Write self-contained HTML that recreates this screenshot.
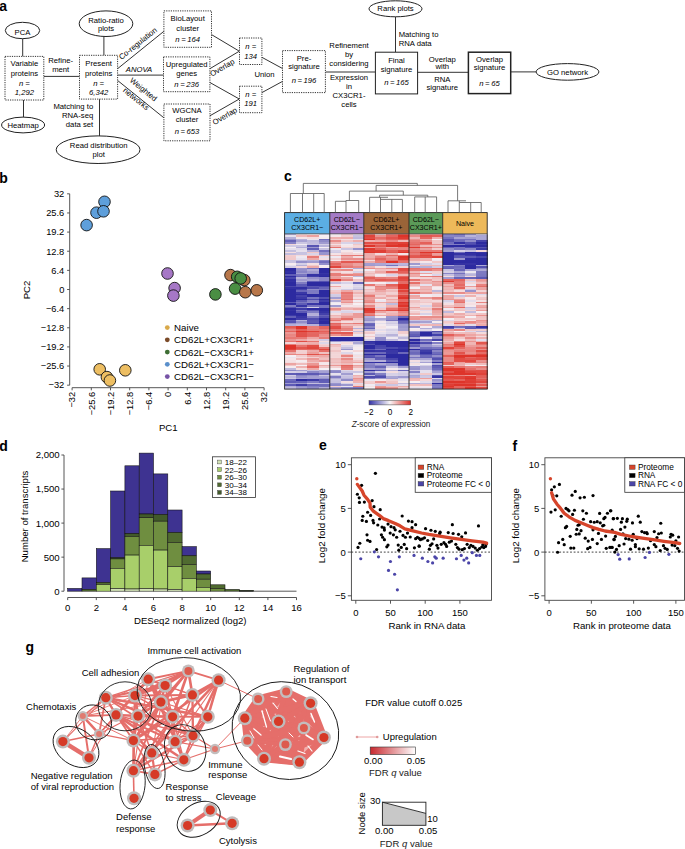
<!DOCTYPE html>
<html><head><meta charset="utf-8"><style>
html,body{margin:0;padding:0;background:#fff;width:685px;height:849px;overflow:hidden}
svg{display:block;font-family:"Liberation Sans",sans-serif}
</style></head><body>
<svg width="685" height="849" viewBox="0 0 685 849">
<rect width="685" height="849" fill="#fff"/>
<text x="-0.80" y="10.80" font-size="14" font-weight="bold" fill="#000" >a</text>
<line x1="22.70" y1="38.70" x2="22.70" y2="56.40" stroke="#333" stroke-width="1" />
<line x1="23.50" y1="99.10" x2="23.50" y2="117.10" stroke="#333" stroke-width="1" />
<line x1="43.80" y1="76.40" x2="79.50" y2="76.40" stroke="#333" stroke-width="1" />
<line x1="103.90" y1="36.50" x2="103.90" y2="55.30" stroke="#333" stroke-width="1" />
<line x1="99.50" y1="99.10" x2="99.50" y2="135.90" stroke="#333" stroke-width="1" />
<line x1="117.60" y1="68.70" x2="163.90" y2="31.30" stroke="#333" stroke-width="1" />
<line x1="117.60" y1="75.10" x2="163.90" y2="75.10" stroke="#333" stroke-width="1" />
<line x1="117.50" y1="80.40" x2="163.90" y2="117.80" stroke="#333" stroke-width="1" />
<line x1="211.50" y1="34.60" x2="239.30" y2="51.20" stroke="#333" stroke-width="1" />
<line x1="209.90" y1="68.70" x2="239.30" y2="51.20" stroke="#333" stroke-width="1" />
<line x1="209.90" y1="82.50" x2="239.30" y2="99.00" stroke="#333" stroke-width="1" />
<line x1="209.90" y1="115.80" x2="239.30" y2="99.00" stroke="#333" stroke-width="1" />
<line x1="261.90" y1="57.30" x2="282.50" y2="68.50" stroke="#333" stroke-width="1" />
<line x1="261.90" y1="92.60" x2="282.50" y2="81.40" stroke="#333" stroke-width="1" />
<line x1="325.40" y1="72.00" x2="375.40" y2="72.00" stroke="#333" stroke-width="1" />
<line x1="395.50" y1="16.90" x2="395.50" y2="52.20" stroke="#333" stroke-width="1" />
<line x1="417.30" y1="72.30" x2="468.40" y2="72.30" stroke="#333" stroke-width="1" />
<line x1="510.70" y1="71.90" x2="536.10" y2="71.90" stroke="#333" stroke-width="1" />
<ellipse cx="22.50" cy="30.50" rx="17.20" ry="8.20" fill="none" stroke="#222" stroke-width="1"/>
<text x="22.50" y="35.00" font-size="7.7" text-anchor="middle" >PCA</text>
<ellipse cx="23.10" cy="125.00" rx="21.50" ry="7.90" fill="none" stroke="#222" stroke-width="1"/>
<text x="23.10" y="127.70" font-size="7.7" text-anchor="middle" >Heatmap</text>
<ellipse cx="106.00" cy="23.70" rx="26.80" ry="12.80" fill="none" stroke="#222" stroke-width="1"/>
<text x="106.00" y="22.50" font-size="7.7" text-anchor="middle" >Ratio-ratio</text>
<text x="106.00" y="31.30" font-size="7.7" text-anchor="middle" >plots</text>
<ellipse cx="98.10" cy="149.70" rx="41.90" ry="13.80" fill="none" stroke="#222" stroke-width="1"/>
<text x="98.70" y="148.10" font-size="7.7" text-anchor="middle" >Read distribution</text>
<text x="98.70" y="157.30" font-size="7.7" text-anchor="middle" >plot</text>
<ellipse cx="395.50" cy="8.80" rx="26.50" ry="8.00" fill="none" stroke="#222" stroke-width="1"/>
<text x="395.50" y="10.90" font-size="7.7" text-anchor="middle" >Rank plots</text>
<ellipse cx="567.50" cy="71.90" rx="31.40" ry="8.30" fill="none" stroke="#222" stroke-width="1"/>
<text x="567.50" y="74.70" font-size="7.7" text-anchor="middle" >GO network</text>
<rect x="5.00" y="56.40" width="38.80" height="43.60" fill="#fff" stroke="#333" stroke-width="1" stroke-dasharray="1.2 1.1"/>
<text x="24.40" y="66.20" font-size="7.7" text-anchor="middle" >Variable</text>
<text x="24.40" y="75.80" font-size="7.7" text-anchor="middle" >proteins</text>
<text x="24.40" y="85.60" font-size="7.7" text-anchor="middle" font-style="italic" >n =</text>
<text x="24.40" y="95.30" font-size="7.7" text-anchor="middle" font-style="italic" >1,292</text>
<text x="60.70" y="63.00" font-size="7.7" text-anchor="middle" >Refine-</text>
<text x="60.70" y="71.80" font-size="7.7" text-anchor="middle" >ment</text>
<rect x="79.50" y="55.30" width="38.10" height="43.80" fill="#fff" stroke="#333" stroke-width="1" stroke-dasharray="1.2 1.1"/>
<text x="98.60" y="66.10" font-size="7.7" text-anchor="middle" >Present</text>
<text x="98.60" y="75.90" font-size="7.7" text-anchor="middle" >proteins</text>
<text x="98.60" y="85.50" font-size="7.7" text-anchor="middle" font-style="italic" >n =</text>
<text x="98.60" y="95.00" font-size="7.7" text-anchor="middle" font-style="italic" >6,342</text>
<text x="93.20" y="109.30" font-size="7.7" text-anchor="end" >Matching to</text>
<text x="93.20" y="117.90" font-size="7.7" text-anchor="end" >RNA-seq</text>
<text x="93.20" y="127.30" font-size="7.7" text-anchor="end" >data set</text>
<text x="139.50" y="45.50" font-size="7.7" text-anchor="middle" transform="rotate(-38.8 139.50 45.50)" >Co-regulation</text>
<text x="139.00" y="72.00" font-size="7.7" text-anchor="middle" font-style="italic" >ANOVA</text>
<text x="141.80" y="91.50" font-size="7.7" text-anchor="middle" transform="rotate(38.9 141.80 91.50)" >Weighted</text>
<text x="134.50" y="101.00" font-size="7.7" text-anchor="middle" transform="rotate(38.9 134.50 101.00)" >networks</text>
<rect x="163.90" y="10.90" width="47.60" height="36.40" fill="#fff" stroke="#333" stroke-width="1" stroke-dasharray="1.2 1.1"/>
<text x="187.70" y="21.40" font-size="7.7" text-anchor="middle" >BioLayout</text>
<text x="187.70" y="30.60" font-size="7.7" text-anchor="middle" >cluster</text>
<text x="187.70" y="41.80" font-size="7.7" text-anchor="middle" font-style="italic" >n = 164</text>
<rect x="163.50" y="56.90" width="46.40" height="34.80" fill="#fff" stroke="#333" stroke-width="1" stroke-dasharray="1.2 1.1"/>
<text x="186.70" y="66.80" font-size="7.7" text-anchor="middle" >Upregulated</text>
<text x="186.70" y="76.00" font-size="7.7" text-anchor="middle" >genes</text>
<text x="186.70" y="86.50" font-size="7.7" text-anchor="middle" font-style="italic" >n = 236</text>
<rect x="163.90" y="104.00" width="46.10" height="36.80" fill="#fff" stroke="#333" stroke-width="1" stroke-dasharray="1.2 1.1"/>
<text x="187.00" y="112.60" font-size="7.7" text-anchor="middle" >WGCNA</text>
<text x="187.00" y="121.80" font-size="7.7" text-anchor="middle" >cluster</text>
<text x="187.00" y="133.60" font-size="7.7" text-anchor="middle" font-style="italic" >n = 653</text>
<text x="223.50" y="70.00" font-size="7.7" text-anchor="middle" transform="rotate(-30.5 223.50 70.00)" >Overlap</text>
<text x="226.20" y="118.30" font-size="7.7" text-anchor="middle" transform="rotate(-30.5 226.20 118.30)" >Overlap</text>
<rect x="239.50" y="38.00" width="22.40" height="26.50" fill="#fff" stroke="#333" stroke-width="1" stroke-dasharray="1.2 1.1"/>
<text x="250.70" y="49.30" font-size="7.7" text-anchor="middle" font-style="italic" >n =</text>
<text x="250.70" y="58.90" font-size="7.7" text-anchor="middle" font-style="italic" >134</text>
<rect x="239.50" y="86.20" width="22.40" height="26.50" fill="#fff" stroke="#333" stroke-width="1" stroke-dasharray="1.2 1.1"/>
<text x="250.70" y="96.60" font-size="7.7" text-anchor="middle" font-style="italic" >n =</text>
<text x="250.70" y="105.50" font-size="7.7" text-anchor="middle" font-style="italic" >191</text>
<text x="264.50" y="77.40" font-size="7.7" text-anchor="middle" >Union</text>
<rect x="282.50" y="50.60" width="42.90" height="42.00" fill="#fff" stroke="#333" stroke-width="1" stroke-dasharray="1.2 1.1"/>
<text x="304.00" y="60.50" font-size="7.7" text-anchor="middle" >Pre-</text>
<text x="304.00" y="69.30" font-size="7.7" text-anchor="middle" >signature</text>
<text x="304.00" y="83.00" font-size="7.7" text-anchor="middle" font-style="italic" >n = 196</text>
<text x="349.00" y="47.90" font-size="7.7" text-anchor="middle" >Refinement</text>
<text x="349.00" y="57.00" font-size="7.7" text-anchor="middle" >by</text>
<text x="349.00" y="65.80" font-size="7.7" text-anchor="middle" >considering</text>
<text x="349.00" y="80.30" font-size="7.7" text-anchor="middle" >Expression</text>
<text x="349.00" y="89.40" font-size="7.7" text-anchor="middle" >in</text>
<text x="349.00" y="98.30" font-size="7.7" text-anchor="middle" >CX3CR1-</text>
<text x="349.00" y="107.30" font-size="7.7" text-anchor="middle" >cells</text>
<rect x="375.40" y="52.20" width="42.20" height="41.70" fill="#fff" stroke="#222" stroke-width="1" />
<text x="396.50" y="63.10" font-size="7.7" text-anchor="middle" >Final</text>
<text x="396.50" y="72.30" font-size="7.7" text-anchor="middle" >signature</text>
<text x="396.50" y="85.10" font-size="7.7" text-anchor="middle" font-style="italic" >n = 165</text>
<text x="398.70" y="36.60" font-size="7.7" >Matching to</text>
<text x="398.70" y="45.80" font-size="7.7" >RNA data</text>
<text x="442.30" y="61.50" font-size="7.7" text-anchor="middle" >Overlap</text>
<text x="442.30" y="69.40" font-size="7.7" text-anchor="middle" >with</text>
<text x="442.30" y="81.70" font-size="7.7" text-anchor="middle" >RNA</text>
<text x="442.30" y="90.40" font-size="7.7" text-anchor="middle" >signature</text>
<rect x="468.40" y="52.20" width="42.30" height="41.40" fill="#fff" stroke="#222" stroke-width="1.5" />
<text x="489.50" y="61.50" font-size="7.7" text-anchor="middle" >Overlap</text>
<text x="489.50" y="70.00" font-size="7.7" text-anchor="middle" >signature</text>
<text x="489.50" y="85.50" font-size="7.7" text-anchor="middle" font-style="italic" >n = 65</text>
<text x="-0.80" y="182.50" font-size="14" font-weight="bold" fill="#000" >b</text>
<line x1="69.70" y1="193.82" x2="69.70" y2="385.18" stroke="#444" stroke-width="0.9" />
<line x1="67.10" y1="193.82" x2="69.70" y2="193.82" stroke="#444" stroke-width="0.9" />
<text x="64.30" y="197.12" font-size="9.3" text-anchor="end" >32</text>
<line x1="67.10" y1="212.96" x2="69.70" y2="212.96" stroke="#444" stroke-width="0.9" />
<text x="64.30" y="216.26" font-size="9.3" text-anchor="end" >25.6</text>
<line x1="67.10" y1="232.09" x2="69.70" y2="232.09" stroke="#444" stroke-width="0.9" />
<text x="64.30" y="235.39" font-size="9.3" text-anchor="end" >19.2</text>
<line x1="67.10" y1="251.23" x2="69.70" y2="251.23" stroke="#444" stroke-width="0.9" />
<text x="64.30" y="254.53" font-size="9.3" text-anchor="end" >12.8</text>
<line x1="67.10" y1="270.36" x2="69.70" y2="270.36" stroke="#444" stroke-width="0.9" />
<text x="64.30" y="273.66" font-size="9.3" text-anchor="end" >6.4</text>
<line x1="67.10" y1="289.50" x2="69.70" y2="289.50" stroke="#444" stroke-width="0.9" />
<text x="64.30" y="292.80" font-size="9.3" text-anchor="end" >0</text>
<line x1="67.10" y1="308.64" x2="69.70" y2="308.64" stroke="#444" stroke-width="0.9" />
<text x="64.30" y="311.94" font-size="9.3" text-anchor="end" >−6.4</text>
<line x1="67.10" y1="327.77" x2="69.70" y2="327.77" stroke="#444" stroke-width="0.9" />
<text x="64.30" y="331.07" font-size="9.3" text-anchor="end" >−12.8</text>
<line x1="67.10" y1="346.91" x2="69.70" y2="346.91" stroke="#444" stroke-width="0.9" />
<text x="64.30" y="350.21" font-size="9.3" text-anchor="end" >−19.2</text>
<line x1="67.10" y1="366.04" x2="69.70" y2="366.04" stroke="#444" stroke-width="0.9" />
<text x="64.30" y="369.34" font-size="9.3" text-anchor="end" >−25.6</text>
<line x1="67.10" y1="385.18" x2="69.70" y2="385.18" stroke="#444" stroke-width="0.9" />
<text x="64.30" y="388.48" font-size="9.3" text-anchor="end" >−32</text>
<line x1="72.10" y1="387.70" x2="264.10" y2="387.70" stroke="#444" stroke-width="0.9" />
<line x1="264.10" y1="387.70" x2="264.10" y2="390.30" stroke="#444" stroke-width="0.9" />
<text x="267.40" y="391.80" font-size="9.3" text-anchor="end" transform="rotate(-90 267.40 391.80)" >32</text>
<line x1="244.90" y1="387.70" x2="244.90" y2="390.30" stroke="#444" stroke-width="0.9" />
<text x="248.20" y="391.80" font-size="9.3" text-anchor="end" transform="rotate(-90 248.20 391.80)" >25.6</text>
<line x1="225.70" y1="387.70" x2="225.70" y2="390.30" stroke="#444" stroke-width="0.9" />
<text x="229.00" y="391.80" font-size="9.3" text-anchor="end" transform="rotate(-90 229.00 391.80)" >19.2</text>
<line x1="206.50" y1="387.70" x2="206.50" y2="390.30" stroke="#444" stroke-width="0.9" />
<text x="209.80" y="391.80" font-size="9.3" text-anchor="end" transform="rotate(-90 209.80 391.80)" >12.8</text>
<line x1="187.30" y1="387.70" x2="187.30" y2="390.30" stroke="#444" stroke-width="0.9" />
<text x="190.60" y="391.80" font-size="9.3" text-anchor="end" transform="rotate(-90 190.60 391.80)" >6.4</text>
<line x1="168.10" y1="387.70" x2="168.10" y2="390.30" stroke="#444" stroke-width="0.9" />
<text x="171.40" y="391.80" font-size="9.3" text-anchor="end" transform="rotate(-90 171.40 391.80)" >0</text>
<line x1="148.90" y1="387.70" x2="148.90" y2="390.30" stroke="#444" stroke-width="0.9" />
<text x="152.20" y="391.80" font-size="9.3" text-anchor="end" transform="rotate(-90 152.20 391.80)" >−6.4</text>
<line x1="129.70" y1="387.70" x2="129.70" y2="390.30" stroke="#444" stroke-width="0.9" />
<text x="133.00" y="391.80" font-size="9.3" text-anchor="end" transform="rotate(-90 133.00 391.80)" >−12.8</text>
<line x1="110.50" y1="387.70" x2="110.50" y2="390.30" stroke="#444" stroke-width="0.9" />
<text x="113.80" y="391.80" font-size="9.3" text-anchor="end" transform="rotate(-90 113.80 391.80)" >−19.2</text>
<line x1="91.30" y1="387.70" x2="91.30" y2="390.30" stroke="#444" stroke-width="0.9" />
<text x="94.60" y="391.80" font-size="9.3" text-anchor="end" transform="rotate(-90 94.60 391.80)" >−25.6</text>
<line x1="72.10" y1="387.70" x2="72.10" y2="390.30" stroke="#444" stroke-width="0.9" />
<text x="75.40" y="391.80" font-size="9.3" text-anchor="end" transform="rotate(-90 75.40 391.80)" >−32</text>
<text x="168.30" y="431.00" font-size="9.6" text-anchor="middle" >PC1</text>
<text x="29.60" y="290.00" font-size="9.6" text-anchor="middle" transform="rotate(-90 29.60 290.00)" >PC2</text>
<circle cx="86.60" cy="225.10" r="5.80" fill="#5E9FDB" stroke="#111" stroke-width="0.9" />
<circle cx="104.50" cy="201.80" r="5.80" fill="#5E9FDB" stroke="#111" stroke-width="0.9" />
<circle cx="96.50" cy="212.70" r="5.80" fill="#5E9FDB" stroke="#111" stroke-width="0.9" />
<circle cx="103.50" cy="211.30" r="5.80" fill="#5E9FDB" stroke="#111" stroke-width="0.9" />
<circle cx="99.70" cy="369.30" r="5.80" fill="#EDBE62" stroke="#111" stroke-width="0.9" />
<circle cx="106.90" cy="377.10" r="5.80" fill="#EDBE62" stroke="#111" stroke-width="0.9" />
<circle cx="109.90" cy="380.50" r="5.80" fill="#EDBE62" stroke="#111" stroke-width="0.9" />
<circle cx="125.30" cy="370.30" r="5.80" fill="#EDBE62" stroke="#111" stroke-width="0.9" />
<circle cx="167.50" cy="273.50" r="5.80" fill="#A677C6" stroke="#111" stroke-width="0.9" />
<circle cx="174.60" cy="288.10" r="5.80" fill="#A677C6" stroke="#111" stroke-width="0.9" />
<circle cx="173.40" cy="295.60" r="5.80" fill="#A677C6" stroke="#111" stroke-width="0.9" />
<circle cx="215.40" cy="294.40" r="5.80" fill="#4A8E43" stroke="#111" stroke-width="0.9" />
<circle cx="230.50" cy="275.10" r="5.80" fill="#B8774A" stroke="#111" stroke-width="0.9" />
<circle cx="244.30" cy="280.10" r="5.80" fill="#B8774A" stroke="#111" stroke-width="0.9" />
<circle cx="237.20" cy="276.80" r="5.80" fill="#4A8E43" stroke="#111" stroke-width="0.9" />
<circle cx="240.70" cy="278.40" r="5.80" fill="#4A8E43" stroke="#111" stroke-width="0.9" />
<circle cx="235.10" cy="288.60" r="5.80" fill="#4A8E43" stroke="#111" stroke-width="0.9" />
<circle cx="245.30" cy="292.20" r="5.80" fill="#B8774A" stroke="#111" stroke-width="0.9" />
<circle cx="256.80" cy="290.30" r="5.80" fill="#B8774A" stroke="#111" stroke-width="0.9" />
<circle cx="167.30" cy="327.60" r="2.40" fill="#D9A94A" />
<text x="174.10" y="331.00" font-size="9.7" >Naive</text>
<circle cx="167.30" cy="339.85" r="2.40" fill="#7A4A28" />
<text x="174.10" y="343.25" font-size="9.7" >CD62L+CX3CR1+</text>
<circle cx="167.30" cy="352.10" r="2.40" fill="#3E6E34" />
<text x="174.10" y="355.50" font-size="9.7" >CD62L−CX3CR1+</text>
<circle cx="167.30" cy="364.35" r="2.40" fill="#5A8FCB" />
<text x="174.10" y="367.75" font-size="9.7" >CD62L+CX3CR1−</text>
<circle cx="167.30" cy="376.60" r="2.40" fill="#7653A6" />
<text x="174.10" y="380.00" font-size="9.7" >CD62L−CX3CR1−</text>
<text x="284.00" y="181.40" font-size="14" font-weight="bold" fill="#000" >c</text>
<g shape-rendering="crispEdges"><rect x="284.6" y="233.80" width="11.6" height="1.92" fill="#b3aed8"/><rect x="295.9" y="233.80" width="11.6" height="1.92" fill="#f3dcde"/><rect x="307.2" y="233.80" width="11.6" height="1.92" fill="#f5ebef"/><rect x="318.5" y="233.80" width="11.6" height="1.92" fill="#d6d1e7"/><rect x="284.6" y="235.42" width="11.6" height="1.92" fill="#e7e1ee"/><rect x="295.9" y="235.42" width="11.6" height="1.92" fill="#efb9b9"/><rect x="307.2" y="235.42" width="11.6" height="1.92" fill="#eca19f"/><rect x="318.5" y="235.42" width="11.6" height="1.92" fill="#f6eef2"/><rect x="284.6" y="237.04" width="11.6" height="1.92" fill="#b6b1d9"/><rect x="295.9" y="237.04" width="11.6" height="1.92" fill="#f5e5e8"/><rect x="307.2" y="237.04" width="11.6" height="1.92" fill="#f4dde0"/><rect x="318.5" y="237.04" width="11.6" height="1.92" fill="#f5ecef"/><rect x="284.6" y="238.65" width="11.6" height="1.92" fill="#9793cc"/><rect x="295.9" y="238.65" width="11.6" height="1.92" fill="#b8b3da"/><rect x="307.2" y="238.65" width="11.6" height="1.92" fill="#ebe5ef"/><rect x="318.5" y="238.65" width="11.6" height="1.92" fill="#7370be"/><rect x="284.6" y="240.27" width="11.6" height="1.92" fill="#6663b8"/><rect x="295.9" y="240.27" width="11.6" height="1.92" fill="#a7a2d3"/><rect x="307.2" y="240.27" width="11.6" height="1.92" fill="#bcb7dc"/><rect x="318.5" y="240.27" width="11.6" height="1.92" fill="#8f8bc9"/><rect x="284.6" y="241.89" width="11.6" height="1.92" fill="#8581c5"/><rect x="295.9" y="241.89" width="11.6" height="1.92" fill="#cbc6e2"/><rect x="307.2" y="241.89" width="11.6" height="1.92" fill="#c1bcde"/><rect x="318.5" y="241.89" width="11.6" height="1.92" fill="#a09bd0"/><rect x="284.6" y="243.51" width="11.6" height="1.92" fill="#f3d7d9"/><rect x="295.9" y="243.51" width="11.6" height="1.92" fill="#f0eaf1"/><rect x="307.2" y="243.51" width="11.6" height="1.92" fill="#c5c0e0"/><rect x="318.5" y="243.51" width="11.6" height="1.92" fill="#d4cfe6"/><rect x="284.6" y="245.12" width="11.6" height="1.92" fill="#d0cbe4"/><rect x="295.9" y="245.12" width="11.6" height="1.92" fill="#cbc6e2"/><rect x="307.2" y="245.12" width="11.6" height="1.92" fill="#5855b2"/><rect x="318.5" y="245.12" width="11.6" height="1.92" fill="#b8b3da"/><rect x="284.6" y="246.74" width="11.6" height="1.92" fill="#f6eef2"/><rect x="295.9" y="246.74" width="11.6" height="1.92" fill="#b2add8"/><rect x="307.2" y="246.74" width="11.6" height="1.92" fill="#9c97ce"/><rect x="318.5" y="246.74" width="11.6" height="1.92" fill="#f6eff3"/><rect x="284.6" y="248.36" width="11.6" height="1.92" fill="#e5dfed"/><rect x="295.9" y="248.36" width="11.6" height="1.92" fill="#dfdaea"/><rect x="307.2" y="248.36" width="11.6" height="1.92" fill="#6360b7"/><rect x="318.5" y="248.36" width="11.6" height="1.92" fill="#c7c2e1"/><rect x="284.6" y="249.98" width="11.6" height="1.92" fill="#c4bfdf"/><rect x="295.9" y="249.98" width="11.6" height="1.92" fill="#e6e0ed"/><rect x="307.2" y="249.98" width="11.6" height="1.92" fill="#b6b1d9"/><rect x="318.5" y="249.98" width="11.6" height="1.92" fill="#7470be"/><rect x="284.6" y="251.59" width="11.6" height="1.92" fill="#f4dee0"/><rect x="295.9" y="251.59" width="11.6" height="1.92" fill="#c7c2e0"/><rect x="307.2" y="251.59" width="11.6" height="1.92" fill="#f1c6c7"/><rect x="318.5" y="251.59" width="11.6" height="1.92" fill="#9894cd"/><rect x="284.6" y="253.21" width="11.6" height="1.92" fill="#c1bcde"/><rect x="295.9" y="253.21" width="11.6" height="1.92" fill="#c8c3e1"/><rect x="307.2" y="253.21" width="11.6" height="1.92" fill="#d9d4e8"/><rect x="318.5" y="253.21" width="11.6" height="1.92" fill="#9894cd"/><rect x="284.6" y="254.83" width="11.6" height="1.92" fill="#f2cecf"/><rect x="295.9" y="254.83" width="11.6" height="1.92" fill="#f3dcdf"/><rect x="307.2" y="254.83" width="11.6" height="1.92" fill="#f1c9ca"/><rect x="318.5" y="254.83" width="11.6" height="1.92" fill="#f0bfc0"/><rect x="284.6" y="256.45" width="11.6" height="1.92" fill="#f1cacc"/><rect x="295.9" y="256.45" width="11.6" height="1.92" fill="#eee8f1"/><rect x="307.2" y="256.45" width="11.6" height="1.92" fill="#e77e79"/><rect x="318.5" y="256.45" width="11.6" height="1.92" fill="#e6e0ed"/><rect x="284.6" y="258.07" width="11.6" height="1.92" fill="#f1c9ca"/><rect x="295.9" y="258.07" width="11.6" height="1.92" fill="#e7e1ee"/><rect x="307.2" y="258.07" width="11.6" height="1.92" fill="#eda9a7"/><rect x="318.5" y="258.07" width="11.6" height="1.92" fill="#f4dee1"/><rect x="284.6" y="259.68" width="11.6" height="1.92" fill="#c8c2e1"/><rect x="295.9" y="259.68" width="11.6" height="1.92" fill="#bfbadd"/><rect x="307.2" y="259.68" width="11.6" height="1.92" fill="#b5b0d9"/><rect x="318.5" y="259.68" width="11.6" height="1.92" fill="#8d89c8"/><rect x="284.6" y="261.30" width="11.6" height="1.92" fill="#c9c4e1"/><rect x="295.9" y="261.30" width="11.6" height="1.92" fill="#9490cb"/><rect x="307.2" y="261.30" width="11.6" height="1.92" fill="#a19dd1"/><rect x="318.5" y="261.30" width="11.6" height="1.92" fill="#736fbd"/><rect x="284.6" y="262.92" width="11.6" height="1.92" fill="#f6ecf0"/><rect x="295.9" y="262.92" width="11.6" height="1.92" fill="#d4cfe6"/><rect x="307.2" y="262.92" width="11.6" height="1.92" fill="#f4e0e3"/><rect x="318.5" y="262.92" width="11.6" height="1.92" fill="#938fcb"/><rect x="284.6" y="264.54" width="11.6" height="1.92" fill="#e7e1ee"/><rect x="295.9" y="264.54" width="11.6" height="1.92" fill="#b3afd8"/><rect x="307.2" y="264.54" width="11.6" height="1.92" fill="#f1cbcc"/><rect x="318.5" y="264.54" width="11.6" height="1.92" fill="#f6eff3"/><rect x="284.6" y="266.15" width="11.6" height="1.92" fill="#d3cde5"/><rect x="295.9" y="266.15" width="11.6" height="1.92" fill="#f3d7da"/><rect x="307.2" y="266.15" width="11.6" height="1.92" fill="#edaaa9"/><rect x="318.5" y="266.15" width="11.6" height="1.92" fill="#f5ebef"/><rect x="284.6" y="267.77" width="11.6" height="1.92" fill="#2c2aa0"/><rect x="295.9" y="267.77" width="11.6" height="1.92" fill="#9792cc"/><rect x="307.2" y="267.77" width="11.6" height="1.92" fill="#7774bf"/><rect x="318.5" y="267.77" width="11.6" height="1.92" fill="#2c2aa0"/><rect x="284.6" y="269.39" width="11.6" height="1.92" fill="#2c2aa0"/><rect x="295.9" y="269.39" width="11.6" height="1.92" fill="#928ecb"/><rect x="307.2" y="269.39" width="11.6" height="1.92" fill="#b0abd7"/><rect x="318.5" y="269.39" width="11.6" height="1.92" fill="#2c2aa0"/><rect x="284.6" y="271.01" width="11.6" height="1.92" fill="#3331a3"/><rect x="295.9" y="271.01" width="11.6" height="1.92" fill="#8985c7"/><rect x="307.2" y="271.01" width="11.6" height="1.92" fill="#9d98cf"/><rect x="318.5" y="271.01" width="11.6" height="1.92" fill="#2c2aa0"/><rect x="284.6" y="272.62" width="11.6" height="1.92" fill="#2c2aa0"/><rect x="295.9" y="272.62" width="11.6" height="1.92" fill="#a29ed1"/><rect x="307.2" y="272.62" width="11.6" height="1.92" fill="#9490cb"/><rect x="318.5" y="272.62" width="11.6" height="1.92" fill="#3735a5"/><rect x="284.6" y="274.24" width="11.6" height="1.92" fill="#605db6"/><rect x="295.9" y="274.24" width="11.6" height="1.92" fill="#7875c0"/><rect x="307.2" y="274.24" width="11.6" height="1.92" fill="#3533a4"/><rect x="318.5" y="274.24" width="11.6" height="1.92" fill="#312fa2"/><rect x="284.6" y="275.86" width="11.6" height="1.92" fill="#2c2aa0"/><rect x="295.9" y="275.86" width="11.6" height="1.92" fill="#6965b9"/><rect x="307.2" y="275.86" width="11.6" height="1.92" fill="#413ea9"/><rect x="318.5" y="275.86" width="11.6" height="1.92" fill="#2c2aa0"/><rect x="284.6" y="277.48" width="11.6" height="1.92" fill="#4a48ad"/><rect x="295.9" y="277.48" width="11.6" height="1.92" fill="#b8b4da"/><rect x="307.2" y="277.48" width="11.6" height="1.92" fill="#9590cb"/><rect x="318.5" y="277.48" width="11.6" height="1.92" fill="#8985c7"/><rect x="284.6" y="279.10" width="11.6" height="1.92" fill="#302ea2"/><rect x="295.9" y="279.10" width="11.6" height="1.92" fill="#a09bd0"/><rect x="307.2" y="279.10" width="11.6" height="1.92" fill="#a6a1d3"/><rect x="318.5" y="279.10" width="11.6" height="1.92" fill="#8a86c7"/><rect x="284.6" y="280.71" width="11.6" height="1.92" fill="#3331a3"/><rect x="295.9" y="280.71" width="11.6" height="1.92" fill="#b2aed8"/><rect x="307.2" y="280.71" width="11.6" height="1.92" fill="#605db6"/><rect x="318.5" y="280.71" width="11.6" height="1.92" fill="#5451b1"/><rect x="284.6" y="282.33" width="11.6" height="1.92" fill="#2c2aa0"/><rect x="295.9" y="282.33" width="11.6" height="1.92" fill="#817dc3"/><rect x="307.2" y="282.33" width="11.6" height="1.92" fill="#2c2aa0"/><rect x="318.5" y="282.33" width="11.6" height="1.92" fill="#2c2aa0"/><rect x="284.6" y="283.95" width="11.6" height="1.92" fill="#2c2aa0"/><rect x="295.9" y="283.95" width="11.6" height="1.92" fill="#5c59b4"/><rect x="307.2" y="283.95" width="11.6" height="1.92" fill="#2c2aa0"/><rect x="318.5" y="283.95" width="11.6" height="1.92" fill="#2c2aa0"/><rect x="284.6" y="285.57" width="11.6" height="1.92" fill="#4946ac"/><rect x="295.9" y="285.57" width="11.6" height="1.92" fill="#5b58b3"/><rect x="307.2" y="285.57" width="11.6" height="1.92" fill="#5855b2"/><rect x="318.5" y="285.57" width="11.6" height="1.92" fill="#4f4cae"/><rect x="284.6" y="287.18" width="11.6" height="1.92" fill="#3331a3"/><rect x="295.9" y="287.18" width="11.6" height="1.92" fill="#312fa2"/><rect x="307.2" y="287.18" width="11.6" height="1.92" fill="#4e4bae"/><rect x="318.5" y="287.18" width="11.6" height="1.92" fill="#6663b8"/><rect x="284.6" y="288.80" width="11.6" height="1.92" fill="#2c2aa0"/><rect x="295.9" y="288.80" width="11.6" height="1.92" fill="#4745ab"/><rect x="307.2" y="288.80" width="11.6" height="1.92" fill="#918dca"/><rect x="318.5" y="288.80" width="11.6" height="1.92" fill="#7a76c0"/><rect x="284.6" y="290.42" width="11.6" height="1.92" fill="#2c2aa0"/><rect x="295.9" y="290.42" width="11.6" height="1.92" fill="#6a67ba"/><rect x="307.2" y="290.42" width="11.6" height="1.92" fill="#7d7ac2"/><rect x="318.5" y="290.42" width="11.6" height="1.92" fill="#2c2aa0"/><rect x="284.6" y="292.04" width="11.6" height="1.92" fill="#2c2aa0"/><rect x="295.9" y="292.04" width="11.6" height="1.92" fill="#3a38a6"/><rect x="307.2" y="292.04" width="11.6" height="1.92" fill="#7e7ac2"/><rect x="318.5" y="292.04" width="11.6" height="1.92" fill="#2c2aa0"/><rect x="284.6" y="293.66" width="11.6" height="1.92" fill="#2c2aa0"/><rect x="295.9" y="293.66" width="11.6" height="1.92" fill="#2c2aa0"/><rect x="307.2" y="293.66" width="11.6" height="1.92" fill="#2c2aa0"/><rect x="318.5" y="293.66" width="11.6" height="1.92" fill="#2c2aa0"/><rect x="284.6" y="295.27" width="11.6" height="1.92" fill="#2c2aa0"/><rect x="295.9" y="295.27" width="11.6" height="1.92" fill="#4643ab"/><rect x="307.2" y="295.27" width="11.6" height="1.92" fill="#2c2aa0"/><rect x="318.5" y="295.27" width="11.6" height="1.92" fill="#2c2aa0"/><rect x="284.6" y="296.89" width="11.6" height="1.92" fill="#2c2aa0"/><rect x="295.9" y="296.89" width="11.6" height="1.92" fill="#3b39a6"/><rect x="307.2" y="296.89" width="11.6" height="1.92" fill="#7875c0"/><rect x="318.5" y="296.89" width="11.6" height="1.92" fill="#5250b0"/><rect x="284.6" y="298.51" width="11.6" height="1.92" fill="#2c2aa0"/><rect x="295.9" y="298.51" width="11.6" height="1.92" fill="#2c2aa0"/><rect x="307.2" y="298.51" width="11.6" height="1.92" fill="#4e4cae"/><rect x="318.5" y="298.51" width="11.6" height="1.92" fill="#2c2aa0"/><rect x="284.6" y="300.13" width="11.6" height="1.92" fill="#2c2aa0"/><rect x="295.9" y="300.13" width="11.6" height="1.92" fill="#5e5bb5"/><rect x="307.2" y="300.13" width="11.6" height="1.92" fill="#8480c4"/><rect x="318.5" y="300.13" width="11.6" height="1.92" fill="#3f3da8"/><rect x="284.6" y="301.74" width="11.6" height="1.92" fill="#5b58b4"/><rect x="295.9" y="301.74" width="11.6" height="1.92" fill="#7a77c1"/><rect x="307.2" y="301.74" width="11.6" height="1.92" fill="#8b88c8"/><rect x="318.5" y="301.74" width="11.6" height="1.92" fill="#2c2aa0"/><rect x="284.6" y="303.36" width="11.6" height="1.92" fill="#2c2aa0"/><rect x="295.9" y="303.36" width="11.6" height="1.92" fill="#605db6"/><rect x="307.2" y="303.36" width="11.6" height="1.92" fill="#3a37a6"/><rect x="318.5" y="303.36" width="11.6" height="1.92" fill="#2c2aa0"/><rect x="284.6" y="304.98" width="11.6" height="1.92" fill="#817dc3"/><rect x="295.9" y="304.98" width="11.6" height="1.92" fill="#3735a5"/><rect x="307.2" y="304.98" width="11.6" height="1.92" fill="#7773bf"/><rect x="318.5" y="304.98" width="11.6" height="1.92" fill="#726fbd"/><rect x="284.6" y="306.60" width="11.6" height="1.92" fill="#5956b3"/><rect x="295.9" y="306.60" width="11.6" height="1.92" fill="#8783c6"/><rect x="307.2" y="306.60" width="11.6" height="1.92" fill="#d3cee5"/><rect x="318.5" y="306.60" width="11.6" height="1.92" fill="#7370be"/><rect x="284.6" y="308.21" width="11.6" height="1.92" fill="#2c2aa0"/><rect x="295.9" y="308.21" width="11.6" height="1.92" fill="#3c3aa7"/><rect x="307.2" y="308.21" width="11.6" height="1.92" fill="#2c2aa0"/><rect x="318.5" y="308.21" width="11.6" height="1.92" fill="#2c2aa0"/><rect x="284.6" y="309.83" width="11.6" height="1.92" fill="#3432a3"/><rect x="295.9" y="309.83" width="11.6" height="1.92" fill="#7975c0"/><rect x="307.2" y="309.83" width="11.6" height="1.92" fill="#5b58b4"/><rect x="318.5" y="309.83" width="11.6" height="1.92" fill="#2c2aa0"/><rect x="284.6" y="311.45" width="11.6" height="1.92" fill="#2c2aa0"/><rect x="295.9" y="311.45" width="11.6" height="1.92" fill="#5c59b4"/><rect x="307.2" y="311.45" width="11.6" height="1.92" fill="#7f7cc3"/><rect x="318.5" y="311.45" width="11.6" height="1.92" fill="#3432a3"/><rect x="284.6" y="313.07" width="11.6" height="1.92" fill="#2c2aa0"/><rect x="295.9" y="313.07" width="11.6" height="1.92" fill="#2c2aa0"/><rect x="307.2" y="313.07" width="11.6" height="1.92" fill="#b3aed8"/><rect x="318.5" y="313.07" width="11.6" height="1.92" fill="#4341aa"/><rect x="284.6" y="314.69" width="11.6" height="1.92" fill="#3c3aa7"/><rect x="295.9" y="314.69" width="11.6" height="1.92" fill="#2c2aa0"/><rect x="307.2" y="314.69" width="11.6" height="1.92" fill="#b7b2da"/><rect x="318.5" y="314.69" width="11.6" height="1.92" fill="#6662b8"/><rect x="284.6" y="316.30" width="11.6" height="1.92" fill="#625fb6"/><rect x="295.9" y="316.30" width="11.6" height="1.92" fill="#3936a5"/><rect x="307.2" y="316.30" width="11.6" height="1.92" fill="#7f7bc3"/><rect x="318.5" y="316.30" width="11.6" height="1.92" fill="#5451b0"/><rect x="284.6" y="317.92" width="11.6" height="1.92" fill="#2c2aa0"/><rect x="295.9" y="317.92" width="11.6" height="1.92" fill="#413ea9"/><rect x="307.2" y="317.92" width="11.6" height="1.92" fill="#504daf"/><rect x="318.5" y="317.92" width="11.6" height="1.92" fill="#2c2aa0"/><rect x="284.6" y="319.54" width="11.6" height="1.92" fill="#5e5bb5"/><rect x="295.9" y="319.54" width="11.6" height="1.92" fill="#b7b2da"/><rect x="307.2" y="319.54" width="11.6" height="1.92" fill="#5a57b3"/><rect x="318.5" y="319.54" width="11.6" height="1.92" fill="#3432a3"/><rect x="284.6" y="321.16" width="11.6" height="1.92" fill="#5451b1"/><rect x="295.9" y="321.16" width="11.6" height="1.92" fill="#928eca"/><rect x="307.2" y="321.16" width="11.6" height="1.92" fill="#5c59b4"/><rect x="318.5" y="321.16" width="11.6" height="1.92" fill="#2c2aa0"/><rect x="284.6" y="322.77" width="11.6" height="1.92" fill="#9793cd"/><rect x="295.9" y="322.77" width="11.6" height="1.92" fill="#a8a4d4"/><rect x="307.2" y="322.77" width="11.6" height="1.92" fill="#4d4aae"/><rect x="318.5" y="322.77" width="11.6" height="1.92" fill="#2c2aa0"/><rect x="284.6" y="324.39" width="11.6" height="1.92" fill="#b3aed8"/><rect x="295.9" y="324.39" width="11.6" height="1.92" fill="#bcb7dc"/><rect x="307.2" y="324.39" width="11.6" height="1.92" fill="#b6b1d9"/><rect x="318.5" y="324.39" width="11.6" height="1.92" fill="#5e5bb5"/><rect x="284.6" y="326.01" width="11.6" height="1.92" fill="#e35b53"/><rect x="295.9" y="326.01" width="11.6" height="1.92" fill="#de342a"/><rect x="307.2" y="326.01" width="11.6" height="1.92" fill="#e77d79"/><rect x="318.5" y="326.01" width="11.6" height="1.92" fill="#e4655f"/><rect x="284.6" y="327.63" width="11.6" height="1.92" fill="#e56a64"/><rect x="295.9" y="327.63" width="11.6" height="1.92" fill="#de342a"/><rect x="307.2" y="327.63" width="11.6" height="1.92" fill="#e77e7a"/><rect x="318.5" y="327.63" width="11.6" height="1.92" fill="#e4635c"/><rect x="284.6" y="329.24" width="11.6" height="1.92" fill="#e88582"/><rect x="295.9" y="329.24" width="11.6" height="1.92" fill="#e35f58"/><rect x="307.2" y="329.24" width="11.6" height="1.92" fill="#e77974"/><rect x="318.5" y="329.24" width="11.6" height="1.92" fill="#e77c77"/><rect x="284.6" y="330.86" width="11.6" height="1.92" fill="#e4625c"/><rect x="295.9" y="330.86" width="11.6" height="1.92" fill="#de342a"/><rect x="307.2" y="330.86" width="11.6" height="1.92" fill="#e04138"/><rect x="318.5" y="330.86" width="11.6" height="1.92" fill="#e46059"/><rect x="284.6" y="332.48" width="11.6" height="1.92" fill="#eb9794"/><rect x="295.9" y="332.48" width="11.6" height="1.92" fill="#e2544d"/><rect x="307.2" y="332.48" width="11.6" height="1.92" fill="#e56862"/><rect x="318.5" y="332.48" width="11.6" height="1.92" fill="#e66f6a"/><rect x="284.6" y="334.10" width="11.6" height="1.92" fill="#e98783"/><rect x="295.9" y="334.10" width="11.6" height="1.92" fill="#e2534c"/><rect x="307.2" y="334.10" width="11.6" height="1.92" fill="#e46660"/><rect x="318.5" y="334.10" width="11.6" height="1.92" fill="#e98e8b"/><rect x="284.6" y="335.72" width="11.6" height="1.92" fill="#e98b88"/><rect x="295.9" y="335.72" width="11.6" height="1.92" fill="#e25149"/><rect x="307.2" y="335.72" width="11.6" height="1.92" fill="#e56c67"/><rect x="318.5" y="335.72" width="11.6" height="1.92" fill="#ea9491"/><rect x="284.6" y="337.33" width="11.6" height="1.92" fill="#e77a75"/><rect x="295.9" y="337.33" width="11.6" height="1.92" fill="#e77b77"/><rect x="307.2" y="337.33" width="11.6" height="1.92" fill="#eca5a3"/><rect x="318.5" y="337.33" width="11.6" height="1.92" fill="#e77c77"/><rect x="284.6" y="338.95" width="11.6" height="1.92" fill="#ea9592"/><rect x="295.9" y="338.95" width="11.6" height="1.92" fill="#eda8a6"/><rect x="307.2" y="338.95" width="11.6" height="1.92" fill="#f0bdbd"/><rect x="318.5" y="338.95" width="11.6" height="1.92" fill="#cfcae4"/><rect x="284.6" y="340.57" width="11.6" height="1.92" fill="#e67671"/><rect x="295.9" y="340.57" width="11.6" height="1.92" fill="#e14d45"/><rect x="307.2" y="340.57" width="11.6" height="1.92" fill="#e67671"/><rect x="318.5" y="340.57" width="11.6" height="1.92" fill="#f4dddf"/><rect x="284.6" y="342.19" width="11.6" height="1.92" fill="#f3d5d7"/><rect x="295.9" y="342.19" width="11.6" height="1.92" fill="#efbaba"/><rect x="307.2" y="342.19" width="11.6" height="1.92" fill="#eeafae"/><rect x="318.5" y="342.19" width="11.6" height="1.92" fill="#dcd7e9"/><rect x="284.6" y="343.80" width="11.6" height="1.92" fill="#e87f7b"/><rect x="295.9" y="343.80" width="11.6" height="1.92" fill="#edaba9"/><rect x="307.2" y="343.80" width="11.6" height="1.92" fill="#ec9f9d"/><rect x="318.5" y="343.80" width="11.6" height="1.92" fill="#f2d4d6"/><rect x="284.6" y="345.42" width="11.6" height="1.92" fill="#de342a"/><rect x="295.9" y="345.42" width="11.6" height="1.92" fill="#e6736e"/><rect x="307.2" y="345.42" width="11.6" height="1.92" fill="#e14e46"/><rect x="318.5" y="345.42" width="11.6" height="1.92" fill="#f1c9ca"/><rect x="284.6" y="347.04" width="11.6" height="1.92" fill="#de342a"/><rect x="295.9" y="347.04" width="11.6" height="1.92" fill="#e2554d"/><rect x="307.2" y="347.04" width="11.6" height="1.92" fill="#e0473e"/><rect x="318.5" y="347.04" width="11.6" height="1.92" fill="#e6746f"/><rect x="284.6" y="348.66" width="11.6" height="1.92" fill="#e0433b"/><rect x="295.9" y="348.66" width="11.6" height="1.92" fill="#e56a64"/><rect x="307.2" y="348.66" width="11.6" height="1.92" fill="#e56862"/><rect x="318.5" y="348.66" width="11.6" height="1.92" fill="#e1483f"/><rect x="284.6" y="350.28" width="11.6" height="1.92" fill="#e6736e"/><rect x="295.9" y="350.28" width="11.6" height="1.92" fill="#f2d1d2"/><rect x="307.2" y="350.28" width="11.6" height="1.92" fill="#eda9a8"/><rect x="318.5" y="350.28" width="11.6" height="1.92" fill="#e56d68"/><rect x="284.6" y="351.89" width="11.6" height="1.92" fill="#edabaa"/><rect x="295.9" y="351.89" width="11.6" height="1.92" fill="#f2cfd1"/><rect x="307.2" y="351.89" width="11.6" height="1.92" fill="#eb9d9a"/><rect x="318.5" y="351.89" width="11.6" height="1.92" fill="#f0c1c1"/><rect x="284.6" y="353.51" width="11.6" height="1.92" fill="#e88582"/><rect x="295.9" y="353.51" width="11.6" height="1.92" fill="#e98b87"/><rect x="307.2" y="353.51" width="11.6" height="1.92" fill="#e25149"/><rect x="318.5" y="353.51" width="11.6" height="1.92" fill="#e56a64"/><rect x="284.6" y="355.13" width="11.6" height="1.92" fill="#f5eff4"/><rect x="295.9" y="355.13" width="11.6" height="1.92" fill="#f2cfd1"/><rect x="307.2" y="355.13" width="11.6" height="1.92" fill="#eda8a7"/><rect x="318.5" y="355.13" width="11.6" height="1.92" fill="#eda9a8"/><rect x="284.6" y="356.75" width="11.6" height="1.92" fill="#eae5ef"/><rect x="295.9" y="356.75" width="11.6" height="1.92" fill="#f4dee1"/><rect x="307.2" y="356.75" width="11.6" height="1.92" fill="#f2cfd1"/><rect x="318.5" y="356.75" width="11.6" height="1.92" fill="#efb6b6"/><rect x="284.6" y="358.36" width="11.6" height="1.92" fill="#f5e6ea"/><rect x="295.9" y="358.36" width="11.6" height="1.92" fill="#efbaba"/><rect x="307.2" y="358.36" width="11.6" height="1.92" fill="#eb9997"/><rect x="318.5" y="358.36" width="11.6" height="1.92" fill="#f0bfbf"/><rect x="284.6" y="359.98" width="11.6" height="1.92" fill="#f4e1e4"/><rect x="295.9" y="359.98" width="11.6" height="1.92" fill="#f5ecef"/><rect x="307.2" y="359.98" width="11.6" height="1.92" fill="#edadac"/><rect x="318.5" y="359.98" width="11.6" height="1.92" fill="#eb9b99"/><rect x="284.6" y="361.60" width="11.6" height="1.92" fill="#f3dcde"/><rect x="295.9" y="361.60" width="11.6" height="1.92" fill="#f4e2e5"/><rect x="307.2" y="361.60" width="11.6" height="1.92" fill="#f0c5c5"/><rect x="318.5" y="361.60" width="11.6" height="1.92" fill="#f5e5e8"/><rect x="284.6" y="363.22" width="11.6" height="1.92" fill="#eca4a2"/><rect x="295.9" y="363.22" width="11.6" height="1.92" fill="#efbdbd"/><rect x="307.2" y="363.22" width="11.6" height="1.92" fill="#eb9895"/><rect x="318.5" y="363.22" width="11.6" height="1.92" fill="#f5e7ea"/><rect x="284.6" y="364.83" width="11.6" height="1.92" fill="#f1c5c6"/><rect x="295.9" y="364.83" width="11.6" height="1.92" fill="#f5eff4"/><rect x="307.2" y="364.83" width="11.6" height="1.92" fill="#e98985"/><rect x="318.5" y="364.83" width="11.6" height="1.92" fill="#edabaa"/><rect x="284.6" y="366.45" width="11.6" height="1.92" fill="#f5ebee"/><rect x="295.9" y="366.45" width="11.6" height="1.92" fill="#eeb3b2"/><rect x="307.2" y="366.45" width="11.6" height="1.92" fill="#e56862"/><rect x="318.5" y="366.45" width="11.6" height="1.92" fill="#f1c6c6"/><rect x="284.6" y="368.07" width="11.6" height="1.92" fill="#bebadd"/><rect x="295.9" y="368.07" width="11.6" height="1.92" fill="#f4e1e3"/><rect x="307.2" y="368.07" width="11.6" height="1.92" fill="#edabaa"/><rect x="318.5" y="368.07" width="11.6" height="1.92" fill="#f5eff4"/><rect x="284.6" y="369.69" width="11.6" height="1.92" fill="#8e8bc9"/><rect x="295.9" y="369.69" width="11.6" height="1.92" fill="#a19dd1"/><rect x="307.2" y="369.69" width="11.6" height="1.92" fill="#c2bdde"/><rect x="318.5" y="369.69" width="11.6" height="1.92" fill="#b1acd7"/><rect x="284.6" y="371.31" width="11.6" height="1.92" fill="#d6d0e7"/><rect x="295.9" y="371.31" width="11.6" height="1.92" fill="#d0cbe4"/><rect x="307.2" y="371.31" width="11.6" height="1.92" fill="#8d89c8"/><rect x="318.5" y="371.31" width="11.6" height="1.92" fill="#a5a1d3"/><rect x="284.6" y="372.92" width="11.6" height="1.92" fill="#605db6"/><rect x="295.9" y="372.92" width="11.6" height="1.92" fill="#5a57b3"/><rect x="307.2" y="372.92" width="11.6" height="1.92" fill="#5d5ab4"/><rect x="318.5" y="372.92" width="11.6" height="1.92" fill="#716ebd"/><rect x="284.6" y="374.54" width="11.6" height="1.92" fill="#d2cde5"/><rect x="295.9" y="374.54" width="11.6" height="1.92" fill="#8783c6"/><rect x="307.2" y="374.54" width="11.6" height="1.92" fill="#9490cb"/><rect x="318.5" y="374.54" width="11.6" height="1.92" fill="#ccc6e2"/><rect x="284.6" y="376.16" width="11.6" height="1.92" fill="#bdb8dc"/><rect x="295.9" y="376.16" width="11.6" height="1.92" fill="#9591cc"/><rect x="307.2" y="376.16" width="11.6" height="1.92" fill="#a39fd2"/><rect x="318.5" y="376.16" width="11.6" height="1.92" fill="#aba7d5"/><rect x="284.6" y="377.78" width="11.6" height="1.92" fill="#cac5e2"/><rect x="295.9" y="377.78" width="11.6" height="1.92" fill="#a9a5d4"/><rect x="307.2" y="377.78" width="11.6" height="1.92" fill="#a19dd1"/><rect x="318.5" y="377.78" width="11.6" height="1.92" fill="#9793cc"/><rect x="284.6" y="379.39" width="11.6" height="1.92" fill="#6c69bb"/><rect x="295.9" y="379.39" width="11.6" height="1.92" fill="#2c2aa0"/><rect x="307.2" y="379.39" width="11.6" height="1.92" fill="#3c3aa7"/><rect x="318.5" y="379.39" width="11.6" height="1.92" fill="#5f5cb5"/><rect x="284.6" y="381.01" width="11.6" height="1.92" fill="#605db6"/><rect x="295.9" y="381.01" width="11.6" height="1.92" fill="#6865b9"/><rect x="307.2" y="381.01" width="11.6" height="1.92" fill="#7f7bc3"/><rect x="318.5" y="381.01" width="11.6" height="1.92" fill="#625fb6"/><rect x="284.6" y="382.63" width="11.6" height="1.92" fill="#9f9bd0"/><rect x="295.9" y="382.63" width="11.6" height="1.92" fill="#9e9acf"/><rect x="307.2" y="382.63" width="11.6" height="1.92" fill="#c2bdde"/><rect x="318.5" y="382.63" width="11.6" height="1.92" fill="#c0bbde"/><rect x="284.6" y="384.25" width="11.6" height="1.92" fill="#5e5bb5"/><rect x="295.9" y="384.25" width="11.6" height="1.92" fill="#403da8"/><rect x="307.2" y="384.25" width="11.6" height="1.92" fill="#6864b9"/><rect x="318.5" y="384.25" width="11.6" height="1.92" fill="#6f6cbc"/><rect x="284.6" y="385.86" width="11.6" height="1.92" fill="#b0abd7"/><rect x="295.9" y="385.86" width="11.6" height="1.92" fill="#918dca"/><rect x="307.2" y="385.86" width="11.6" height="1.92" fill="#817dc3"/><rect x="318.5" y="385.86" width="11.6" height="1.92" fill="#7572be"/><rect x="284.6" y="387.48" width="11.6" height="1.92" fill="#beb9dd"/><rect x="295.9" y="387.48" width="11.6" height="1.92" fill="#a19dd1"/><rect x="307.2" y="387.48" width="11.6" height="1.92" fill="#8e8ac9"/><rect x="318.5" y="387.48" width="11.6" height="1.92" fill="#b0abd7"/></g>
<g shape-rendering="crispEdges"><rect x="329.8" y="233.80" width="11.6" height="1.92" fill="#f4eef3"/><rect x="341.1" y="233.80" width="11.6" height="1.92" fill="#f2d0d2"/><rect x="352.5" y="233.80" width="11.6" height="1.92" fill="#e3deec"/><rect x="329.8" y="235.42" width="11.6" height="1.92" fill="#f5e7eb"/><rect x="341.1" y="235.42" width="11.6" height="1.92" fill="#f2cfd0"/><rect x="352.5" y="235.42" width="11.6" height="1.92" fill="#c7c2e0"/><rect x="329.8" y="237.04" width="11.6" height="1.92" fill="#eeb1b0"/><rect x="341.1" y="237.04" width="11.6" height="1.92" fill="#eeaead"/><rect x="352.5" y="237.04" width="11.6" height="1.92" fill="#bfbadd"/><rect x="329.8" y="238.65" width="11.6" height="1.92" fill="#f2cecf"/><rect x="341.1" y="238.65" width="11.6" height="1.92" fill="#f4dfe1"/><rect x="352.5" y="238.65" width="11.6" height="1.92" fill="#e3deec"/><rect x="329.8" y="240.27" width="11.6" height="1.92" fill="#e98d8a"/><rect x="341.1" y="240.27" width="11.6" height="1.92" fill="#f1c6c7"/><rect x="352.5" y="240.27" width="11.6" height="1.92" fill="#eeaead"/><rect x="329.8" y="241.89" width="11.6" height="1.92" fill="#efbbbb"/><rect x="341.1" y="241.89" width="11.6" height="1.92" fill="#d8d3e8"/><rect x="352.5" y="241.89" width="11.6" height="1.92" fill="#d5d0e6"/><rect x="329.8" y="243.51" width="11.6" height="1.92" fill="#f4dee1"/><rect x="341.1" y="243.51" width="11.6" height="1.92" fill="#f0ebf2"/><rect x="352.5" y="243.51" width="11.6" height="1.92" fill="#f1c7c7"/><rect x="329.8" y="245.12" width="11.6" height="1.92" fill="#efbdbd"/><rect x="341.1" y="245.12" width="11.6" height="1.92" fill="#f5e6e9"/><rect x="352.5" y="245.12" width="11.6" height="1.92" fill="#f3d7d9"/><rect x="329.8" y="246.74" width="11.6" height="1.92" fill="#e67570"/><rect x="341.1" y="246.74" width="11.6" height="1.92" fill="#f2d4d5"/><rect x="352.5" y="246.74" width="11.6" height="1.92" fill="#f2d2d4"/><rect x="329.8" y="248.36" width="11.6" height="1.92" fill="#ede7f0"/><rect x="341.1" y="248.36" width="11.6" height="1.92" fill="#cac4e2"/><rect x="352.5" y="248.36" width="11.6" height="1.92" fill="#9692cc"/><rect x="329.8" y="249.98" width="11.6" height="1.92" fill="#d6d0e7"/><rect x="341.1" y="249.98" width="11.6" height="1.92" fill="#f5e7ea"/><rect x="352.5" y="249.98" width="11.6" height="1.92" fill="#e7e1ee"/><rect x="329.8" y="251.59" width="11.6" height="1.92" fill="#cfcae4"/><rect x="341.1" y="251.59" width="11.6" height="1.92" fill="#f3d8da"/><rect x="352.5" y="251.59" width="11.6" height="1.92" fill="#f6edf1"/><rect x="329.8" y="253.21" width="11.6" height="1.92" fill="#f4e3e6"/><rect x="341.1" y="253.21" width="11.6" height="1.92" fill="#f2d1d3"/><rect x="352.5" y="253.21" width="11.6" height="1.92" fill="#f3dadc"/><rect x="329.8" y="254.83" width="11.6" height="1.92" fill="#efbaba"/><rect x="341.1" y="254.83" width="11.6" height="1.92" fill="#e77d79"/><rect x="352.5" y="254.83" width="11.6" height="1.92" fill="#e77772"/><rect x="329.8" y="256.45" width="11.6" height="1.92" fill="#efe9f1"/><rect x="341.1" y="256.45" width="11.6" height="1.92" fill="#edadac"/><rect x="352.5" y="256.45" width="11.6" height="1.92" fill="#f3dcde"/><rect x="329.8" y="258.07" width="11.6" height="1.92" fill="#f2d0d1"/><rect x="341.1" y="258.07" width="11.6" height="1.92" fill="#ea908d"/><rect x="352.5" y="258.07" width="11.6" height="1.92" fill="#ea8e8b"/><rect x="329.8" y="259.68" width="11.6" height="1.92" fill="#f5e7ea"/><rect x="341.1" y="259.68" width="11.6" height="1.92" fill="#efb8b8"/><rect x="352.5" y="259.68" width="11.6" height="1.92" fill="#eeafae"/><rect x="329.8" y="261.30" width="11.6" height="1.92" fill="#e98683"/><rect x="341.1" y="261.30" width="11.6" height="1.92" fill="#e35952"/><rect x="352.5" y="261.30" width="11.6" height="1.92" fill="#e35c55"/><rect x="329.8" y="262.92" width="11.6" height="1.92" fill="#e56a64"/><rect x="341.1" y="262.92" width="11.6" height="1.92" fill="#e98d89"/><rect x="352.5" y="262.92" width="11.6" height="1.92" fill="#eca09e"/><rect x="329.8" y="264.54" width="11.6" height="1.92" fill="#e67570"/><rect x="341.1" y="264.54" width="11.6" height="1.92" fill="#e88682"/><rect x="352.5" y="264.54" width="11.6" height="1.92" fill="#eca09e"/><rect x="329.8" y="266.15" width="11.6" height="1.92" fill="#e0443b"/><rect x="341.1" y="266.15" width="11.6" height="1.92" fill="#e77873"/><rect x="352.5" y="266.15" width="11.6" height="1.92" fill="#e98783"/><rect x="329.8" y="267.77" width="11.6" height="1.92" fill="#f0c4c5"/><rect x="341.1" y="267.77" width="11.6" height="1.92" fill="#e2dcec"/><rect x="352.5" y="267.77" width="11.6" height="1.92" fill="#aeaad6"/><rect x="329.8" y="269.39" width="11.6" height="1.92" fill="#ea9390"/><rect x="341.1" y="269.39" width="11.6" height="1.92" fill="#e98b88"/><rect x="352.5" y="269.39" width="11.6" height="1.92" fill="#f4e3e6"/><rect x="329.8" y="271.01" width="11.6" height="1.92" fill="#f2cecf"/><rect x="341.1" y="271.01" width="11.6" height="1.92" fill="#f4dfe2"/><rect x="352.5" y="271.01" width="11.6" height="1.92" fill="#d9d4e8"/><rect x="329.8" y="272.62" width="11.6" height="1.92" fill="#e87f7a"/><rect x="341.1" y="272.62" width="11.6" height="1.92" fill="#f1c6c7"/><rect x="352.5" y="272.62" width="11.6" height="1.92" fill="#eb9d9b"/><rect x="329.8" y="274.24" width="11.6" height="1.92" fill="#e77e79"/><rect x="341.1" y="274.24" width="11.6" height="1.92" fill="#e8807c"/><rect x="352.5" y="274.24" width="11.6" height="1.92" fill="#e98b88"/><rect x="329.8" y="275.86" width="11.6" height="1.92" fill="#eca3a2"/><rect x="341.1" y="275.86" width="11.6" height="1.92" fill="#f4e1e4"/><rect x="352.5" y="275.86" width="11.6" height="1.92" fill="#bebadd"/><rect x="329.8" y="277.48" width="11.6" height="1.92" fill="#eb9d9b"/><rect x="341.1" y="277.48" width="11.6" height="1.92" fill="#edaaa8"/><rect x="352.5" y="277.48" width="11.6" height="1.92" fill="#f6eff3"/><rect x="329.8" y="279.10" width="11.6" height="1.92" fill="#df3e35"/><rect x="341.1" y="279.10" width="11.6" height="1.92" fill="#e88682"/><rect x="352.5" y="279.10" width="11.6" height="1.92" fill="#f1c6c7"/><rect x="329.8" y="280.71" width="11.6" height="1.92" fill="#efbcbc"/><rect x="341.1" y="280.71" width="11.6" height="1.92" fill="#f4e0e3"/><rect x="352.5" y="280.71" width="11.6" height="1.92" fill="#f2d1d2"/><rect x="329.8" y="282.33" width="11.6" height="1.92" fill="#c1bcde"/><rect x="341.1" y="282.33" width="11.6" height="1.92" fill="#d8d3e8"/><rect x="352.5" y="282.33" width="11.6" height="1.92" fill="#6b68ba"/><rect x="329.8" y="283.95" width="11.6" height="1.92" fill="#f5e7ea"/><rect x="341.1" y="283.95" width="11.6" height="1.92" fill="#efe9f1"/><rect x="352.5" y="283.95" width="11.6" height="1.92" fill="#dbd5e9"/><rect x="329.8" y="285.57" width="11.6" height="1.92" fill="#eda7a6"/><rect x="341.1" y="285.57" width="11.6" height="1.92" fill="#f5e6e9"/><rect x="352.5" y="285.57" width="11.6" height="1.92" fill="#e1dbeb"/><rect x="329.8" y="287.18" width="11.6" height="1.92" fill="#f4dee0"/><rect x="341.1" y="287.18" width="11.6" height="1.92" fill="#ece7f0"/><rect x="352.5" y="287.18" width="11.6" height="1.92" fill="#d7d1e7"/><rect x="329.8" y="288.80" width="11.6" height="1.92" fill="#e7e1ee"/><rect x="341.1" y="288.80" width="11.6" height="1.92" fill="#d2cde5"/><rect x="352.5" y="288.80" width="11.6" height="1.92" fill="#bbb6db"/><rect x="329.8" y="290.42" width="11.6" height="1.92" fill="#f1cccd"/><rect x="341.1" y="290.42" width="11.6" height="1.92" fill="#eda8a6"/><rect x="352.5" y="290.42" width="11.6" height="1.92" fill="#f1cccd"/><rect x="329.8" y="292.04" width="11.6" height="1.92" fill="#f0bebf"/><rect x="341.1" y="292.04" width="11.6" height="1.92" fill="#e77772"/><rect x="352.5" y="292.04" width="11.6" height="1.92" fill="#eeb4b3"/><rect x="329.8" y="293.66" width="11.6" height="1.92" fill="#d4cee6"/><rect x="341.1" y="293.66" width="11.6" height="1.92" fill="#e98986"/><rect x="352.5" y="293.66" width="11.6" height="1.92" fill="#f2d4d6"/><rect x="329.8" y="295.27" width="11.6" height="1.92" fill="#d1cbe4"/><rect x="341.1" y="295.27" width="11.6" height="1.92" fill="#e8817d"/><rect x="352.5" y="295.27" width="11.6" height="1.92" fill="#f1cacb"/><rect x="329.8" y="296.89" width="11.6" height="1.92" fill="#a39ed1"/><rect x="341.1" y="296.89" width="11.6" height="1.92" fill="#e88480"/><rect x="352.5" y="296.89" width="11.6" height="1.92" fill="#f4dde0"/><rect x="329.8" y="298.51" width="11.6" height="1.92" fill="#f1c8c9"/><rect x="341.1" y="298.51" width="11.6" height="1.92" fill="#e6746f"/><rect x="352.5" y="298.51" width="11.6" height="1.92" fill="#efb8b7"/><rect x="329.8" y="300.13" width="11.6" height="1.92" fill="#afabd7"/><rect x="341.1" y="300.13" width="11.6" height="1.92" fill="#eda8a7"/><rect x="352.5" y="300.13" width="11.6" height="1.92" fill="#f1ebf2"/><rect x="329.8" y="301.74" width="11.6" height="1.92" fill="#ede7f0"/><rect x="341.1" y="301.74" width="11.6" height="1.92" fill="#ea918e"/><rect x="352.5" y="301.74" width="11.6" height="1.92" fill="#f1cdce"/><rect x="329.8" y="303.36" width="11.6" height="1.92" fill="#f3edf3"/><rect x="341.1" y="303.36" width="11.6" height="1.92" fill="#f2cfd1"/><rect x="352.5" y="303.36" width="11.6" height="1.92" fill="#f6f0f4"/><rect x="329.8" y="304.98" width="11.6" height="1.92" fill="#a19dd1"/><rect x="341.1" y="304.98" width="11.6" height="1.92" fill="#f5e4e7"/><rect x="352.5" y="304.98" width="11.6" height="1.92" fill="#f4e1e4"/><rect x="329.8" y="306.60" width="11.6" height="1.92" fill="#f1cbcc"/><rect x="341.1" y="306.60" width="11.6" height="1.92" fill="#f0c1c2"/><rect x="352.5" y="306.60" width="11.6" height="1.92" fill="#f1c9ca"/><rect x="329.8" y="308.21" width="11.6" height="1.92" fill="#ea908d"/><rect x="341.1" y="308.21" width="11.6" height="1.92" fill="#eeb1b0"/><rect x="352.5" y="308.21" width="11.6" height="1.92" fill="#eca4a2"/><rect x="329.8" y="309.83" width="11.6" height="1.92" fill="#eeb1b0"/><rect x="341.1" y="309.83" width="11.6" height="1.92" fill="#e3ddec"/><rect x="352.5" y="309.83" width="11.6" height="1.92" fill="#f2d4d6"/><rect x="329.8" y="311.45" width="11.6" height="1.92" fill="#e1dbeb"/><rect x="341.1" y="311.45" width="11.6" height="1.92" fill="#dad4e8"/><rect x="352.5" y="311.45" width="11.6" height="1.92" fill="#e0dbeb"/><rect x="329.8" y="313.07" width="11.6" height="1.92" fill="#f4dde0"/><rect x="341.1" y="313.07" width="11.6" height="1.92" fill="#f0bfc0"/><rect x="352.5" y="313.07" width="11.6" height="1.92" fill="#eb9b99"/><rect x="329.8" y="314.69" width="11.6" height="1.92" fill="#eeb4b4"/><rect x="341.1" y="314.69" width="11.6" height="1.92" fill="#eeb3b3"/><rect x="352.5" y="314.69" width="11.6" height="1.92" fill="#eb9c9a"/><rect x="329.8" y="316.30" width="11.6" height="1.92" fill="#f0c2c2"/><rect x="341.1" y="316.30" width="11.6" height="1.92" fill="#eb9997"/><rect x="352.5" y="316.30" width="11.6" height="1.92" fill="#eb9d9b"/><rect x="329.8" y="317.92" width="11.6" height="1.92" fill="#ea928f"/><rect x="341.1" y="317.92" width="11.6" height="1.92" fill="#e56f69"/><rect x="352.5" y="317.92" width="11.6" height="1.92" fill="#f0c2c2"/><rect x="329.8" y="319.54" width="11.6" height="1.92" fill="#e77772"/><rect x="341.1" y="319.54" width="11.6" height="1.92" fill="#efb6b6"/><rect x="352.5" y="319.54" width="11.6" height="1.92" fill="#f2d2d4"/><rect x="329.8" y="321.16" width="11.6" height="1.92" fill="#efbdbd"/><rect x="341.1" y="321.16" width="11.6" height="1.92" fill="#f4dddf"/><rect x="352.5" y="321.16" width="11.6" height="1.92" fill="#f2d3d5"/><rect x="329.8" y="322.77" width="11.6" height="1.92" fill="#e4655e"/><rect x="341.1" y="322.77" width="11.6" height="1.92" fill="#e98a86"/><rect x="352.5" y="322.77" width="11.6" height="1.92" fill="#e77974"/><rect x="329.8" y="324.39" width="11.6" height="1.92" fill="#e6726d"/><rect x="341.1" y="324.39" width="11.6" height="1.92" fill="#efbcbc"/><rect x="352.5" y="324.39" width="11.6" height="1.92" fill="#efbaba"/><rect x="329.8" y="326.01" width="11.6" height="1.92" fill="#e25048"/><rect x="341.1" y="326.01" width="11.6" height="1.92" fill="#eb9795"/><rect x="352.5" y="326.01" width="11.6" height="1.92" fill="#f3d7da"/><rect x="329.8" y="327.63" width="11.6" height="1.92" fill="#e14c44"/><rect x="341.1" y="327.63" width="11.6" height="1.92" fill="#e77d78"/><rect x="352.5" y="327.63" width="11.6" height="1.92" fill="#b5b0d9"/><rect x="329.8" y="329.24" width="11.6" height="1.92" fill="#e67671"/><rect x="341.1" y="329.24" width="11.6" height="1.92" fill="#e88582"/><rect x="352.5" y="329.24" width="11.6" height="1.92" fill="#f2d4d6"/><rect x="329.8" y="330.86" width="11.6" height="1.92" fill="#edaaa9"/><rect x="341.1" y="330.86" width="11.6" height="1.92" fill="#f3d6d9"/><rect x="352.5" y="330.86" width="11.6" height="1.92" fill="#bfbadd"/><rect x="329.8" y="332.48" width="11.6" height="1.92" fill="#e35a53"/><rect x="341.1" y="332.48" width="11.6" height="1.92" fill="#e35952"/><rect x="352.5" y="332.48" width="11.6" height="1.92" fill="#f2ced0"/><rect x="329.8" y="334.10" width="11.6" height="1.92" fill="#ea928f"/><rect x="341.1" y="334.10" width="11.6" height="1.92" fill="#e77a75"/><rect x="352.5" y="334.10" width="11.6" height="1.92" fill="#eae4ef"/><rect x="329.8" y="335.72" width="11.6" height="1.92" fill="#f3d7d9"/><rect x="341.1" y="335.72" width="11.6" height="1.92" fill="#f3d9dc"/><rect x="352.5" y="335.72" width="11.6" height="1.92" fill="#dcd6e9"/><rect x="329.8" y="337.33" width="11.6" height="1.92" fill="#2c2aa0"/><rect x="341.1" y="337.33" width="11.6" height="1.92" fill="#2c2aa0"/><rect x="352.5" y="337.33" width="11.6" height="1.92" fill="#2c2aa0"/><rect x="329.8" y="338.95" width="11.6" height="1.92" fill="#2c2aa0"/><rect x="341.1" y="338.95" width="11.6" height="1.92" fill="#2c2aa0"/><rect x="352.5" y="338.95" width="11.6" height="1.92" fill="#2c2aa0"/><rect x="329.8" y="340.57" width="11.6" height="1.92" fill="#9d99cf"/><rect x="341.1" y="340.57" width="11.6" height="1.92" fill="#afaad6"/><rect x="352.5" y="340.57" width="11.6" height="1.92" fill="#b3aed8"/><rect x="329.8" y="342.19" width="11.6" height="1.92" fill="#e8e2ee"/><rect x="341.1" y="342.19" width="11.6" height="1.92" fill="#f3dcde"/><rect x="352.5" y="342.19" width="11.6" height="1.92" fill="#aba6d5"/><rect x="329.8" y="343.80" width="11.6" height="1.92" fill="#eeaead"/><rect x="341.1" y="343.80" width="11.6" height="1.92" fill="#f5e5e9"/><rect x="352.5" y="343.80" width="11.6" height="1.92" fill="#d6d1e7"/><rect x="329.8" y="345.42" width="11.6" height="1.92" fill="#f0c1c2"/><rect x="341.1" y="345.42" width="11.6" height="1.92" fill="#dbd5e9"/><rect x="352.5" y="345.42" width="11.6" height="1.92" fill="#eee8f0"/><rect x="329.8" y="347.04" width="11.6" height="1.92" fill="#f2d2d4"/><rect x="341.1" y="347.04" width="11.6" height="1.92" fill="#c3bedf"/><rect x="352.5" y="347.04" width="11.6" height="1.92" fill="#f5ebef"/><rect x="329.8" y="348.66" width="11.6" height="1.92" fill="#f2d2d3"/><rect x="341.1" y="348.66" width="11.6" height="1.92" fill="#9793cc"/><rect x="352.5" y="348.66" width="11.6" height="1.92" fill="#f3edf3"/><rect x="329.8" y="350.28" width="11.6" height="1.92" fill="#f0c4c5"/><rect x="341.1" y="350.28" width="11.6" height="1.92" fill="#f5e7ea"/><rect x="352.5" y="350.28" width="11.6" height="1.92" fill="#f3d6d8"/><rect x="329.8" y="351.89" width="11.6" height="1.92" fill="#f2d4d6"/><rect x="341.1" y="351.89" width="11.6" height="1.92" fill="#ddd7e9"/><rect x="352.5" y="351.89" width="11.6" height="1.92" fill="#f3edf3"/><rect x="329.8" y="353.51" width="11.6" height="1.92" fill="#f3d7d9"/><rect x="341.1" y="353.51" width="11.6" height="1.92" fill="#f0c0c0"/><rect x="352.5" y="353.51" width="11.6" height="1.92" fill="#eae4ef"/><rect x="329.8" y="355.13" width="11.6" height="1.92" fill="#f3d5d7"/><rect x="341.1" y="355.13" width="11.6" height="1.92" fill="#e98783"/><rect x="352.5" y="355.13" width="11.6" height="1.92" fill="#f4dfe1"/><rect x="329.8" y="356.75" width="11.6" height="1.92" fill="#f3d7d9"/><rect x="341.1" y="356.75" width="11.6" height="1.92" fill="#f1c7c8"/><rect x="352.5" y="356.75" width="11.6" height="1.92" fill="#ede7f0"/><rect x="329.8" y="358.36" width="11.6" height="1.92" fill="#f0bebe"/><rect x="341.1" y="358.36" width="11.6" height="1.92" fill="#e98c88"/><rect x="352.5" y="358.36" width="11.6" height="1.92" fill="#f3dadc"/><rect x="329.8" y="359.98" width="11.6" height="1.92" fill="#f0c3c3"/><rect x="341.1" y="359.98" width="11.6" height="1.92" fill="#eeaead"/><rect x="352.5" y="359.98" width="11.6" height="1.92" fill="#f1c5c6"/><rect x="329.8" y="361.60" width="11.6" height="1.92" fill="#efbbbb"/><rect x="341.1" y="361.60" width="11.6" height="1.92" fill="#eda7a5"/><rect x="352.5" y="361.60" width="11.6" height="1.92" fill="#eca4a2"/><rect x="329.8" y="363.22" width="11.6" height="1.92" fill="#f1c9ca"/><rect x="341.1" y="363.22" width="11.6" height="1.92" fill="#efbbbb"/><rect x="352.5" y="363.22" width="11.6" height="1.92" fill="#f4e2e5"/><rect x="329.8" y="364.83" width="11.6" height="1.92" fill="#eb9794"/><rect x="341.1" y="364.83" width="11.6" height="1.92" fill="#e4665f"/><rect x="352.5" y="364.83" width="11.6" height="1.92" fill="#ec9f9d"/><rect x="329.8" y="366.45" width="11.6" height="1.92" fill="#f2cfd0"/><rect x="341.1" y="366.45" width="11.6" height="1.92" fill="#e67671"/><rect x="352.5" y="366.45" width="11.6" height="1.92" fill="#efb7b6"/><rect x="329.8" y="368.07" width="11.6" height="1.92" fill="#f6f0f4"/><rect x="341.1" y="368.07" width="11.6" height="1.92" fill="#e8817d"/><rect x="352.5" y="368.07" width="11.6" height="1.92" fill="#f4dee1"/><rect x="329.8" y="369.69" width="11.6" height="1.92" fill="#9692cc"/><rect x="341.1" y="369.69" width="11.6" height="1.92" fill="#dcd6e9"/><rect x="352.5" y="369.69" width="11.6" height="1.92" fill="#f4e1e4"/><rect x="329.8" y="371.31" width="11.6" height="1.92" fill="#8b87c8"/><rect x="341.1" y="371.31" width="11.6" height="1.92" fill="#ccc7e3"/><rect x="352.5" y="371.31" width="11.6" height="1.92" fill="#cbc6e2"/><rect x="329.8" y="372.92" width="11.6" height="1.92" fill="#e6e1ee"/><rect x="341.1" y="372.92" width="11.6" height="1.92" fill="#a29ed1"/><rect x="352.5" y="372.92" width="11.6" height="1.92" fill="#f1ebf2"/><rect x="329.8" y="374.54" width="11.6" height="1.92" fill="#c2bdde"/><rect x="341.1" y="374.54" width="11.6" height="1.92" fill="#cfcae4"/><rect x="352.5" y="374.54" width="11.6" height="1.92" fill="#eeb1b0"/><rect x="329.8" y="376.16" width="11.6" height="1.92" fill="#7e7ac2"/><rect x="341.1" y="376.16" width="11.6" height="1.92" fill="#c6c1e0"/><rect x="352.5" y="376.16" width="11.6" height="1.92" fill="#f0bdbe"/><rect x="329.8" y="377.78" width="11.6" height="1.92" fill="#afaad6"/><rect x="341.1" y="377.78" width="11.6" height="1.92" fill="#b8b3da"/><rect x="352.5" y="377.78" width="11.6" height="1.92" fill="#ea928f"/><rect x="329.8" y="379.39" width="11.6" height="1.92" fill="#c9c4e1"/><rect x="341.1" y="379.39" width="11.6" height="1.92" fill="#908cc9"/><rect x="352.5" y="379.39" width="11.6" height="1.92" fill="#eda7a6"/><rect x="329.8" y="381.01" width="11.6" height="1.92" fill="#c6c1e0"/><rect x="341.1" y="381.01" width="11.6" height="1.92" fill="#f4dfe2"/><rect x="352.5" y="381.01" width="11.6" height="1.92" fill="#eeb3b3"/><rect x="329.8" y="382.63" width="11.6" height="1.92" fill="#9a96ce"/><rect x="341.1" y="382.63" width="11.6" height="1.92" fill="#d8d3e8"/><rect x="352.5" y="382.63" width="11.6" height="1.92" fill="#dfd9ea"/><rect x="329.8" y="384.25" width="11.6" height="1.92" fill="#8e8ac9"/><rect x="341.1" y="384.25" width="11.6" height="1.92" fill="#9c98cf"/><rect x="352.5" y="384.25" width="11.6" height="1.92" fill="#f2d2d3"/><rect x="329.8" y="385.86" width="11.6" height="1.92" fill="#f2cecf"/><rect x="341.1" y="385.86" width="11.6" height="1.92" fill="#e9e3ef"/><rect x="352.5" y="385.86" width="11.6" height="1.92" fill="#e87f7b"/><rect x="329.8" y="387.48" width="11.6" height="1.92" fill="#9f9ad0"/><rect x="341.1" y="387.48" width="11.6" height="1.92" fill="#8985c7"/><rect x="352.5" y="387.48" width="11.6" height="1.92" fill="#7c79c1"/></g>
<g shape-rendering="crispEdges"><rect x="363.8" y="233.80" width="11.6" height="1.92" fill="#e8837e"/><rect x="375.1" y="233.80" width="11.6" height="1.92" fill="#f3d5d7"/><rect x="386.4" y="233.80" width="11.6" height="1.92" fill="#e88480"/><rect x="397.7" y="233.80" width="11.6" height="1.92" fill="#e4615a"/><rect x="363.8" y="235.42" width="11.6" height="1.92" fill="#e0443b"/><rect x="375.1" y="235.42" width="11.6" height="1.92" fill="#ea928f"/><rect x="386.4" y="235.42" width="11.6" height="1.92" fill="#e4655f"/><rect x="397.7" y="235.42" width="11.6" height="1.92" fill="#de342a"/><rect x="363.8" y="237.04" width="11.6" height="1.92" fill="#e14c44"/><rect x="375.1" y="237.04" width="11.6" height="1.92" fill="#e56e68"/><rect x="386.4" y="237.04" width="11.6" height="1.92" fill="#e2534c"/><rect x="397.7" y="237.04" width="11.6" height="1.92" fill="#df3c32"/><rect x="363.8" y="238.65" width="11.6" height="1.92" fill="#de342a"/><rect x="375.1" y="238.65" width="11.6" height="1.92" fill="#e8807b"/><rect x="386.4" y="238.65" width="11.6" height="1.92" fill="#e4625c"/><rect x="397.7" y="238.65" width="11.6" height="1.92" fill="#e35d56"/><rect x="363.8" y="240.27" width="11.6" height="1.92" fill="#eeafae"/><rect x="375.1" y="240.27" width="11.6" height="1.92" fill="#eda6a4"/><rect x="386.4" y="240.27" width="11.6" height="1.92" fill="#e98784"/><rect x="397.7" y="240.27" width="11.6" height="1.92" fill="#eeb3b2"/><rect x="363.8" y="241.89" width="11.6" height="1.92" fill="#e25048"/><rect x="375.1" y="241.89" width="11.6" height="1.92" fill="#e14e46"/><rect x="386.4" y="241.89" width="11.6" height="1.92" fill="#e04138"/><rect x="397.7" y="241.89" width="11.6" height="1.92" fill="#e04037"/><rect x="363.8" y="243.51" width="11.6" height="1.92" fill="#e77772"/><rect x="375.1" y="243.51" width="11.6" height="1.92" fill="#e77772"/><rect x="386.4" y="243.51" width="11.6" height="1.92" fill="#e0453c"/><rect x="397.7" y="243.51" width="11.6" height="1.92" fill="#de342a"/><rect x="363.8" y="245.12" width="11.6" height="1.92" fill="#de342a"/><rect x="375.1" y="245.12" width="11.6" height="1.92" fill="#e35b54"/><rect x="386.4" y="245.12" width="11.6" height="1.92" fill="#de342a"/><rect x="397.7" y="245.12" width="11.6" height="1.92" fill="#de342a"/><rect x="363.8" y="246.74" width="11.6" height="1.92" fill="#ec9f9d"/><rect x="375.1" y="246.74" width="11.6" height="1.92" fill="#e8827d"/><rect x="386.4" y="246.74" width="11.6" height="1.92" fill="#eca3a1"/><rect x="397.7" y="246.74" width="11.6" height="1.92" fill="#e87f7a"/><rect x="363.8" y="248.36" width="11.6" height="1.92" fill="#df392f"/><rect x="375.1" y="248.36" width="11.6" height="1.92" fill="#e35f58"/><rect x="386.4" y="248.36" width="11.6" height="1.92" fill="#e77d79"/><rect x="397.7" y="248.36" width="11.6" height="1.92" fill="#e8827e"/><rect x="363.8" y="249.98" width="11.6" height="1.92" fill="#df3f35"/><rect x="375.1" y="249.98" width="11.6" height="1.92" fill="#df3f36"/><rect x="386.4" y="249.98" width="11.6" height="1.92" fill="#e4615a"/><rect x="397.7" y="249.98" width="11.6" height="1.92" fill="#e0473e"/><rect x="363.8" y="251.59" width="11.6" height="1.92" fill="#de382e"/><rect x="375.1" y="251.59" width="11.6" height="1.92" fill="#e04037"/><rect x="386.4" y="251.59" width="11.6" height="1.92" fill="#e35b53"/><rect x="397.7" y="251.59" width="11.6" height="1.92" fill="#de342a"/><rect x="363.8" y="253.21" width="11.6" height="1.92" fill="#edacab"/><rect x="375.1" y="253.21" width="11.6" height="1.92" fill="#f3d9dc"/><rect x="386.4" y="253.21" width="11.6" height="1.92" fill="#eeb2b1"/><rect x="397.7" y="253.21" width="11.6" height="1.92" fill="#f4e2e5"/><rect x="363.8" y="254.83" width="11.6" height="1.92" fill="#edacab"/><rect x="375.1" y="254.83" width="11.6" height="1.92" fill="#edaaa9"/><rect x="386.4" y="254.83" width="11.6" height="1.92" fill="#e56c67"/><rect x="397.7" y="254.83" width="11.6" height="1.92" fill="#e8827e"/><rect x="363.8" y="256.45" width="11.6" height="1.92" fill="#edadac"/><rect x="375.1" y="256.45" width="11.6" height="1.92" fill="#e8807c"/><rect x="386.4" y="256.45" width="11.6" height="1.92" fill="#eb9794"/><rect x="397.7" y="256.45" width="11.6" height="1.92" fill="#de342a"/><rect x="363.8" y="258.07" width="11.6" height="1.92" fill="#eb9996"/><rect x="375.1" y="258.07" width="11.6" height="1.92" fill="#e4645e"/><rect x="386.4" y="258.07" width="11.6" height="1.92" fill="#e98783"/><rect x="397.7" y="258.07" width="11.6" height="1.92" fill="#df3a31"/><rect x="363.8" y="259.68" width="11.6" height="1.92" fill="#f3d8da"/><rect x="375.1" y="259.68" width="11.6" height="1.92" fill="#e77873"/><rect x="386.4" y="259.68" width="11.6" height="1.92" fill="#e6736e"/><rect x="397.7" y="259.68" width="11.6" height="1.92" fill="#e4665f"/><rect x="363.8" y="261.30" width="11.6" height="1.92" fill="#edacab"/><rect x="375.1" y="261.30" width="11.6" height="1.92" fill="#e8807c"/><rect x="386.4" y="261.30" width="11.6" height="1.92" fill="#de342a"/><rect x="397.7" y="261.30" width="11.6" height="1.92" fill="#e6716b"/><rect x="363.8" y="262.92" width="11.6" height="1.92" fill="#a39ed1"/><rect x="375.1" y="262.92" width="11.6" height="1.92" fill="#aba6d5"/><rect x="386.4" y="262.92" width="11.6" height="1.92" fill="#b5b0d9"/><rect x="397.7" y="262.92" width="11.6" height="1.92" fill="#bcb7dc"/><rect x="363.8" y="264.54" width="11.6" height="1.92" fill="#9e9acf"/><rect x="375.1" y="264.54" width="11.6" height="1.92" fill="#a39fd2"/><rect x="386.4" y="264.54" width="11.6" height="1.92" fill="#7572be"/><rect x="397.7" y="264.54" width="11.6" height="1.92" fill="#b2add8"/><rect x="363.8" y="266.15" width="11.6" height="1.92" fill="#efb5b5"/><rect x="375.1" y="266.15" width="11.6" height="1.92" fill="#f4dddf"/><rect x="386.4" y="266.15" width="11.6" height="1.92" fill="#d9d3e8"/><rect x="397.7" y="266.15" width="11.6" height="1.92" fill="#f2d4d6"/><rect x="363.8" y="267.77" width="11.6" height="1.92" fill="#e98d89"/><rect x="375.1" y="267.77" width="11.6" height="1.92" fill="#eca2a1"/><rect x="386.4" y="267.77" width="11.6" height="1.92" fill="#e98b87"/><rect x="397.7" y="267.77" width="11.6" height="1.92" fill="#e14b42"/><rect x="363.8" y="269.39" width="11.6" height="1.92" fill="#f1ebf2"/><rect x="375.1" y="269.39" width="11.6" height="1.92" fill="#f0c0c0"/><rect x="386.4" y="269.39" width="11.6" height="1.92" fill="#f1c6c7"/><rect x="397.7" y="269.39" width="11.6" height="1.92" fill="#e14c44"/><rect x="363.8" y="271.01" width="11.6" height="1.92" fill="#f1cbcc"/><rect x="375.1" y="271.01" width="11.6" height="1.92" fill="#eda8a6"/><rect x="386.4" y="271.01" width="11.6" height="1.92" fill="#e4615a"/><rect x="397.7" y="271.01" width="11.6" height="1.92" fill="#e4615a"/><rect x="363.8" y="272.62" width="11.6" height="1.92" fill="#efbcbc"/><rect x="375.1" y="272.62" width="11.6" height="1.92" fill="#f0c0c1"/><rect x="386.4" y="272.62" width="11.6" height="1.92" fill="#eeb4b4"/><rect x="397.7" y="272.62" width="11.6" height="1.92" fill="#e77772"/><rect x="363.8" y="274.24" width="11.6" height="1.92" fill="#f1c8c9"/><rect x="375.1" y="274.24" width="11.6" height="1.92" fill="#f1ebf2"/><rect x="386.4" y="274.24" width="11.6" height="1.92" fill="#d9d3e8"/><rect x="397.7" y="274.24" width="11.6" height="1.92" fill="#efb7b6"/><rect x="363.8" y="275.86" width="11.6" height="1.92" fill="#ea9592"/><rect x="375.1" y="275.86" width="11.6" height="1.92" fill="#f4e0e2"/><rect x="386.4" y="275.86" width="11.6" height="1.92" fill="#f2d2d4"/><rect x="397.7" y="275.86" width="11.6" height="1.92" fill="#e56a64"/><rect x="363.8" y="277.48" width="11.6" height="1.92" fill="#e45f58"/><rect x="375.1" y="277.48" width="11.6" height="1.92" fill="#e77a76"/><rect x="386.4" y="277.48" width="11.6" height="1.92" fill="#e88682"/><rect x="397.7" y="277.48" width="11.6" height="1.92" fill="#e0453d"/><rect x="363.8" y="279.10" width="11.6" height="1.92" fill="#e6746f"/><rect x="375.1" y="279.10" width="11.6" height="1.92" fill="#e35a53"/><rect x="386.4" y="279.10" width="11.6" height="1.92" fill="#e46059"/><rect x="397.7" y="279.10" width="11.6" height="1.92" fill="#e14c44"/><rect x="363.8" y="280.71" width="11.6" height="1.92" fill="#e98d8a"/><rect x="375.1" y="280.71" width="11.6" height="1.92" fill="#ea928f"/><rect x="386.4" y="280.71" width="11.6" height="1.92" fill="#ea928f"/><rect x="397.7" y="280.71" width="11.6" height="1.92" fill="#e56d67"/><rect x="363.8" y="282.33" width="11.6" height="1.92" fill="#efe9f1"/><rect x="375.1" y="282.33" width="11.6" height="1.92" fill="#f5ecf0"/><rect x="386.4" y="282.33" width="11.6" height="1.92" fill="#e4deed"/><rect x="397.7" y="282.33" width="11.6" height="1.92" fill="#e56d67"/><rect x="363.8" y="283.95" width="11.6" height="1.92" fill="#e77773"/><rect x="375.1" y="283.95" width="11.6" height="1.92" fill="#eeb4b4"/><rect x="386.4" y="283.95" width="11.6" height="1.92" fill="#e4625c"/><rect x="397.7" y="283.95" width="11.6" height="1.92" fill="#de342a"/><rect x="363.8" y="285.57" width="11.6" height="1.92" fill="#f2ced0"/><rect x="375.1" y="285.57" width="11.6" height="1.92" fill="#e8817d"/><rect x="386.4" y="285.57" width="11.6" height="1.92" fill="#e6726c"/><rect x="397.7" y="285.57" width="11.6" height="1.92" fill="#de342a"/><rect x="363.8" y="287.18" width="11.6" height="1.92" fill="#f4dee0"/><rect x="375.1" y="287.18" width="11.6" height="1.92" fill="#ea908d"/><rect x="386.4" y="287.18" width="11.6" height="1.92" fill="#e8827e"/><rect x="397.7" y="287.18" width="11.6" height="1.92" fill="#de342a"/><rect x="363.8" y="288.80" width="11.6" height="1.92" fill="#f0bdbe"/><rect x="375.1" y="288.80" width="11.6" height="1.92" fill="#e98b87"/><rect x="386.4" y="288.80" width="11.6" height="1.92" fill="#f1c9ca"/><rect x="397.7" y="288.80" width="11.6" height="1.92" fill="#e56963"/><rect x="363.8" y="290.42" width="11.6" height="1.92" fill="#f1ccce"/><rect x="375.1" y="290.42" width="11.6" height="1.92" fill="#eda7a6"/><rect x="386.4" y="290.42" width="11.6" height="1.92" fill="#efbaba"/><rect x="397.7" y="290.42" width="11.6" height="1.92" fill="#e0443b"/><rect x="363.8" y="292.04" width="11.6" height="1.92" fill="#efbaba"/><rect x="375.1" y="292.04" width="11.6" height="1.92" fill="#efbcbc"/><rect x="386.4" y="292.04" width="11.6" height="1.92" fill="#f2d0d2"/><rect x="397.7" y="292.04" width="11.6" height="1.92" fill="#e46660"/><rect x="363.8" y="293.66" width="11.6" height="1.92" fill="#eca5a3"/><rect x="375.1" y="293.66" width="11.6" height="1.92" fill="#efb7b7"/><rect x="386.4" y="293.66" width="11.6" height="1.92" fill="#f1cacb"/><rect x="397.7" y="293.66" width="11.6" height="1.92" fill="#e77b76"/><rect x="363.8" y="295.27" width="11.6" height="1.92" fill="#e77974"/><rect x="375.1" y="295.27" width="11.6" height="1.92" fill="#f2cfd1"/><rect x="386.4" y="295.27" width="11.6" height="1.92" fill="#eda7a5"/><rect x="397.7" y="295.27" width="11.6" height="1.92" fill="#e0463d"/><rect x="363.8" y="296.89" width="11.6" height="1.92" fill="#eb9d9b"/><rect x="375.1" y="296.89" width="11.6" height="1.92" fill="#eeaead"/><rect x="386.4" y="296.89" width="11.6" height="1.92" fill="#f2cdce"/><rect x="397.7" y="296.89" width="11.6" height="1.92" fill="#de342a"/><rect x="363.8" y="298.51" width="11.6" height="1.92" fill="#eca19f"/><rect x="375.1" y="298.51" width="11.6" height="1.92" fill="#f5ecef"/><rect x="386.4" y="298.51" width="11.6" height="1.92" fill="#eda9a8"/><rect x="397.7" y="298.51" width="11.6" height="1.92" fill="#e56761"/><rect x="363.8" y="300.13" width="11.6" height="1.92" fill="#ea918d"/><rect x="375.1" y="300.13" width="11.6" height="1.92" fill="#ebe5ef"/><rect x="386.4" y="300.13" width="11.6" height="1.92" fill="#f0c2c3"/><rect x="397.7" y="300.13" width="11.6" height="1.92" fill="#e56963"/><rect x="363.8" y="301.74" width="11.6" height="1.92" fill="#e8827d"/><rect x="375.1" y="301.74" width="11.6" height="1.92" fill="#edaba9"/><rect x="386.4" y="301.74" width="11.6" height="1.92" fill="#eca09e"/><rect x="397.7" y="301.74" width="11.6" height="1.92" fill="#de342a"/><rect x="363.8" y="303.36" width="11.6" height="1.92" fill="#f0bebe"/><rect x="375.1" y="303.36" width="11.6" height="1.92" fill="#f3d6d8"/><rect x="386.4" y="303.36" width="11.6" height="1.92" fill="#c0bbdd"/><rect x="397.7" y="303.36" width="11.6" height="1.92" fill="#e0443c"/><rect x="363.8" y="304.98" width="11.6" height="1.92" fill="#e98885"/><rect x="375.1" y="304.98" width="11.6" height="1.92" fill="#f3d7d9"/><rect x="386.4" y="304.98" width="11.6" height="1.92" fill="#eeb5b4"/><rect x="397.7" y="304.98" width="11.6" height="1.92" fill="#de342a"/><rect x="363.8" y="306.60" width="11.6" height="1.92" fill="#eb9895"/><rect x="375.1" y="306.60" width="11.6" height="1.92" fill="#dad5e8"/><rect x="386.4" y="306.60" width="11.6" height="1.92" fill="#ec9e9c"/><rect x="397.7" y="306.60" width="11.6" height="1.92" fill="#e46059"/><rect x="363.8" y="308.21" width="11.6" height="1.92" fill="#df3a31"/><rect x="375.1" y="308.21" width="11.6" height="1.92" fill="#f1c8c9"/><rect x="386.4" y="308.21" width="11.6" height="1.92" fill="#e6736e"/><rect x="397.7" y="308.21" width="11.6" height="1.92" fill="#e14b42"/><rect x="363.8" y="309.83" width="11.6" height="1.92" fill="#df382f"/><rect x="375.1" y="309.83" width="11.6" height="1.92" fill="#e56761"/><rect x="386.4" y="309.83" width="11.6" height="1.92" fill="#e25149"/><rect x="397.7" y="309.83" width="11.6" height="1.92" fill="#df392f"/><rect x="363.8" y="311.45" width="11.6" height="1.92" fill="#e04239"/><rect x="375.1" y="311.45" width="11.6" height="1.92" fill="#eca5a3"/><rect x="386.4" y="311.45" width="11.6" height="1.92" fill="#f0bdbd"/><rect x="397.7" y="311.45" width="11.6" height="1.92" fill="#e98783"/><rect x="363.8" y="313.07" width="11.6" height="1.92" fill="#e8817d"/><rect x="375.1" y="313.07" width="11.6" height="1.92" fill="#f2d4d6"/><rect x="386.4" y="313.07" width="11.6" height="1.92" fill="#eeb4b4"/><rect x="397.7" y="313.07" width="11.6" height="1.92" fill="#eb9794"/><rect x="363.8" y="314.69" width="11.6" height="1.92" fill="#e66f6a"/><rect x="375.1" y="314.69" width="11.6" height="1.92" fill="#eda9a7"/><rect x="386.4" y="314.69" width="11.6" height="1.92" fill="#eca5a3"/><rect x="397.7" y="314.69" width="11.6" height="1.92" fill="#e8807c"/><rect x="363.8" y="316.30" width="11.6" height="1.92" fill="#b4afd9"/><rect x="375.1" y="316.30" width="11.6" height="1.92" fill="#f1ebf2"/><rect x="386.4" y="316.30" width="11.6" height="1.92" fill="#9a95ce"/><rect x="397.7" y="316.30" width="11.6" height="1.92" fill="#6c68ba"/><rect x="363.8" y="317.92" width="11.6" height="1.92" fill="#a09cd0"/><rect x="375.1" y="317.92" width="11.6" height="1.92" fill="#aca8d5"/><rect x="386.4" y="317.92" width="11.6" height="1.92" fill="#938fcb"/><rect x="397.7" y="317.92" width="11.6" height="1.92" fill="#2c2aa0"/><rect x="363.8" y="319.54" width="11.6" height="1.92" fill="#9894cd"/><rect x="375.1" y="319.54" width="11.6" height="1.92" fill="#c6c1e0"/><rect x="386.4" y="319.54" width="11.6" height="1.92" fill="#7773bf"/><rect x="397.7" y="319.54" width="11.6" height="1.92" fill="#4f4cae"/><rect x="363.8" y="321.16" width="11.6" height="1.92" fill="#c0bbde"/><rect x="375.1" y="321.16" width="11.6" height="1.92" fill="#f5e9ed"/><rect x="386.4" y="321.16" width="11.6" height="1.92" fill="#d7d2e7"/><rect x="397.7" y="321.16" width="11.6" height="1.92" fill="#6562b8"/><rect x="363.8" y="322.77" width="11.6" height="1.92" fill="#6d6abb"/><rect x="375.1" y="322.77" width="11.6" height="1.92" fill="#e5e0ed"/><rect x="386.4" y="322.77" width="11.6" height="1.92" fill="#cfcae4"/><rect x="397.7" y="322.77" width="11.6" height="1.92" fill="#7571be"/><rect x="363.8" y="324.39" width="11.6" height="1.92" fill="#6561b8"/><rect x="375.1" y="324.39" width="11.6" height="1.92" fill="#f5eaed"/><rect x="386.4" y="324.39" width="11.6" height="1.92" fill="#e0daeb"/><rect x="397.7" y="324.39" width="11.6" height="1.92" fill="#a19dd1"/><rect x="363.8" y="326.01" width="11.6" height="1.92" fill="#8884c6"/><rect x="375.1" y="326.01" width="11.6" height="1.92" fill="#f4e3e6"/><rect x="386.4" y="326.01" width="11.6" height="1.92" fill="#f4eef3"/><rect x="397.7" y="326.01" width="11.6" height="1.92" fill="#9c98cf"/><rect x="363.8" y="327.63" width="11.6" height="1.92" fill="#6360b7"/><rect x="375.1" y="327.63" width="11.6" height="1.92" fill="#f5e7ea"/><rect x="386.4" y="327.63" width="11.6" height="1.92" fill="#eae4ef"/><rect x="397.7" y="327.63" width="11.6" height="1.92" fill="#a5a1d2"/><rect x="363.8" y="329.24" width="11.6" height="1.92" fill="#b1add7"/><rect x="375.1" y="329.24" width="11.6" height="1.92" fill="#e3ddec"/><rect x="386.4" y="329.24" width="11.6" height="1.92" fill="#d7d2e7"/><rect x="397.7" y="329.24" width="11.6" height="1.92" fill="#a39ed1"/><rect x="363.8" y="330.86" width="11.6" height="1.92" fill="#f3d7d9"/><rect x="375.1" y="330.86" width="11.6" height="1.92" fill="#f5e5e8"/><rect x="386.4" y="330.86" width="11.6" height="1.92" fill="#e3ddec"/><rect x="397.7" y="330.86" width="11.6" height="1.92" fill="#f1cbcc"/><rect x="363.8" y="332.48" width="11.6" height="1.92" fill="#f1c9ca"/><rect x="375.1" y="332.48" width="11.6" height="1.92" fill="#e7e1ee"/><rect x="386.4" y="332.48" width="11.6" height="1.92" fill="#ddd8ea"/><rect x="397.7" y="332.48" width="11.6" height="1.92" fill="#f2cdce"/><rect x="363.8" y="334.10" width="11.6" height="1.92" fill="#f5e5e8"/><rect x="375.1" y="334.10" width="11.6" height="1.92" fill="#d0cbe4"/><rect x="386.4" y="334.10" width="11.6" height="1.92" fill="#b8b3da"/><rect x="397.7" y="334.10" width="11.6" height="1.92" fill="#f4e3e6"/><rect x="363.8" y="335.72" width="11.6" height="1.92" fill="#f1ccce"/><rect x="375.1" y="335.72" width="11.6" height="1.92" fill="#d1cbe4"/><rect x="386.4" y="335.72" width="11.6" height="1.92" fill="#cdc8e3"/><rect x="397.7" y="335.72" width="11.6" height="1.92" fill="#d7d2e7"/><rect x="363.8" y="337.33" width="11.6" height="1.92" fill="#f4e4e7"/><rect x="375.1" y="337.33" width="11.6" height="1.92" fill="#928eca"/><rect x="386.4" y="337.33" width="11.6" height="1.92" fill="#eee8f0"/><rect x="397.7" y="337.33" width="11.6" height="1.92" fill="#beb9dd"/><rect x="363.8" y="338.95" width="11.6" height="1.92" fill="#d2cde5"/><rect x="375.1" y="338.95" width="11.6" height="1.92" fill="#908cca"/><rect x="386.4" y="338.95" width="11.6" height="1.92" fill="#c2bddf"/><rect x="397.7" y="338.95" width="11.6" height="1.92" fill="#e2dcec"/><rect x="363.8" y="340.57" width="11.6" height="1.92" fill="#312fa2"/><rect x="375.1" y="340.57" width="11.6" height="1.92" fill="#2c2aa0"/><rect x="386.4" y="340.57" width="11.6" height="1.92" fill="#2c2aa0"/><rect x="397.7" y="340.57" width="11.6" height="1.92" fill="#2c2aa0"/><rect x="363.8" y="342.19" width="11.6" height="1.92" fill="#3a38a6"/><rect x="375.1" y="342.19" width="11.6" height="1.92" fill="#2c2aa0"/><rect x="386.4" y="342.19" width="11.6" height="1.92" fill="#2c2aa0"/><rect x="397.7" y="342.19" width="11.6" height="1.92" fill="#2c2aa0"/><rect x="363.8" y="343.80" width="11.6" height="1.92" fill="#5351b0"/><rect x="375.1" y="343.80" width="11.6" height="1.92" fill="#2d2ba0"/><rect x="386.4" y="343.80" width="11.6" height="1.92" fill="#2c2aa0"/><rect x="397.7" y="343.80" width="11.6" height="1.92" fill="#2c2aa0"/><rect x="363.8" y="345.42" width="11.6" height="1.92" fill="#2c2aa0"/><rect x="375.1" y="345.42" width="11.6" height="1.92" fill="#4846ac"/><rect x="386.4" y="345.42" width="11.6" height="1.92" fill="#2c2aa0"/><rect x="397.7" y="345.42" width="11.6" height="1.92" fill="#2c2aa0"/><rect x="363.8" y="347.04" width="11.6" height="1.92" fill="#2c2aa0"/><rect x="375.1" y="347.04" width="11.6" height="1.92" fill="#4e4bae"/><rect x="386.4" y="347.04" width="11.6" height="1.92" fill="#4c4aad"/><rect x="397.7" y="347.04" width="11.6" height="1.92" fill="#3836a5"/><rect x="363.8" y="348.66" width="11.6" height="1.92" fill="#5a57b3"/><rect x="375.1" y="348.66" width="11.6" height="1.92" fill="#716dbd"/><rect x="386.4" y="348.66" width="11.6" height="1.92" fill="#2c2aa0"/><rect x="397.7" y="348.66" width="11.6" height="1.92" fill="#2d2ba0"/><rect x="363.8" y="350.28" width="11.6" height="1.92" fill="#3432a3"/><rect x="375.1" y="350.28" width="11.6" height="1.92" fill="#3937a5"/><rect x="386.4" y="350.28" width="11.6" height="1.92" fill="#3a37a6"/><rect x="397.7" y="350.28" width="11.6" height="1.92" fill="#2c2aa0"/><rect x="363.8" y="351.89" width="11.6" height="1.92" fill="#6b68ba"/><rect x="375.1" y="351.89" width="11.6" height="1.92" fill="#6b68ba"/><rect x="386.4" y="351.89" width="11.6" height="1.92" fill="#3b39a6"/><rect x="397.7" y="351.89" width="11.6" height="1.92" fill="#6c68ba"/><rect x="363.8" y="353.51" width="11.6" height="1.92" fill="#2c2aa0"/><rect x="375.1" y="353.51" width="11.6" height="1.92" fill="#2c2aa0"/><rect x="386.4" y="353.51" width="11.6" height="1.92" fill="#2c2aa0"/><rect x="397.7" y="353.51" width="11.6" height="1.92" fill="#2c2aa0"/><rect x="363.8" y="355.13" width="11.6" height="1.92" fill="#5956b3"/><rect x="375.1" y="355.13" width="11.6" height="1.92" fill="#7874bf"/><rect x="386.4" y="355.13" width="11.6" height="1.92" fill="#2c2aa0"/><rect x="397.7" y="355.13" width="11.6" height="1.92" fill="#2c2aa0"/><rect x="363.8" y="356.75" width="11.6" height="1.92" fill="#4f4caf"/><rect x="375.1" y="356.75" width="11.6" height="1.92" fill="#5a57b3"/><rect x="386.4" y="356.75" width="11.6" height="1.92" fill="#2c2aa0"/><rect x="397.7" y="356.75" width="11.6" height="1.92" fill="#2c2aa0"/><rect x="363.8" y="358.36" width="11.6" height="1.92" fill="#9e9acf"/><rect x="375.1" y="358.36" width="11.6" height="1.92" fill="#5f5cb5"/><rect x="386.4" y="358.36" width="11.6" height="1.92" fill="#4946ac"/><rect x="397.7" y="358.36" width="11.6" height="1.92" fill="#2c2aa0"/><rect x="363.8" y="359.98" width="11.6" height="1.92" fill="#b1acd7"/><rect x="375.1" y="359.98" width="11.6" height="1.92" fill="#b4afd9"/><rect x="386.4" y="359.98" width="11.6" height="1.92" fill="#6562b8"/><rect x="397.7" y="359.98" width="11.6" height="1.92" fill="#2c2aa0"/><rect x="363.8" y="361.60" width="11.6" height="1.92" fill="#3533a4"/><rect x="375.1" y="361.60" width="11.6" height="1.92" fill="#2c2aa0"/><rect x="386.4" y="361.60" width="11.6" height="1.92" fill="#2c2aa0"/><rect x="397.7" y="361.60" width="11.6" height="1.92" fill="#2c2aa0"/><rect x="363.8" y="363.22" width="11.6" height="1.92" fill="#8b87c8"/><rect x="375.1" y="363.22" width="11.6" height="1.92" fill="#ada8d5"/><rect x="386.4" y="363.22" width="11.6" height="1.92" fill="#9692cc"/><rect x="397.7" y="363.22" width="11.6" height="1.92" fill="#2c2aa0"/><rect x="363.8" y="364.83" width="11.6" height="1.92" fill="#807cc3"/><rect x="375.1" y="364.83" width="11.6" height="1.92" fill="#8986c7"/><rect x="386.4" y="364.83" width="11.6" height="1.92" fill="#9894cd"/><rect x="397.7" y="364.83" width="11.6" height="1.92" fill="#4442aa"/><rect x="363.8" y="366.45" width="11.6" height="1.92" fill="#817ec3"/><rect x="375.1" y="366.45" width="11.6" height="1.92" fill="#6663b8"/><rect x="386.4" y="366.45" width="11.6" height="1.92" fill="#cbc6e2"/><rect x="397.7" y="366.45" width="11.6" height="1.92" fill="#9d98cf"/><rect x="363.8" y="368.07" width="11.6" height="1.92" fill="#a6a1d3"/><rect x="375.1" y="368.07" width="11.6" height="1.92" fill="#9a96ce"/><rect x="386.4" y="368.07" width="11.6" height="1.92" fill="#f5eaee"/><rect x="397.7" y="368.07" width="11.6" height="1.92" fill="#e1dceb"/><rect x="363.8" y="369.69" width="11.6" height="1.92" fill="#3230a2"/><rect x="375.1" y="369.69" width="11.6" height="1.92" fill="#5452b1"/><rect x="386.4" y="369.69" width="11.6" height="1.92" fill="#b7b2da"/><rect x="397.7" y="369.69" width="11.6" height="1.92" fill="#6865b9"/><rect x="363.8" y="371.31" width="11.6" height="1.92" fill="#9f9bd0"/><rect x="375.1" y="371.31" width="11.6" height="1.92" fill="#d5d0e6"/><rect x="386.4" y="371.31" width="11.6" height="1.92" fill="#f4dde0"/><rect x="397.7" y="371.31" width="11.6" height="1.92" fill="#d9d3e8"/><rect x="363.8" y="372.92" width="11.6" height="1.92" fill="#5d5ab4"/><rect x="375.1" y="372.92" width="11.6" height="1.92" fill="#8481c5"/><rect x="386.4" y="372.92" width="11.6" height="1.92" fill="#d6d0e7"/><rect x="397.7" y="372.92" width="11.6" height="1.92" fill="#cec9e3"/><rect x="363.8" y="374.54" width="11.6" height="1.92" fill="#bcb7dc"/><rect x="375.1" y="374.54" width="11.6" height="1.92" fill="#6966b9"/><rect x="386.4" y="374.54" width="11.6" height="1.92" fill="#d8d2e7"/><rect x="397.7" y="374.54" width="11.6" height="1.92" fill="#d2cde5"/><rect x="363.8" y="376.16" width="11.6" height="1.92" fill="#4d4aae"/><rect x="375.1" y="376.16" width="11.6" height="1.92" fill="#514eaf"/><rect x="386.4" y="376.16" width="11.6" height="1.92" fill="#aaa6d5"/><rect x="397.7" y="376.16" width="11.6" height="1.92" fill="#9c98cf"/><rect x="363.8" y="377.78" width="11.6" height="1.92" fill="#7a77c1"/><rect x="375.1" y="377.78" width="11.6" height="1.92" fill="#9e9acf"/><rect x="386.4" y="377.78" width="11.6" height="1.92" fill="#a39fd1"/><rect x="397.7" y="377.78" width="11.6" height="1.92" fill="#d1cce5"/><rect x="363.8" y="379.39" width="11.6" height="1.92" fill="#eae5ef"/><rect x="375.1" y="379.39" width="11.6" height="1.92" fill="#f5e7eb"/><rect x="386.4" y="379.39" width="11.6" height="1.92" fill="#f2d3d5"/><rect x="397.7" y="379.39" width="11.6" height="1.92" fill="#e5e0ed"/><rect x="363.8" y="381.01" width="11.6" height="1.92" fill="#f2cfd1"/><rect x="375.1" y="381.01" width="11.6" height="1.92" fill="#eb9795"/><rect x="386.4" y="381.01" width="11.6" height="1.92" fill="#f0c5c6"/><rect x="397.7" y="381.01" width="11.6" height="1.92" fill="#f5eaed"/><rect x="363.8" y="382.63" width="11.6" height="1.92" fill="#f1cbcd"/><rect x="375.1" y="382.63" width="11.6" height="1.92" fill="#f2cecf"/><rect x="386.4" y="382.63" width="11.6" height="1.92" fill="#efbbbb"/><rect x="397.7" y="382.63" width="11.6" height="1.92" fill="#c1bcde"/><rect x="363.8" y="384.25" width="11.6" height="1.92" fill="#f1ebf2"/><rect x="375.1" y="384.25" width="11.6" height="1.92" fill="#d1cbe4"/><rect x="386.4" y="384.25" width="11.6" height="1.92" fill="#cac5e2"/><rect x="397.7" y="384.25" width="11.6" height="1.92" fill="#e2dcec"/><rect x="363.8" y="385.86" width="11.6" height="1.92" fill="#f4e1e4"/><rect x="375.1" y="385.86" width="11.6" height="1.92" fill="#eb9794"/><rect x="386.4" y="385.86" width="11.6" height="1.92" fill="#f0c1c2"/><rect x="397.7" y="385.86" width="11.6" height="1.92" fill="#edaaa9"/><rect x="363.8" y="387.48" width="11.6" height="1.92" fill="#f5eff3"/><rect x="375.1" y="387.48" width="11.6" height="1.92" fill="#e88682"/><rect x="386.4" y="387.48" width="11.6" height="1.92" fill="#eb9794"/><rect x="397.7" y="387.48" width="11.6" height="1.92" fill="#f1c9ca"/></g>
<g shape-rendering="crispEdges"><rect x="409.0" y="233.80" width="11.5" height="1.92" fill="#edaaa9"/><rect x="420.2" y="233.80" width="11.5" height="1.92" fill="#eb9794"/><rect x="431.5" y="233.80" width="11.5" height="1.92" fill="#ea928f"/><rect x="409.0" y="235.42" width="11.5" height="1.92" fill="#e98986"/><rect x="420.2" y="235.42" width="11.5" height="1.92" fill="#e2564f"/><rect x="431.5" y="235.42" width="11.5" height="1.92" fill="#e35f58"/><rect x="409.0" y="237.04" width="11.5" height="1.92" fill="#eeb5b5"/><rect x="420.2" y="237.04" width="11.5" height="1.92" fill="#e4665f"/><rect x="431.5" y="237.04" width="11.5" height="1.92" fill="#eeaead"/><rect x="409.0" y="238.65" width="11.5" height="1.92" fill="#ea9491"/><rect x="420.2" y="238.65" width="11.5" height="1.92" fill="#edadac"/><rect x="431.5" y="238.65" width="11.5" height="1.92" fill="#f6f0f4"/><rect x="409.0" y="240.27" width="11.5" height="1.92" fill="#e77c77"/><rect x="420.2" y="240.27" width="11.5" height="1.92" fill="#ea908d"/><rect x="431.5" y="240.27" width="11.5" height="1.92" fill="#f0c5c5"/><rect x="409.0" y="241.89" width="11.5" height="1.92" fill="#e6726d"/><rect x="420.2" y="241.89" width="11.5" height="1.92" fill="#e4605a"/><rect x="431.5" y="241.89" width="11.5" height="1.92" fill="#f0c5c6"/><rect x="409.0" y="243.51" width="11.5" height="1.92" fill="#e4655e"/><rect x="420.2" y="243.51" width="11.5" height="1.92" fill="#e77c77"/><rect x="431.5" y="243.51" width="11.5" height="1.92" fill="#ea928f"/><rect x="409.0" y="245.12" width="11.5" height="1.92" fill="#e77c78"/><rect x="420.2" y="245.12" width="11.5" height="1.92" fill="#efb7b7"/><rect x="431.5" y="245.12" width="11.5" height="1.92" fill="#f0c4c5"/><rect x="409.0" y="246.74" width="11.5" height="1.92" fill="#df3930"/><rect x="420.2" y="246.74" width="11.5" height="1.92" fill="#e56c66"/><rect x="431.5" y="246.74" width="11.5" height="1.92" fill="#ea918e"/><rect x="409.0" y="248.36" width="11.5" height="1.92" fill="#e88480"/><rect x="420.2" y="248.36" width="11.5" height="1.92" fill="#eca09e"/><rect x="431.5" y="248.36" width="11.5" height="1.92" fill="#f1cdce"/><rect x="409.0" y="249.98" width="11.5" height="1.92" fill="#e77974"/><rect x="420.2" y="249.98" width="11.5" height="1.92" fill="#e67570"/><rect x="431.5" y="249.98" width="11.5" height="1.92" fill="#e77772"/><rect x="409.0" y="251.59" width="11.5" height="1.92" fill="#e4655e"/><rect x="420.2" y="251.59" width="11.5" height="1.92" fill="#de342a"/><rect x="431.5" y="251.59" width="11.5" height="1.92" fill="#de362c"/><rect x="409.0" y="253.21" width="11.5" height="1.92" fill="#e77975"/><rect x="420.2" y="253.21" width="11.5" height="1.92" fill="#e35d56"/><rect x="431.5" y="253.21" width="11.5" height="1.92" fill="#ec9e9c"/><rect x="409.0" y="254.83" width="11.5" height="1.92" fill="#e35b54"/><rect x="420.2" y="254.83" width="11.5" height="1.92" fill="#e1483f"/><rect x="431.5" y="254.83" width="11.5" height="1.92" fill="#ea8f8c"/><rect x="409.0" y="256.45" width="11.5" height="1.92" fill="#e25750"/><rect x="420.2" y="256.45" width="11.5" height="1.92" fill="#e25149"/><rect x="431.5" y="256.45" width="11.5" height="1.92" fill="#e04239"/><rect x="409.0" y="258.07" width="11.5" height="1.92" fill="#eda7a5"/><rect x="420.2" y="258.07" width="11.5" height="1.92" fill="#eeb3b2"/><rect x="431.5" y="258.07" width="11.5" height="1.92" fill="#f4eef3"/><rect x="409.0" y="259.68" width="11.5" height="1.92" fill="#edadac"/><rect x="420.2" y="259.68" width="11.5" height="1.92" fill="#eeafae"/><rect x="431.5" y="259.68" width="11.5" height="1.92" fill="#eee8f1"/><rect x="409.0" y="261.30" width="11.5" height="1.92" fill="#f2d3d5"/><rect x="420.2" y="261.30" width="11.5" height="1.92" fill="#f5e7ea"/><rect x="431.5" y="261.30" width="11.5" height="1.92" fill="#f1c8c9"/><rect x="409.0" y="262.92" width="11.5" height="1.92" fill="#9e9ad0"/><rect x="420.2" y="262.92" width="11.5" height="1.92" fill="#d3cde5"/><rect x="431.5" y="262.92" width="11.5" height="1.92" fill="#e2dcec"/><rect x="409.0" y="264.54" width="11.5" height="1.92" fill="#e9e3ee"/><rect x="420.2" y="264.54" width="11.5" height="1.92" fill="#efbcbc"/><rect x="431.5" y="264.54" width="11.5" height="1.92" fill="#efbcbc"/><rect x="409.0" y="266.15" width="11.5" height="1.92" fill="#afabd7"/><rect x="420.2" y="266.15" width="11.5" height="1.92" fill="#b5b1d9"/><rect x="431.5" y="266.15" width="11.5" height="1.92" fill="#d2cde5"/><rect x="409.0" y="267.77" width="11.5" height="1.92" fill="#e6706b"/><rect x="420.2" y="267.77" width="11.5" height="1.92" fill="#e87f7a"/><rect x="431.5" y="267.77" width="11.5" height="1.92" fill="#e67671"/><rect x="409.0" y="269.39" width="11.5" height="1.92" fill="#e77a75"/><rect x="420.2" y="269.39" width="11.5" height="1.92" fill="#e77874"/><rect x="431.5" y="269.39" width="11.5" height="1.92" fill="#ea8f8c"/><rect x="409.0" y="271.01" width="11.5" height="1.92" fill="#efb8b8"/><rect x="420.2" y="271.01" width="11.5" height="1.92" fill="#e0dbeb"/><rect x="431.5" y="271.01" width="11.5" height="1.92" fill="#f2d1d2"/><rect x="409.0" y="272.62" width="11.5" height="1.92" fill="#e88480"/><rect x="420.2" y="272.62" width="11.5" height="1.92" fill="#eca19f"/><rect x="431.5" y="272.62" width="11.5" height="1.92" fill="#f2d1d3"/><rect x="409.0" y="274.24" width="11.5" height="1.92" fill="#edabaa"/><rect x="420.2" y="274.24" width="11.5" height="1.92" fill="#f2ecf2"/><rect x="431.5" y="274.24" width="11.5" height="1.92" fill="#dbd5e9"/><rect x="409.0" y="275.86" width="11.5" height="1.92" fill="#eda7a5"/><rect x="420.2" y="275.86" width="11.5" height="1.92" fill="#e77e7a"/><rect x="431.5" y="275.86" width="11.5" height="1.92" fill="#e77873"/><rect x="409.0" y="277.48" width="11.5" height="1.92" fill="#f3dbde"/><rect x="420.2" y="277.48" width="11.5" height="1.92" fill="#f2d2d4"/><rect x="431.5" y="277.48" width="11.5" height="1.92" fill="#f0c1c1"/><rect x="409.0" y="279.10" width="11.5" height="1.92" fill="#e6726d"/><rect x="420.2" y="279.10" width="11.5" height="1.92" fill="#eca09f"/><rect x="431.5" y="279.10" width="11.5" height="1.92" fill="#f1c7c8"/><rect x="409.0" y="280.71" width="11.5" height="1.92" fill="#f1c5c6"/><rect x="420.2" y="280.71" width="11.5" height="1.92" fill="#efbbbb"/><rect x="431.5" y="280.71" width="11.5" height="1.92" fill="#ea928f"/><rect x="409.0" y="282.33" width="11.5" height="1.92" fill="#e66f69"/><rect x="420.2" y="282.33" width="11.5" height="1.92" fill="#eeb1b0"/><rect x="431.5" y="282.33" width="11.5" height="1.92" fill="#edaaa9"/><rect x="409.0" y="283.95" width="11.5" height="1.92" fill="#eeb2b1"/><rect x="420.2" y="283.95" width="11.5" height="1.92" fill="#e7e2ee"/><rect x="431.5" y="283.95" width="11.5" height="1.92" fill="#eca3a1"/><rect x="409.0" y="285.57" width="11.5" height="1.92" fill="#f1cccd"/><rect x="420.2" y="285.57" width="11.5" height="1.92" fill="#eeafae"/><rect x="431.5" y="285.57" width="11.5" height="1.92" fill="#f3dbdd"/><rect x="409.0" y="287.18" width="11.5" height="1.92" fill="#f4eef3"/><rect x="420.2" y="287.18" width="11.5" height="1.92" fill="#efb8b8"/><rect x="431.5" y="287.18" width="11.5" height="1.92" fill="#f5ebef"/><rect x="409.0" y="288.80" width="11.5" height="1.92" fill="#eda9a8"/><rect x="420.2" y="288.80" width="11.5" height="1.92" fill="#edacaa"/><rect x="431.5" y="288.80" width="11.5" height="1.92" fill="#f5e6e9"/><rect x="409.0" y="290.42" width="11.5" height="1.92" fill="#efbaba"/><rect x="420.2" y="290.42" width="11.5" height="1.92" fill="#efb9b8"/><rect x="431.5" y="290.42" width="11.5" height="1.92" fill="#bbb6db"/><rect x="409.0" y="292.04" width="11.5" height="1.92" fill="#e56a64"/><rect x="420.2" y="292.04" width="11.5" height="1.92" fill="#ea9693"/><rect x="431.5" y="292.04" width="11.5" height="1.92" fill="#f0bebe"/><rect x="409.0" y="293.66" width="11.5" height="1.92" fill="#e5e0ed"/><rect x="420.2" y="293.66" width="11.5" height="1.92" fill="#f2ecf2"/><rect x="431.5" y="293.66" width="11.5" height="1.92" fill="#ece6f0"/><rect x="409.0" y="295.27" width="11.5" height="1.92" fill="#eda6a4"/><rect x="420.2" y="295.27" width="11.5" height="1.92" fill="#f2ecf3"/><rect x="431.5" y="295.27" width="11.5" height="1.92" fill="#f4e3e6"/><rect x="409.0" y="296.89" width="11.5" height="1.92" fill="#edacab"/><rect x="420.2" y="296.89" width="11.5" height="1.92" fill="#eb9c99"/><rect x="431.5" y="296.89" width="11.5" height="1.92" fill="#e8817c"/><rect x="409.0" y="298.51" width="11.5" height="1.92" fill="#efe9f1"/><rect x="420.2" y="298.51" width="11.5" height="1.92" fill="#f2d1d3"/><rect x="431.5" y="298.51" width="11.5" height="1.92" fill="#eca2a0"/><rect x="409.0" y="300.13" width="11.5" height="1.92" fill="#f0c2c2"/><rect x="420.2" y="300.13" width="11.5" height="1.92" fill="#f2d1d3"/><rect x="431.5" y="300.13" width="11.5" height="1.92" fill="#f3d8db"/><rect x="409.0" y="301.74" width="11.5" height="1.92" fill="#f0c3c4"/><rect x="420.2" y="301.74" width="11.5" height="1.92" fill="#f1c7c8"/><rect x="431.5" y="301.74" width="11.5" height="1.92" fill="#f0c0c1"/><rect x="409.0" y="303.36" width="11.5" height="1.92" fill="#f2d1d3"/><rect x="420.2" y="303.36" width="11.5" height="1.92" fill="#f4dddf"/><rect x="431.5" y="303.36" width="11.5" height="1.92" fill="#eca3a1"/><rect x="409.0" y="304.98" width="11.5" height="1.92" fill="#f3d6d9"/><rect x="420.2" y="304.98" width="11.5" height="1.92" fill="#dad5e9"/><rect x="431.5" y="304.98" width="11.5" height="1.92" fill="#eb9d9b"/><rect x="409.0" y="306.60" width="11.5" height="1.92" fill="#eca2a0"/><rect x="420.2" y="306.60" width="11.5" height="1.92" fill="#f3d7d9"/><rect x="431.5" y="306.60" width="11.5" height="1.92" fill="#f0bfbf"/><rect x="409.0" y="308.21" width="11.5" height="1.92" fill="#f0c4c4"/><rect x="420.2" y="308.21" width="11.5" height="1.92" fill="#f1c5c6"/><rect x="431.5" y="308.21" width="11.5" height="1.92" fill="#e77d78"/><rect x="409.0" y="309.83" width="11.5" height="1.92" fill="#f4e4e7"/><rect x="420.2" y="309.83" width="11.5" height="1.92" fill="#e0daeb"/><rect x="431.5" y="309.83" width="11.5" height="1.92" fill="#ec9f9d"/><rect x="409.0" y="311.45" width="11.5" height="1.92" fill="#f2d1d3"/><rect x="420.2" y="311.45" width="11.5" height="1.92" fill="#f4e0e2"/><rect x="431.5" y="311.45" width="11.5" height="1.92" fill="#eca4a2"/><rect x="409.0" y="313.07" width="11.5" height="1.92" fill="#efb6b6"/><rect x="420.2" y="313.07" width="11.5" height="1.92" fill="#d7d2e7"/><rect x="431.5" y="313.07" width="11.5" height="1.92" fill="#edadac"/><rect x="409.0" y="314.69" width="11.5" height="1.92" fill="#f6eef2"/><rect x="420.2" y="314.69" width="11.5" height="1.92" fill="#f5ecef"/><rect x="431.5" y="314.69" width="11.5" height="1.92" fill="#f0c4c4"/><rect x="409.0" y="316.30" width="11.5" height="1.92" fill="#eb9b98"/><rect x="420.2" y="316.30" width="11.5" height="1.92" fill="#e98e8a"/><rect x="431.5" y="316.30" width="11.5" height="1.92" fill="#e98e8a"/><rect x="409.0" y="317.92" width="11.5" height="1.92" fill="#eb9895"/><rect x="420.2" y="317.92" width="11.5" height="1.92" fill="#eca4a3"/><rect x="431.5" y="317.92" width="11.5" height="1.92" fill="#eeaeae"/><rect x="409.0" y="319.54" width="11.5" height="1.92" fill="#c7c2e1"/><rect x="420.2" y="319.54" width="11.5" height="1.92" fill="#c7c2e0"/><rect x="431.5" y="319.54" width="11.5" height="1.92" fill="#b4afd8"/><rect x="409.0" y="321.16" width="11.5" height="1.92" fill="#9f9ad0"/><rect x="420.2" y="321.16" width="11.5" height="1.92" fill="#a5a1d2"/><rect x="431.5" y="321.16" width="11.5" height="1.92" fill="#f5ebef"/><rect x="409.0" y="322.77" width="11.5" height="1.92" fill="#cfc9e4"/><rect x="420.2" y="322.77" width="11.5" height="1.92" fill="#d7d2e7"/><rect x="431.5" y="322.77" width="11.5" height="1.92" fill="#c2bdde"/><rect x="409.0" y="324.39" width="11.5" height="1.92" fill="#f1c7c8"/><rect x="420.2" y="324.39" width="11.5" height="1.92" fill="#efb7b7"/><rect x="431.5" y="324.39" width="11.5" height="1.92" fill="#eeb5b5"/><rect x="409.0" y="326.01" width="11.5" height="1.92" fill="#9a96ce"/><rect x="420.2" y="326.01" width="11.5" height="1.92" fill="#f5ebef"/><rect x="431.5" y="326.01" width="11.5" height="1.92" fill="#aea9d6"/><rect x="409.0" y="327.63" width="11.5" height="1.92" fill="#f5eff4"/><rect x="420.2" y="327.63" width="11.5" height="1.92" fill="#b0acd7"/><rect x="431.5" y="327.63" width="11.5" height="1.92" fill="#d5d0e6"/><rect x="409.0" y="329.24" width="11.5" height="1.92" fill="#f5e9ec"/><rect x="420.2" y="329.24" width="11.5" height="1.92" fill="#ddd7e9"/><rect x="431.5" y="329.24" width="11.5" height="1.92" fill="#f5eff4"/><rect x="409.0" y="330.86" width="11.5" height="1.92" fill="#9490cb"/><rect x="420.2" y="330.86" width="11.5" height="1.92" fill="#7470be"/><rect x="431.5" y="330.86" width="11.5" height="1.92" fill="#4e4bae"/><rect x="409.0" y="332.48" width="11.5" height="1.92" fill="#6f6cbc"/><rect x="420.2" y="332.48" width="11.5" height="1.92" fill="#2c2aa0"/><rect x="431.5" y="332.48" width="11.5" height="1.92" fill="#7d7ac2"/><rect x="409.0" y="334.10" width="11.5" height="1.92" fill="#615eb6"/><rect x="420.2" y="334.10" width="11.5" height="1.92" fill="#2c2aa0"/><rect x="431.5" y="334.10" width="11.5" height="1.92" fill="#4341aa"/><rect x="409.0" y="335.72" width="11.5" height="1.92" fill="#5653b1"/><rect x="420.2" y="335.72" width="11.5" height="1.92" fill="#8682c5"/><rect x="431.5" y="335.72" width="11.5" height="1.92" fill="#9792cc"/><rect x="409.0" y="337.33" width="11.5" height="1.92" fill="#b1acd7"/><rect x="420.2" y="337.33" width="11.5" height="1.92" fill="#ede7f0"/><rect x="431.5" y="337.33" width="11.5" height="1.92" fill="#9c98cf"/><rect x="409.0" y="338.95" width="11.5" height="1.92" fill="#2c2aa0"/><rect x="420.2" y="338.95" width="11.5" height="1.92" fill="#706dbc"/><rect x="431.5" y="338.95" width="11.5" height="1.92" fill="#4744ab"/><rect x="409.0" y="340.57" width="11.5" height="1.92" fill="#706cbc"/><rect x="420.2" y="340.57" width="11.5" height="1.92" fill="#a09cd0"/><rect x="431.5" y="340.57" width="11.5" height="1.92" fill="#f4eef3"/><rect x="409.0" y="342.19" width="11.5" height="1.92" fill="#2c2aa0"/><rect x="420.2" y="342.19" width="11.5" height="1.92" fill="#4f4cae"/><rect x="431.5" y="342.19" width="11.5" height="1.92" fill="#8480c5"/><rect x="409.0" y="343.80" width="11.5" height="1.92" fill="#6a67ba"/><rect x="420.2" y="343.80" width="11.5" height="1.92" fill="#9591cc"/><rect x="431.5" y="343.80" width="11.5" height="1.92" fill="#d1cce5"/><rect x="409.0" y="345.42" width="11.5" height="1.92" fill="#5d5ab4"/><rect x="420.2" y="345.42" width="11.5" height="1.92" fill="#9894cd"/><rect x="431.5" y="345.42" width="11.5" height="1.92" fill="#ada8d6"/><rect x="409.0" y="347.04" width="11.5" height="1.92" fill="#9c98cf"/><rect x="420.2" y="347.04" width="11.5" height="1.92" fill="#716ebd"/><rect x="431.5" y="347.04" width="11.5" height="1.92" fill="#7b77c1"/><rect x="409.0" y="348.66" width="11.5" height="1.92" fill="#2c2aa0"/><rect x="420.2" y="348.66" width="11.5" height="1.92" fill="#5855b2"/><rect x="431.5" y="348.66" width="11.5" height="1.92" fill="#5956b3"/><rect x="409.0" y="350.28" width="11.5" height="1.92" fill="#7774bf"/><rect x="420.2" y="350.28" width="11.5" height="1.92" fill="#3e3ca7"/><rect x="431.5" y="350.28" width="11.5" height="1.92" fill="#8985c7"/><rect x="409.0" y="351.89" width="11.5" height="1.92" fill="#6b68ba"/><rect x="420.2" y="351.89" width="11.5" height="1.92" fill="#3432a3"/><rect x="431.5" y="351.89" width="11.5" height="1.92" fill="#6e6bbc"/><rect x="409.0" y="353.51" width="11.5" height="1.92" fill="#7673bf"/><rect x="420.2" y="353.51" width="11.5" height="1.92" fill="#524fb0"/><rect x="431.5" y="353.51" width="11.5" height="1.92" fill="#615eb6"/><rect x="409.0" y="355.13" width="11.5" height="1.92" fill="#aaa5d4"/><rect x="420.2" y="355.13" width="11.5" height="1.92" fill="#6d6abb"/><rect x="431.5" y="355.13" width="11.5" height="1.92" fill="#928ecb"/><rect x="409.0" y="356.75" width="11.5" height="1.92" fill="#7773bf"/><rect x="420.2" y="356.75" width="11.5" height="1.92" fill="#6662b8"/><rect x="431.5" y="356.75" width="11.5" height="1.92" fill="#6a66ba"/><rect x="409.0" y="358.36" width="11.5" height="1.92" fill="#a7a3d3"/><rect x="420.2" y="358.36" width="11.5" height="1.92" fill="#a8a3d4"/><rect x="431.5" y="358.36" width="11.5" height="1.92" fill="#5250b0"/><rect x="409.0" y="359.98" width="11.5" height="1.92" fill="#f4dee1"/><rect x="420.2" y="359.98" width="11.5" height="1.92" fill="#d2cce5"/><rect x="431.5" y="359.98" width="11.5" height="1.92" fill="#8581c5"/><rect x="409.0" y="361.60" width="11.5" height="1.92" fill="#dbd6e9"/><rect x="420.2" y="361.60" width="11.5" height="1.92" fill="#a6a1d3"/><rect x="431.5" y="361.60" width="11.5" height="1.92" fill="#2c2aa0"/><rect x="409.0" y="363.22" width="11.5" height="1.92" fill="#f4e2e5"/><rect x="420.2" y="363.22" width="11.5" height="1.92" fill="#f3edf3"/><rect x="431.5" y="363.22" width="11.5" height="1.92" fill="#a7a3d3"/><rect x="409.0" y="364.83" width="11.5" height="1.92" fill="#eee8f1"/><rect x="420.2" y="364.83" width="11.5" height="1.92" fill="#d5d0e6"/><rect x="431.5" y="364.83" width="11.5" height="1.92" fill="#4f4cae"/><rect x="409.0" y="366.45" width="11.5" height="1.92" fill="#9995cd"/><rect x="420.2" y="366.45" width="11.5" height="1.92" fill="#b5b0d9"/><rect x="431.5" y="366.45" width="11.5" height="1.92" fill="#5d5ab4"/><rect x="409.0" y="368.07" width="11.5" height="1.92" fill="#938fcb"/><rect x="420.2" y="368.07" width="11.5" height="1.92" fill="#b6b2da"/><rect x="431.5" y="368.07" width="11.5" height="1.92" fill="#6b68ba"/><rect x="409.0" y="369.69" width="11.5" height="1.92" fill="#cbc5e2"/><rect x="420.2" y="369.69" width="11.5" height="1.92" fill="#e5dfed"/><rect x="431.5" y="369.69" width="11.5" height="1.92" fill="#8b87c8"/><rect x="409.0" y="371.31" width="11.5" height="1.92" fill="#8581c5"/><rect x="420.2" y="371.31" width="11.5" height="1.92" fill="#e4dfed"/><rect x="431.5" y="371.31" width="11.5" height="1.92" fill="#a5a0d2"/><rect x="409.0" y="372.92" width="11.5" height="1.92" fill="#cdc8e3"/><rect x="420.2" y="372.92" width="11.5" height="1.92" fill="#f1c9ca"/><rect x="431.5" y="372.92" width="11.5" height="1.92" fill="#ccc7e3"/><rect x="409.0" y="374.54" width="11.5" height="1.92" fill="#a7a3d3"/><rect x="420.2" y="374.54" width="11.5" height="1.92" fill="#c8c3e1"/><rect x="431.5" y="374.54" width="11.5" height="1.92" fill="#5653b1"/><rect x="409.0" y="376.16" width="11.5" height="1.92" fill="#b0abd7"/><rect x="420.2" y="376.16" width="11.5" height="1.92" fill="#cec9e3"/><rect x="431.5" y="376.16" width="11.5" height="1.92" fill="#3836a5"/><rect x="409.0" y="377.78" width="11.5" height="1.92" fill="#eeb0af"/><rect x="420.2" y="377.78" width="11.5" height="1.92" fill="#ec9e9c"/><rect x="431.5" y="377.78" width="11.5" height="1.92" fill="#dfd9ea"/><rect x="409.0" y="379.39" width="11.5" height="1.92" fill="#efbaba"/><rect x="420.2" y="379.39" width="11.5" height="1.92" fill="#f3d7d9"/><rect x="431.5" y="379.39" width="11.5" height="1.92" fill="#9793cd"/><rect x="409.0" y="381.01" width="11.5" height="1.92" fill="#f6f0f4"/><rect x="420.2" y="381.01" width="11.5" height="1.92" fill="#e2dceb"/><rect x="431.5" y="381.01" width="11.5" height="1.92" fill="#a7a2d3"/><rect x="409.0" y="382.63" width="11.5" height="1.92" fill="#b1acd7"/><rect x="420.2" y="382.63" width="11.5" height="1.92" fill="#c1bcde"/><rect x="431.5" y="382.63" width="11.5" height="1.92" fill="#2c2aa0"/><rect x="409.0" y="384.25" width="11.5" height="1.92" fill="#f0c0c0"/><rect x="420.2" y="384.25" width="11.5" height="1.92" fill="#efb9b9"/><rect x="431.5" y="384.25" width="11.5" height="1.92" fill="#7d79c2"/><rect x="409.0" y="385.86" width="11.5" height="1.92" fill="#f4e4e7"/><rect x="420.2" y="385.86" width="11.5" height="1.92" fill="#f5e6e9"/><rect x="431.5" y="385.86" width="11.5" height="1.92" fill="#8682c5"/><rect x="409.0" y="387.48" width="11.5" height="1.92" fill="#e7e1ee"/><rect x="420.2" y="387.48" width="11.5" height="1.92" fill="#eae4ef"/><rect x="431.5" y="387.48" width="11.5" height="1.92" fill="#7875c0"/></g>
<g shape-rendering="crispEdges"><rect x="442.7" y="233.80" width="11.4" height="1.92" fill="#7c79c1"/><rect x="453.8" y="233.80" width="11.4" height="1.92" fill="#6965b9"/><rect x="464.9" y="233.80" width="11.4" height="1.92" fill="#908cc9"/><rect x="476.1" y="233.80" width="11.4" height="1.92" fill="#d4cfe6"/><rect x="442.7" y="235.42" width="11.4" height="1.92" fill="#8885c6"/><rect x="453.8" y="235.42" width="11.4" height="1.92" fill="#8682c5"/><rect x="464.9" y="235.42" width="11.4" height="1.92" fill="#b9b4db"/><rect x="476.1" y="235.42" width="11.4" height="1.92" fill="#aaa5d4"/><rect x="442.7" y="237.04" width="11.4" height="1.92" fill="#7673bf"/><rect x="453.8" y="237.04" width="11.4" height="1.92" fill="#a6a2d3"/><rect x="464.9" y="237.04" width="11.4" height="1.92" fill="#a09cd0"/><rect x="476.1" y="237.04" width="11.4" height="1.92" fill="#aba7d5"/><rect x="442.7" y="238.65" width="11.4" height="1.92" fill="#5754b2"/><rect x="453.8" y="238.65" width="11.4" height="1.92" fill="#7471be"/><rect x="464.9" y="238.65" width="11.4" height="1.92" fill="#7672bf"/><rect x="476.1" y="238.65" width="11.4" height="1.92" fill="#a8a4d4"/><rect x="442.7" y="240.27" width="11.4" height="1.92" fill="#5855b2"/><rect x="453.8" y="240.27" width="11.4" height="1.92" fill="#6e6bbc"/><rect x="464.9" y="240.27" width="11.4" height="1.92" fill="#908cc9"/><rect x="476.1" y="240.27" width="11.4" height="1.92" fill="#4643ab"/><rect x="442.7" y="241.89" width="11.4" height="1.92" fill="#6f6cbc"/><rect x="453.8" y="241.89" width="11.4" height="1.92" fill="#3230a2"/><rect x="464.9" y="241.89" width="11.4" height="1.92" fill="#5350b0"/><rect x="476.1" y="241.89" width="11.4" height="1.92" fill="#2c2aa0"/><rect x="442.7" y="243.51" width="11.4" height="1.92" fill="#827ec4"/><rect x="453.8" y="243.51" width="11.4" height="1.92" fill="#807dc3"/><rect x="464.9" y="243.51" width="11.4" height="1.92" fill="#4c49ad"/><rect x="476.1" y="243.51" width="11.4" height="1.92" fill="#3a38a6"/><rect x="442.7" y="245.12" width="11.4" height="1.92" fill="#2c2aa0"/><rect x="453.8" y="245.12" width="11.4" height="1.92" fill="#2c2aa0"/><rect x="464.9" y="245.12" width="11.4" height="1.92" fill="#2e2ca1"/><rect x="476.1" y="245.12" width="11.4" height="1.92" fill="#2c2aa0"/><rect x="442.7" y="246.74" width="11.4" height="1.92" fill="#615eb6"/><rect x="453.8" y="246.74" width="11.4" height="1.92" fill="#7773bf"/><rect x="464.9" y="246.74" width="11.4" height="1.92" fill="#4c4aae"/><rect x="476.1" y="246.74" width="11.4" height="1.92" fill="#5653b1"/><rect x="442.7" y="248.36" width="11.4" height="1.92" fill="#918dca"/><rect x="453.8" y="248.36" width="11.4" height="1.92" fill="#7672bf"/><rect x="464.9" y="248.36" width="11.4" height="1.92" fill="#8884c6"/><rect x="476.1" y="248.36" width="11.4" height="1.92" fill="#3d3ba7"/><rect x="442.7" y="249.98" width="11.4" height="1.92" fill="#a19dd1"/><rect x="453.8" y="249.98" width="11.4" height="1.92" fill="#d7d2e7"/><rect x="464.9" y="249.98" width="11.4" height="1.92" fill="#c4bfdf"/><rect x="476.1" y="249.98" width="11.4" height="1.92" fill="#f3d6d8"/><rect x="442.7" y="251.59" width="11.4" height="1.92" fill="#2c2aa0"/><rect x="453.8" y="251.59" width="11.4" height="1.92" fill="#706dbc"/><rect x="464.9" y="251.59" width="11.4" height="1.92" fill="#2c2aa0"/><rect x="476.1" y="251.59" width="11.4" height="1.92" fill="#3634a4"/><rect x="442.7" y="253.21" width="11.4" height="1.92" fill="#2c2aa0"/><rect x="453.8" y="253.21" width="11.4" height="1.92" fill="#3533a4"/><rect x="464.9" y="253.21" width="11.4" height="1.92" fill="#3431a3"/><rect x="476.1" y="253.21" width="11.4" height="1.92" fill="#2c2aa0"/><rect x="442.7" y="254.83" width="11.4" height="1.92" fill="#2c2aa0"/><rect x="453.8" y="254.83" width="11.4" height="1.92" fill="#5250b0"/><rect x="464.9" y="254.83" width="11.4" height="1.92" fill="#3e3ca7"/><rect x="476.1" y="254.83" width="11.4" height="1.92" fill="#2c2aa0"/><rect x="442.7" y="256.45" width="11.4" height="1.92" fill="#2c2aa0"/><rect x="453.8" y="256.45" width="11.4" height="1.92" fill="#5755b2"/><rect x="464.9" y="256.45" width="11.4" height="1.92" fill="#5b58b4"/><rect x="476.1" y="256.45" width="11.4" height="1.92" fill="#4946ac"/><rect x="442.7" y="258.07" width="11.4" height="1.92" fill="#2c2aa0"/><rect x="453.8" y="258.07" width="11.4" height="1.92" fill="#9b97ce"/><rect x="464.9" y="258.07" width="11.4" height="1.92" fill="#3230a3"/><rect x="476.1" y="258.07" width="11.4" height="1.92" fill="#2c2aa0"/><rect x="442.7" y="259.68" width="11.4" height="1.92" fill="#2c2aa0"/><rect x="453.8" y="259.68" width="11.4" height="1.92" fill="#2e2ca1"/><rect x="464.9" y="259.68" width="11.4" height="1.92" fill="#2c2aa0"/><rect x="476.1" y="259.68" width="11.4" height="1.92" fill="#2c2aa0"/><rect x="442.7" y="261.30" width="11.4" height="1.92" fill="#2c2aa0"/><rect x="453.8" y="261.30" width="11.4" height="1.92" fill="#2c2aa0"/><rect x="464.9" y="261.30" width="11.4" height="1.92" fill="#2c2aa0"/><rect x="476.1" y="261.30" width="11.4" height="1.92" fill="#2c2aa0"/><rect x="442.7" y="262.92" width="11.4" height="1.92" fill="#2c2aa0"/><rect x="453.8" y="262.92" width="11.4" height="1.92" fill="#3432a3"/><rect x="464.9" y="262.92" width="11.4" height="1.92" fill="#3532a4"/><rect x="476.1" y="262.92" width="11.4" height="1.92" fill="#2c2aa0"/><rect x="442.7" y="264.54" width="11.4" height="1.92" fill="#afabd7"/><rect x="453.8" y="264.54" width="11.4" height="1.92" fill="#7f7bc2"/><rect x="464.9" y="264.54" width="11.4" height="1.92" fill="#2c2aa0"/><rect x="476.1" y="264.54" width="11.4" height="1.92" fill="#ada9d6"/><rect x="442.7" y="266.15" width="11.4" height="1.92" fill="#6764b9"/><rect x="453.8" y="266.15" width="11.4" height="1.92" fill="#6d6abb"/><rect x="464.9" y="266.15" width="11.4" height="1.92" fill="#2c2aa0"/><rect x="476.1" y="266.15" width="11.4" height="1.92" fill="#524fb0"/><rect x="442.7" y="267.77" width="11.4" height="1.92" fill="#615eb6"/><rect x="453.8" y="267.77" width="11.4" height="1.92" fill="#7571be"/><rect x="464.9" y="267.77" width="11.4" height="1.92" fill="#2c2aa0"/><rect x="476.1" y="267.77" width="11.4" height="1.92" fill="#8b87c7"/><rect x="442.7" y="269.39" width="11.4" height="1.92" fill="#c8c3e1"/><rect x="453.8" y="269.39" width="11.4" height="1.92" fill="#6966b9"/><rect x="464.9" y="269.39" width="11.4" height="1.92" fill="#a9a4d4"/><rect x="476.1" y="269.39" width="11.4" height="1.92" fill="#afaad6"/><rect x="442.7" y="271.01" width="11.4" height="1.92" fill="#d5d0e6"/><rect x="453.8" y="271.01" width="11.4" height="1.92" fill="#ada8d6"/><rect x="464.9" y="271.01" width="11.4" height="1.92" fill="#ece7f0"/><rect x="476.1" y="271.01" width="11.4" height="1.92" fill="#7e7ac2"/><rect x="442.7" y="272.62" width="11.4" height="1.92" fill="#8a86c7"/><rect x="453.8" y="272.62" width="11.4" height="1.92" fill="#7571be"/><rect x="464.9" y="272.62" width="11.4" height="1.92" fill="#c4bfdf"/><rect x="476.1" y="272.62" width="11.4" height="1.92" fill="#7e7ac2"/><rect x="442.7" y="274.24" width="11.4" height="1.92" fill="#c6c0e0"/><rect x="453.8" y="274.24" width="11.4" height="1.92" fill="#9d98cf"/><rect x="464.9" y="274.24" width="11.4" height="1.92" fill="#b9b4db"/><rect x="476.1" y="274.24" width="11.4" height="1.92" fill="#7b78c1"/><rect x="442.7" y="275.86" width="11.4" height="1.92" fill="#f3dcdf"/><rect x="453.8" y="275.86" width="11.4" height="1.92" fill="#a9a5d4"/><rect x="464.9" y="275.86" width="11.4" height="1.92" fill="#f3d8db"/><rect x="476.1" y="275.86" width="11.4" height="1.92" fill="#7874c0"/><rect x="442.7" y="277.48" width="11.4" height="1.92" fill="#a19cd1"/><rect x="453.8" y="277.48" width="11.4" height="1.92" fill="#6764b8"/><rect x="464.9" y="277.48" width="11.4" height="1.92" fill="#6764b9"/><rect x="476.1" y="277.48" width="11.4" height="1.92" fill="#5a57b3"/><rect x="442.7" y="279.10" width="11.4" height="1.92" fill="#e4645e"/><rect x="453.8" y="279.10" width="11.4" height="1.92" fill="#e4655f"/><rect x="464.9" y="279.10" width="11.4" height="1.92" fill="#f0c2c3"/><rect x="476.1" y="279.10" width="11.4" height="1.92" fill="#eb9895"/><rect x="442.7" y="280.71" width="11.4" height="1.92" fill="#df3b32"/><rect x="453.8" y="280.71" width="11.4" height="1.92" fill="#e77772"/><rect x="464.9" y="280.71" width="11.4" height="1.92" fill="#dbd6e9"/><rect x="476.1" y="280.71" width="11.4" height="1.92" fill="#eca5a4"/><rect x="442.7" y="282.33" width="11.4" height="1.92" fill="#e98d8a"/><rect x="453.8" y="282.33" width="11.4" height="1.92" fill="#e77a75"/><rect x="464.9" y="282.33" width="11.4" height="1.92" fill="#f3d9db"/><rect x="476.1" y="282.33" width="11.4" height="1.92" fill="#f0bdbe"/><rect x="442.7" y="283.95" width="11.4" height="1.92" fill="#efbbbb"/><rect x="453.8" y="283.95" width="11.4" height="1.92" fill="#e56a64"/><rect x="464.9" y="283.95" width="11.4" height="1.92" fill="#ede8f0"/><rect x="476.1" y="283.95" width="11.4" height="1.92" fill="#e8837f"/><rect x="442.7" y="285.57" width="11.4" height="1.92" fill="#eca09e"/><rect x="453.8" y="285.57" width="11.4" height="1.92" fill="#e87f7a"/><rect x="464.9" y="285.57" width="11.4" height="1.92" fill="#eb9a98"/><rect x="476.1" y="285.57" width="11.4" height="1.92" fill="#e56d68"/><rect x="442.7" y="287.18" width="11.4" height="1.92" fill="#efb7b6"/><rect x="453.8" y="287.18" width="11.4" height="1.92" fill="#e4635c"/><rect x="464.9" y="287.18" width="11.4" height="1.92" fill="#f3d5d7"/><rect x="476.1" y="287.18" width="11.4" height="1.92" fill="#eca5a4"/><rect x="442.7" y="288.80" width="11.4" height="1.92" fill="#eeb2b2"/><rect x="453.8" y="288.80" width="11.4" height="1.92" fill="#efbbbb"/><rect x="464.9" y="288.80" width="11.4" height="1.92" fill="#cec9e3"/><rect x="476.1" y="288.80" width="11.4" height="1.92" fill="#eca2a0"/><rect x="442.7" y="290.42" width="11.4" height="1.92" fill="#f0bfbf"/><rect x="453.8" y="290.42" width="11.4" height="1.92" fill="#f3dcde"/><rect x="464.9" y="290.42" width="11.4" height="1.92" fill="#9792cc"/><rect x="476.1" y="290.42" width="11.4" height="1.92" fill="#f2d3d5"/><rect x="442.7" y="292.04" width="11.4" height="1.92" fill="#ea8e8b"/><rect x="453.8" y="292.04" width="11.4" height="1.92" fill="#e98d89"/><rect x="464.9" y="292.04" width="11.4" height="1.92" fill="#eda9a8"/><rect x="476.1" y="292.04" width="11.4" height="1.92" fill="#eca1a0"/><rect x="442.7" y="293.66" width="11.4" height="1.92" fill="#eae4ef"/><rect x="453.8" y="293.66" width="11.4" height="1.92" fill="#f5e9ec"/><rect x="464.9" y="293.66" width="11.4" height="1.92" fill="#f3dcde"/><rect x="476.1" y="293.66" width="11.4" height="1.92" fill="#ddd8ea"/><rect x="442.7" y="295.27" width="11.4" height="1.92" fill="#eda7a6"/><rect x="453.8" y="295.27" width="11.4" height="1.92" fill="#cac5e2"/><rect x="464.9" y="295.27" width="11.4" height="1.92" fill="#eeb2b1"/><rect x="476.1" y="295.27" width="11.4" height="1.92" fill="#f4dfe2"/><rect x="442.7" y="296.89" width="11.4" height="1.92" fill="#eda9a8"/><rect x="453.8" y="296.89" width="11.4" height="1.92" fill="#f2d2d3"/><rect x="464.9" y="296.89" width="11.4" height="1.92" fill="#f5ebee"/><rect x="476.1" y="296.89" width="11.4" height="1.92" fill="#f1c8c9"/><rect x="442.7" y="298.51" width="11.4" height="1.92" fill="#eb9996"/><rect x="453.8" y="298.51" width="11.4" height="1.92" fill="#eb9c9a"/><rect x="464.9" y="298.51" width="11.4" height="1.92" fill="#f4e3e7"/><rect x="476.1" y="298.51" width="11.4" height="1.92" fill="#f0c2c2"/><rect x="442.7" y="300.13" width="11.4" height="1.92" fill="#d7d2e7"/><rect x="453.8" y="300.13" width="11.4" height="1.92" fill="#e8807c"/><rect x="464.9" y="300.13" width="11.4" height="1.92" fill="#e3ddec"/><rect x="476.1" y="300.13" width="11.4" height="1.92" fill="#f4dfe2"/><rect x="442.7" y="301.74" width="11.4" height="1.92" fill="#e6e0ed"/><rect x="453.8" y="301.74" width="11.4" height="1.92" fill="#e6716b"/><rect x="464.9" y="301.74" width="11.4" height="1.92" fill="#f5e6e9"/><rect x="476.1" y="301.74" width="11.4" height="1.92" fill="#e88581"/><rect x="442.7" y="303.36" width="11.4" height="1.92" fill="#f4dee1"/><rect x="453.8" y="303.36" width="11.4" height="1.92" fill="#eeb4b4"/><rect x="464.9" y="303.36" width="11.4" height="1.92" fill="#f4e0e3"/><rect x="476.1" y="303.36" width="11.4" height="1.92" fill="#f3d9db"/><rect x="442.7" y="304.98" width="11.4" height="1.92" fill="#f0c1c2"/><rect x="453.8" y="304.98" width="11.4" height="1.92" fill="#eeb2b1"/><rect x="464.9" y="304.98" width="11.4" height="1.92" fill="#f5e8ec"/><rect x="476.1" y="304.98" width="11.4" height="1.92" fill="#eda9a8"/><rect x="442.7" y="306.60" width="11.4" height="1.92" fill="#eca3a1"/><rect x="453.8" y="306.60" width="11.4" height="1.92" fill="#e56761"/><rect x="464.9" y="306.60" width="11.4" height="1.92" fill="#c1bcde"/><rect x="476.1" y="306.60" width="11.4" height="1.92" fill="#eb9d9b"/><rect x="442.7" y="308.21" width="11.4" height="1.92" fill="#f0eaf1"/><rect x="453.8" y="308.21" width="11.4" height="1.92" fill="#f1c9ca"/><rect x="464.9" y="308.21" width="11.4" height="1.92" fill="#d5d0e6"/><rect x="476.1" y="308.21" width="11.4" height="1.92" fill="#f0bfc0"/><rect x="442.7" y="309.83" width="11.4" height="1.92" fill="#f1cbcc"/><rect x="453.8" y="309.83" width="11.4" height="1.92" fill="#f0c3c3"/><rect x="464.9" y="309.83" width="11.4" height="1.92" fill="#f2d1d3"/><rect x="476.1" y="309.83" width="11.4" height="1.92" fill="#eb9d9b"/><rect x="442.7" y="311.45" width="11.4" height="1.92" fill="#bfbadd"/><rect x="453.8" y="311.45" width="11.4" height="1.92" fill="#f5ebee"/><rect x="464.9" y="311.45" width="11.4" height="1.92" fill="#c2bdde"/><rect x="476.1" y="311.45" width="11.4" height="1.92" fill="#f6eff3"/><rect x="442.7" y="313.07" width="11.4" height="1.92" fill="#f1c6c7"/><rect x="453.8" y="313.07" width="11.4" height="1.92" fill="#edacab"/><rect x="464.9" y="313.07" width="11.4" height="1.92" fill="#f2cfd1"/><rect x="476.1" y="313.07" width="11.4" height="1.92" fill="#f0c3c4"/><rect x="442.7" y="314.69" width="11.4" height="1.92" fill="#efb9b9"/><rect x="453.8" y="314.69" width="11.4" height="1.92" fill="#f0bfbf"/><rect x="464.9" y="314.69" width="11.4" height="1.92" fill="#eeb4b3"/><rect x="476.1" y="314.69" width="11.4" height="1.92" fill="#ea918e"/><rect x="442.7" y="316.30" width="11.4" height="1.92" fill="#eb9a98"/><rect x="453.8" y="316.30" width="11.4" height="1.92" fill="#eda8a7"/><rect x="464.9" y="316.30" width="11.4" height="1.92" fill="#f6f0f4"/><rect x="476.1" y="316.30" width="11.4" height="1.92" fill="#f0c2c2"/><rect x="442.7" y="317.92" width="11.4" height="1.92" fill="#f4eef3"/><rect x="453.8" y="317.92" width="11.4" height="1.92" fill="#f2cecf"/><rect x="464.9" y="317.92" width="11.4" height="1.92" fill="#f1c7c8"/><rect x="476.1" y="317.92" width="11.4" height="1.92" fill="#f1c5c6"/><rect x="442.7" y="319.54" width="11.4" height="1.92" fill="#ded9ea"/><rect x="453.8" y="319.54" width="11.4" height="1.92" fill="#f3d5d7"/><rect x="464.9" y="319.54" width="11.4" height="1.92" fill="#f4e0e3"/><rect x="476.1" y="319.54" width="11.4" height="1.92" fill="#ea9390"/><rect x="442.7" y="321.16" width="11.4" height="1.92" fill="#f1cacb"/><rect x="453.8" y="321.16" width="11.4" height="1.92" fill="#eda6a5"/><rect x="464.9" y="321.16" width="11.4" height="1.92" fill="#e98a87"/><rect x="476.1" y="321.16" width="11.4" height="1.92" fill="#eca4a3"/><rect x="442.7" y="322.77" width="11.4" height="1.92" fill="#f2d4d6"/><rect x="453.8" y="322.77" width="11.4" height="1.92" fill="#e56963"/><rect x="464.9" y="322.77" width="11.4" height="1.92" fill="#eb9c99"/><rect x="476.1" y="322.77" width="11.4" height="1.92" fill="#efb6b6"/><rect x="442.7" y="324.39" width="11.4" height="1.92" fill="#e0dbeb"/><rect x="453.8" y="324.39" width="11.4" height="1.92" fill="#f0c0c1"/><rect x="464.9" y="324.39" width="11.4" height="1.92" fill="#e4deec"/><rect x="476.1" y="324.39" width="11.4" height="1.92" fill="#edaba9"/><rect x="442.7" y="326.01" width="11.4" height="1.92" fill="#413fa9"/><rect x="453.8" y="326.01" width="11.4" height="1.92" fill="#726fbd"/><rect x="464.9" y="326.01" width="11.4" height="1.92" fill="#625fb7"/><rect x="476.1" y="326.01" width="11.4" height="1.92" fill="#3432a4"/><rect x="442.7" y="327.63" width="11.4" height="1.92" fill="#605db6"/><rect x="453.8" y="327.63" width="11.4" height="1.92" fill="#c8c3e1"/><rect x="464.9" y="327.63" width="11.4" height="1.92" fill="#5d5ab4"/><rect x="476.1" y="327.63" width="11.4" height="1.92" fill="#6d6abb"/><rect x="442.7" y="329.24" width="11.4" height="1.92" fill="#eb9e9c"/><rect x="453.8" y="329.24" width="11.4" height="1.92" fill="#e98783"/><rect x="464.9" y="329.24" width="11.4" height="1.92" fill="#f1c6c6"/><rect x="476.1" y="329.24" width="11.4" height="1.92" fill="#f1cdce"/><rect x="442.7" y="330.86" width="11.4" height="1.92" fill="#f1c6c7"/><rect x="453.8" y="330.86" width="11.4" height="1.92" fill="#f5eff3"/><rect x="464.9" y="330.86" width="11.4" height="1.92" fill="#ded8ea"/><rect x="476.1" y="330.86" width="11.4" height="1.92" fill="#beb9dd"/><rect x="442.7" y="332.48" width="11.4" height="1.92" fill="#edabaa"/><rect x="453.8" y="332.48" width="11.4" height="1.92" fill="#f0bfbf"/><rect x="464.9" y="332.48" width="11.4" height="1.92" fill="#efbbbb"/><rect x="476.1" y="332.48" width="11.4" height="1.92" fill="#f3dbdd"/><rect x="442.7" y="334.10" width="11.4" height="1.92" fill="#e4605a"/><rect x="453.8" y="334.10" width="11.4" height="1.92" fill="#e8827e"/><rect x="464.9" y="334.10" width="11.4" height="1.92" fill="#eda6a4"/><rect x="476.1" y="334.10" width="11.4" height="1.92" fill="#efb7b6"/><rect x="442.7" y="335.72" width="11.4" height="1.92" fill="#e98885"/><rect x="453.8" y="335.72" width="11.4" height="1.92" fill="#eca19f"/><rect x="464.9" y="335.72" width="11.4" height="1.92" fill="#efb7b7"/><rect x="476.1" y="335.72" width="11.4" height="1.92" fill="#f3dadc"/><rect x="442.7" y="337.33" width="11.4" height="1.92" fill="#eb9a97"/><rect x="453.8" y="337.33" width="11.4" height="1.92" fill="#f1c6c7"/><rect x="464.9" y="337.33" width="11.4" height="1.92" fill="#e98c89"/><rect x="476.1" y="337.33" width="11.4" height="1.92" fill="#eeb1b1"/><rect x="442.7" y="338.95" width="11.4" height="1.92" fill="#edacab"/><rect x="453.8" y="338.95" width="11.4" height="1.92" fill="#f4dfe2"/><rect x="464.9" y="338.95" width="11.4" height="1.92" fill="#efb9b9"/><rect x="476.1" y="338.95" width="11.4" height="1.92" fill="#e2dcec"/><rect x="442.7" y="340.57" width="11.4" height="1.92" fill="#f0c3c3"/><rect x="453.8" y="340.57" width="11.4" height="1.92" fill="#e8837f"/><rect x="464.9" y="340.57" width="11.4" height="1.92" fill="#ea9693"/><rect x="476.1" y="340.57" width="11.4" height="1.92" fill="#eeb4b4"/><rect x="442.7" y="342.19" width="11.4" height="1.92" fill="#eda7a6"/><rect x="453.8" y="342.19" width="11.4" height="1.92" fill="#e14a41"/><rect x="464.9" y="342.19" width="11.4" height="1.92" fill="#efb6b5"/><rect x="476.1" y="342.19" width="11.4" height="1.92" fill="#e2574f"/><rect x="442.7" y="343.80" width="11.4" height="1.92" fill="#e77a75"/><rect x="453.8" y="343.80" width="11.4" height="1.92" fill="#de342a"/><rect x="464.9" y="343.80" width="11.4" height="1.92" fill="#eeb4b3"/><rect x="476.1" y="343.80" width="11.4" height="1.92" fill="#e6756f"/><rect x="442.7" y="345.42" width="11.4" height="1.92" fill="#e88480"/><rect x="453.8" y="345.42" width="11.4" height="1.92" fill="#e14b43"/><rect x="464.9" y="345.42" width="11.4" height="1.92" fill="#eb9d9b"/><rect x="476.1" y="345.42" width="11.4" height="1.92" fill="#ea9390"/><rect x="442.7" y="347.04" width="11.4" height="1.92" fill="#e0443b"/><rect x="453.8" y="347.04" width="11.4" height="1.92" fill="#e56963"/><rect x="464.9" y="347.04" width="11.4" height="1.92" fill="#e98986"/><rect x="476.1" y="347.04" width="11.4" height="1.92" fill="#e4655f"/><rect x="442.7" y="348.66" width="11.4" height="1.92" fill="#e77a76"/><rect x="453.8" y="348.66" width="11.4" height="1.92" fill="#e98d89"/><rect x="464.9" y="348.66" width="11.4" height="1.92" fill="#e98783"/><rect x="476.1" y="348.66" width="11.4" height="1.92" fill="#ea8f8b"/><rect x="442.7" y="350.28" width="11.4" height="1.92" fill="#ea9592"/><rect x="453.8" y="350.28" width="11.4" height="1.92" fill="#e77e7a"/><rect x="464.9" y="350.28" width="11.4" height="1.92" fill="#e8837f"/><rect x="476.1" y="350.28" width="11.4" height="1.92" fill="#e14d45"/><rect x="442.7" y="351.89" width="11.4" height="1.92" fill="#eb9a97"/><rect x="453.8" y="351.89" width="11.4" height="1.92" fill="#e2544d"/><rect x="464.9" y="351.89" width="11.4" height="1.92" fill="#ea918e"/><rect x="476.1" y="351.89" width="11.4" height="1.92" fill="#e56d67"/><rect x="442.7" y="353.51" width="11.4" height="1.92" fill="#ea9390"/><rect x="453.8" y="353.51" width="11.4" height="1.92" fill="#e46660"/><rect x="464.9" y="353.51" width="11.4" height="1.92" fill="#e6736e"/><rect x="476.1" y="353.51" width="11.4" height="1.92" fill="#e14940"/><rect x="442.7" y="355.13" width="11.4" height="1.92" fill="#e46059"/><rect x="453.8" y="355.13" width="11.4" height="1.92" fill="#de342a"/><rect x="464.9" y="355.13" width="11.4" height="1.92" fill="#de342a"/><rect x="476.1" y="355.13" width="11.4" height="1.92" fill="#de342a"/><rect x="442.7" y="356.75" width="11.4" height="1.92" fill="#e98c88"/><rect x="453.8" y="356.75" width="11.4" height="1.92" fill="#df3b31"/><rect x="464.9" y="356.75" width="11.4" height="1.92" fill="#e56761"/><rect x="476.1" y="356.75" width="11.4" height="1.92" fill="#e2554e"/><rect x="442.7" y="358.36" width="11.4" height="1.92" fill="#e98985"/><rect x="453.8" y="358.36" width="11.4" height="1.92" fill="#e14c44"/><rect x="464.9" y="358.36" width="11.4" height="1.92" fill="#e2564f"/><rect x="476.1" y="358.36" width="11.4" height="1.92" fill="#e14f47"/><rect x="442.7" y="359.98" width="11.4" height="1.92" fill="#e98985"/><rect x="453.8" y="359.98" width="11.4" height="1.92" fill="#e14d45"/><rect x="464.9" y="359.98" width="11.4" height="1.92" fill="#e1483f"/><rect x="476.1" y="359.98" width="11.4" height="1.92" fill="#ea908d"/><rect x="442.7" y="361.60" width="11.4" height="1.92" fill="#e35d56"/><rect x="453.8" y="361.60" width="11.4" height="1.92" fill="#ec9e9c"/><rect x="464.9" y="361.60" width="11.4" height="1.92" fill="#e4665f"/><rect x="476.1" y="361.60" width="11.4" height="1.92" fill="#e88682"/><rect x="442.7" y="363.22" width="11.4" height="1.92" fill="#e4645e"/><rect x="453.8" y="363.22" width="11.4" height="1.92" fill="#edacab"/><rect x="464.9" y="363.22" width="11.4" height="1.92" fill="#f1c9ca"/><rect x="476.1" y="363.22" width="11.4" height="1.92" fill="#efbbbb"/><rect x="442.7" y="364.83" width="11.4" height="1.92" fill="#f2cfd1"/><rect x="453.8" y="364.83" width="11.4" height="1.92" fill="#efb6b5"/><rect x="464.9" y="364.83" width="11.4" height="1.92" fill="#f0ebf2"/><rect x="476.1" y="364.83" width="11.4" height="1.92" fill="#f5e9ec"/><rect x="442.7" y="366.45" width="11.4" height="1.92" fill="#e35d56"/><rect x="453.8" y="366.45" width="11.4" height="1.92" fill="#e67570"/><rect x="464.9" y="366.45" width="11.4" height="1.92" fill="#e88480"/><rect x="476.1" y="366.45" width="11.4" height="1.92" fill="#e77b76"/><rect x="442.7" y="368.07" width="11.4" height="1.92" fill="#de342a"/><rect x="453.8" y="368.07" width="11.4" height="1.92" fill="#de342a"/><rect x="464.9" y="368.07" width="11.4" height="1.92" fill="#e6726d"/><rect x="476.1" y="368.07" width="11.4" height="1.92" fill="#e98e8a"/><rect x="442.7" y="369.69" width="11.4" height="1.92" fill="#de342a"/><rect x="453.8" y="369.69" width="11.4" height="1.92" fill="#df3a30"/><rect x="464.9" y="369.69" width="11.4" height="1.92" fill="#e2554d"/><rect x="476.1" y="369.69" width="11.4" height="1.92" fill="#e14e46"/><rect x="442.7" y="371.31" width="11.4" height="1.92" fill="#e2514a"/><rect x="453.8" y="371.31" width="11.4" height="1.92" fill="#de342a"/><rect x="464.9" y="371.31" width="11.4" height="1.92" fill="#e0463e"/><rect x="476.1" y="371.31" width="11.4" height="1.92" fill="#e14b43"/><rect x="442.7" y="372.92" width="11.4" height="1.92" fill="#de362c"/><rect x="453.8" y="372.92" width="11.4" height="1.92" fill="#de342a"/><rect x="464.9" y="372.92" width="11.4" height="1.92" fill="#de342a"/><rect x="476.1" y="372.92" width="11.4" height="1.92" fill="#e0433a"/><rect x="442.7" y="374.54" width="11.4" height="1.92" fill="#e6756f"/><rect x="453.8" y="374.54" width="11.4" height="1.92" fill="#e8817d"/><rect x="464.9" y="374.54" width="11.4" height="1.92" fill="#ea9390"/><rect x="476.1" y="374.54" width="11.4" height="1.92" fill="#e35e57"/><rect x="442.7" y="376.16" width="11.4" height="1.92" fill="#e04239"/><rect x="453.8" y="376.16" width="11.4" height="1.92" fill="#e0453c"/><rect x="464.9" y="376.16" width="11.4" height="1.92" fill="#df3a30"/><rect x="476.1" y="376.16" width="11.4" height="1.92" fill="#e45f59"/><rect x="442.7" y="377.78" width="11.4" height="1.92" fill="#e14b42"/><rect x="453.8" y="377.78" width="11.4" height="1.92" fill="#e04138"/><rect x="464.9" y="377.78" width="11.4" height="1.92" fill="#de342a"/><rect x="476.1" y="377.78" width="11.4" height="1.92" fill="#e6726d"/><rect x="442.7" y="379.39" width="11.4" height="1.92" fill="#e35750"/><rect x="453.8" y="379.39" width="11.4" height="1.92" fill="#e4625b"/><rect x="464.9" y="379.39" width="11.4" height="1.92" fill="#df3f36"/><rect x="476.1" y="379.39" width="11.4" height="1.92" fill="#e2574f"/><rect x="442.7" y="381.01" width="11.4" height="1.92" fill="#de342a"/><rect x="453.8" y="381.01" width="11.4" height="1.92" fill="#de342a"/><rect x="464.9" y="381.01" width="11.4" height="1.92" fill="#df3b32"/><rect x="476.1" y="381.01" width="11.4" height="1.92" fill="#e0473f"/><rect x="442.7" y="382.63" width="11.4" height="1.92" fill="#e14c44"/><rect x="453.8" y="382.63" width="11.4" height="1.92" fill="#e14a41"/><rect x="464.9" y="382.63" width="11.4" height="1.92" fill="#e14e46"/><rect x="476.1" y="382.63" width="11.4" height="1.92" fill="#e8817d"/><rect x="442.7" y="384.25" width="11.4" height="1.92" fill="#df3e35"/><rect x="453.8" y="384.25" width="11.4" height="1.92" fill="#de342a"/><rect x="464.9" y="384.25" width="11.4" height="1.92" fill="#de342a"/><rect x="476.1" y="384.25" width="11.4" height="1.92" fill="#e35952"/><rect x="442.7" y="385.86" width="11.4" height="1.92" fill="#de342a"/><rect x="453.8" y="385.86" width="11.4" height="1.92" fill="#e4645e"/><rect x="464.9" y="385.86" width="11.4" height="1.92" fill="#e25750"/><rect x="476.1" y="385.86" width="11.4" height="1.92" fill="#eb9996"/><rect x="442.7" y="387.48" width="11.4" height="1.92" fill="#e0463e"/><rect x="453.8" y="387.48" width="11.4" height="1.92" fill="#e46059"/><rect x="464.9" y="387.48" width="11.4" height="1.92" fill="#de342a"/><rect x="476.1" y="387.48" width="11.4" height="1.92" fill="#e14a42"/></g>
<rect x="284.60" y="212.60" width="45.20" height="21.20" fill="#5BAEE3" />
<text x="307.20" y="221.60" font-size="7.1" text-anchor="middle" >CD62L+</text>
<text x="307.20" y="230.40" font-size="7.1" text-anchor="middle" >CX3CR1−</text>
<rect x="329.80" y="212.60" width="34.00" height="21.20" fill="#A47BC6" />
<text x="346.80" y="221.60" font-size="7.1" text-anchor="middle" >CD62L−</text>
<text x="346.80" y="230.40" font-size="7.1" text-anchor="middle" >CX3CR1−</text>
<rect x="363.80" y="212.60" width="45.20" height="21.20" fill="#9A6438" />
<text x="386.40" y="221.60" font-size="7.1" text-anchor="middle" >CD62L+</text>
<text x="386.40" y="230.40" font-size="7.1" text-anchor="middle" >CX3CR1+</text>
<rect x="409.00" y="212.60" width="33.70" height="21.20" fill="#5B9A58" />
<text x="425.85" y="221.60" font-size="7.1" text-anchor="middle" >CD62L−</text>
<text x="425.85" y="230.40" font-size="7.1" text-anchor="middle" >CX3CR1+</text>
<rect x="442.70" y="212.60" width="44.50" height="21.20" fill="#EDB95A" />
<text x="464.95" y="226.00" font-size="7.1" text-anchor="middle" >Naive</text>
<line x1="329.80" y1="212.60" x2="329.80" y2="389.10" stroke="#222" stroke-width="0.9" />
<line x1="363.80" y1="212.60" x2="363.80" y2="389.10" stroke="#222" stroke-width="0.9" />
<line x1="409.00" y1="212.60" x2="409.00" y2="389.10" stroke="#222" stroke-width="0.9" />
<line x1="442.70" y1="212.60" x2="442.70" y2="389.10" stroke="#222" stroke-width="0.9" />
<rect x="284.60" y="212.60" width="202.60" height="176.50" fill="none" stroke="#222" stroke-width="0.9" />
<line x1="284.60" y1="233.80" x2="487.20" y2="233.80" stroke="#333" stroke-width="0.7" />
<line x1="303.30" y1="183.40" x2="417.30" y2="183.40" stroke="#555" stroke-width="0.8" />
<line x1="303.30" y1="183.40" x2="303.30" y2="193.50" stroke="#555" stroke-width="0.8" />
<line x1="417.30" y1="183.40" x2="417.30" y2="185.40" stroke="#555" stroke-width="0.8" />
<line x1="376.10" y1="185.40" x2="457.60" y2="185.40" stroke="#555" stroke-width="0.8" />
<line x1="376.10" y1="185.40" x2="376.10" y2="191.10" stroke="#555" stroke-width="0.8" />
<line x1="457.60" y1="185.40" x2="457.60" y2="200.80" stroke="#555" stroke-width="0.8" />
<line x1="290.40" y1="193.50" x2="324.20" y2="193.50" stroke="#555" stroke-width="0.8" />
<line x1="290.40" y1="193.50" x2="290.40" y2="212.60" stroke="#555" stroke-width="0.8" />
<line x1="302.50" y1="193.80" x2="302.50" y2="212.60" stroke="#555" stroke-width="0.8" />
<line x1="313.70" y1="193.80" x2="313.70" y2="212.60" stroke="#555" stroke-width="0.8" />
<line x1="324.20" y1="193.50" x2="324.20" y2="212.60" stroke="#555" stroke-width="0.8" />
<line x1="349.40" y1="191.10" x2="403.30" y2="191.10" stroke="#555" stroke-width="0.8" />
<line x1="349.40" y1="191.10" x2="349.40" y2="200.50" stroke="#555" stroke-width="0.8" />
<line x1="335.40" y1="201.30" x2="346.00" y2="201.30" stroke="#555" stroke-width="0.8" />
<line x1="346.00" y1="200.50" x2="358.70" y2="200.50" stroke="#555" stroke-width="0.8" />
<line x1="335.40" y1="201.30" x2="335.40" y2="212.60" stroke="#555" stroke-width="0.8" />
<line x1="346.00" y1="200.50" x2="346.00" y2="212.60" stroke="#555" stroke-width="0.8" />
<line x1="358.70" y1="200.50" x2="358.70" y2="212.60" stroke="#555" stroke-width="0.8" />
<line x1="403.30" y1="191.10" x2="403.30" y2="195.20" stroke="#555" stroke-width="0.8" />
<line x1="379.60" y1="195.20" x2="427.80" y2="195.20" stroke="#555" stroke-width="0.8" />
<line x1="379.60" y1="195.20" x2="379.60" y2="197.30" stroke="#555" stroke-width="0.8" />
<line x1="427.80" y1="195.20" x2="427.80" y2="196.90" stroke="#555" stroke-width="0.8" />
<line x1="369.60" y1="197.30" x2="388.00" y2="197.30" stroke="#555" stroke-width="0.8" />
<line x1="380.50" y1="199.40" x2="402.40" y2="199.40" stroke="#555" stroke-width="0.8" />
<line x1="369.60" y1="197.30" x2="369.60" y2="212.60" stroke="#555" stroke-width="0.8" />
<line x1="380.50" y1="197.30" x2="380.50" y2="212.60" stroke="#555" stroke-width="0.8" />
<line x1="391.80" y1="199.40" x2="391.80" y2="212.60" stroke="#555" stroke-width="0.8" />
<line x1="402.40" y1="199.40" x2="402.40" y2="212.60" stroke="#555" stroke-width="0.8" />
<line x1="414.70" y1="196.90" x2="436.60" y2="196.90" stroke="#555" stroke-width="0.8" />
<line x1="414.70" y1="196.90" x2="414.70" y2="212.60" stroke="#555" stroke-width="0.8" />
<line x1="425.20" y1="196.90" x2="425.20" y2="212.60" stroke="#555" stroke-width="0.8" />
<line x1="436.60" y1="196.90" x2="436.60" y2="212.60" stroke="#555" stroke-width="0.8" />
<line x1="448.00" y1="200.80" x2="466.00" y2="200.80" stroke="#555" stroke-width="0.8" />
<line x1="459.30" y1="202.50" x2="481.20" y2="202.50" stroke="#555" stroke-width="0.8" />
<line x1="448.00" y1="200.80" x2="448.00" y2="212.60" stroke="#555" stroke-width="0.8" />
<line x1="459.30" y1="200.80" x2="459.30" y2="212.60" stroke="#555" stroke-width="0.8" />
<line x1="470.70" y1="202.50" x2="470.70" y2="212.60" stroke="#555" stroke-width="0.8" />
<line x1="481.20" y1="202.50" x2="481.20" y2="212.60" stroke="#555" stroke-width="0.8" />
<defs><linearGradient id="cb" x1="0" x2="1" y1="0" y2="0"><stop offset="0" stop-color="#3434A8"/><stop offset="0.5" stop-color="#F8F4F6"/><stop offset="1" stop-color="#DC3028"/></linearGradient><linearGradient id="fdr" x1="0" x2="1" y1="0" y2="0"><stop offset="0" stop-color="#C8282E"/><stop offset="1" stop-color="#FFFFFF"/></linearGradient></defs>
<rect x="369.00" y="400.60" width="41.70" height="4.30" fill="url(#cb)" stroke="#444" stroke-width="0.5" />
<text x="369.00" y="414.50" font-size="8.2" text-anchor="middle" >−2</text>
<text x="390.00" y="414.50" font-size="8.2" text-anchor="middle" >0</text>
<text x="410.70" y="414.50" font-size="8.2" text-anchor="middle" >2</text>
<text x="391" y="426.8" font-size="8.2" text-anchor="middle" fill="#1a1a1a"><tspan font-style="italic">Z</tspan>-score of expression</text>
<text x="-0.80" y="451.10" font-size="14" font-weight="bold" fill="#000" >d</text>
<line x1="64.00" y1="591.20" x2="64.00" y2="455.00" stroke="#444" stroke-width="0.9" />
<line x1="61.40" y1="591.20" x2="64.00" y2="591.20" stroke="#444" stroke-width="0.9" />
<text x="59.70" y="594.60" font-size="9.6" text-anchor="end" >0</text>
<line x1="61.40" y1="557.15" x2="64.00" y2="557.15" stroke="#444" stroke-width="0.9" />
<text x="59.70" y="560.55" font-size="9.6" text-anchor="end" >500</text>
<line x1="61.40" y1="523.10" x2="64.00" y2="523.10" stroke="#444" stroke-width="0.9" />
<text x="59.70" y="526.50" font-size="9.6" text-anchor="end" >1,000</text>
<line x1="61.40" y1="489.05" x2="64.00" y2="489.05" stroke="#444" stroke-width="0.9" />
<text x="59.70" y="492.45" font-size="9.6" text-anchor="end" >1,500</text>
<line x1="61.40" y1="455.00" x2="64.00" y2="455.00" stroke="#444" stroke-width="0.9" />
<text x="59.70" y="458.40" font-size="9.6" text-anchor="end" >2,000</text>
<line x1="67.70" y1="597.50" x2="296.50" y2="597.50" stroke="#444" stroke-width="0.9" />
<line x1="67.70" y1="597.50" x2="67.70" y2="600.10" stroke="#444" stroke-width="0.9" />
<text x="67.70" y="611.30" font-size="9.6" text-anchor="middle" >0</text>
<line x1="96.30" y1="597.50" x2="96.30" y2="600.10" stroke="#444" stroke-width="0.9" />
<text x="96.30" y="611.30" font-size="9.6" text-anchor="middle" >2</text>
<line x1="124.90" y1="597.50" x2="124.90" y2="600.10" stroke="#444" stroke-width="0.9" />
<text x="124.90" y="611.30" font-size="9.6" text-anchor="middle" >4</text>
<line x1="153.50" y1="597.50" x2="153.50" y2="600.10" stroke="#444" stroke-width="0.9" />
<text x="153.50" y="611.30" font-size="9.6" text-anchor="middle" >6</text>
<line x1="182.10" y1="597.50" x2="182.10" y2="600.10" stroke="#444" stroke-width="0.9" />
<text x="182.10" y="611.30" font-size="9.6" text-anchor="middle" >8</text>
<line x1="210.70" y1="597.50" x2="210.70" y2="600.10" stroke="#444" stroke-width="0.9" />
<text x="210.70" y="611.30" font-size="9.6" text-anchor="middle" >10</text>
<line x1="239.30" y1="597.50" x2="239.30" y2="600.10" stroke="#444" stroke-width="0.9" />
<text x="239.30" y="611.30" font-size="9.6" text-anchor="middle" >12</text>
<line x1="267.90" y1="597.50" x2="267.90" y2="600.10" stroke="#444" stroke-width="0.9" />
<text x="267.90" y="611.30" font-size="9.6" text-anchor="middle" >14</text>
<line x1="296.50" y1="597.50" x2="296.50" y2="600.10" stroke="#444" stroke-width="0.9" />
<text x="296.50" y="611.30" font-size="9.6" text-anchor="middle" >16</text>
<text x="190.30" y="623.60" font-size="9.6" text-anchor="middle" >DESeq2 normalized (log2)</text>
<text x="28.30" y="516.50" font-size="9.6" text-anchor="middle" transform="rotate(-90 28.30 516.50)" >Number of transcripts</text>
<rect x="67.70" y="588.40" width="14.30" height="2.80" fill="#3E3391" stroke="#111" stroke-width="0.55" />
<rect x="82.00" y="577.90" width="14.30" height="11.60" fill="#3E3391" stroke="#111" stroke-width="0.55" />
<rect x="82.00" y="589.50" width="14.30" height="1.70" fill="#506B30" stroke="#111" stroke-width="0.55" />
<rect x="96.30" y="548.60" width="14.30" height="33.90" fill="#3E3391" stroke="#111" stroke-width="0.55" />
<rect x="96.30" y="582.50" width="14.30" height="2.00" fill="#506B30" stroke="#111" stroke-width="0.55" />
<rect x="96.30" y="584.50" width="14.30" height="6.70" fill="#A8CF6A" stroke="#111" stroke-width="0.55" />
<rect x="110.60" y="491.00" width="14.30" height="66.80" fill="#3E3391" stroke="#111" stroke-width="0.55" />
<rect x="110.60" y="557.80" width="14.30" height="1.10" fill="#415A2A" stroke="#111" stroke-width="0.55" />
<rect x="110.60" y="558.90" width="14.30" height="9.40" fill="#6F8E40" stroke="#111" stroke-width="0.55" />
<rect x="110.60" y="568.30" width="14.30" height="20.30" fill="#A8CF6A" stroke="#111" stroke-width="0.55" />
<rect x="110.60" y="588.60" width="14.30" height="2.60" fill="#D2E2B6" stroke="#111" stroke-width="0.55" />
<rect x="124.90" y="465.80" width="14.30" height="67.90" fill="#3E3391" stroke="#111" stroke-width="0.55" />
<rect x="124.90" y="533.70" width="14.30" height="2.80" fill="#415A2A" stroke="#111" stroke-width="0.55" />
<rect x="124.90" y="536.50" width="14.30" height="18.60" fill="#6F8E40" stroke="#111" stroke-width="0.55" />
<rect x="124.90" y="555.10" width="14.30" height="33.90" fill="#A8CF6A" stroke="#111" stroke-width="0.55" />
<rect x="124.90" y="589.00" width="14.30" height="2.20" fill="#D2E2B6" stroke="#111" stroke-width="0.55" />
<rect x="139.20" y="453.10" width="14.30" height="60.90" fill="#3E3391" stroke="#111" stroke-width="0.55" />
<rect x="139.20" y="514.00" width="14.30" height="3.70" fill="#415A2A" stroke="#111" stroke-width="0.55" />
<rect x="139.20" y="517.70" width="14.30" height="27.60" fill="#6F8E40" stroke="#111" stroke-width="0.55" />
<rect x="139.20" y="545.30" width="14.30" height="43.30" fill="#A8CF6A" stroke="#111" stroke-width="0.55" />
<rect x="139.20" y="588.60" width="14.30" height="2.60" fill="#D2E2B6" stroke="#111" stroke-width="0.55" />
<rect x="153.50" y="473.90" width="14.30" height="40.70" fill="#3E3391" stroke="#111" stroke-width="0.55" />
<rect x="153.50" y="514.60" width="14.30" height="6.60" fill="#415A2A" stroke="#111" stroke-width="0.55" />
<rect x="153.50" y="521.20" width="14.30" height="28.90" fill="#6F8E40" stroke="#111" stroke-width="0.55" />
<rect x="153.50" y="550.10" width="14.30" height="38.90" fill="#A8CF6A" stroke="#111" stroke-width="0.55" />
<rect x="153.50" y="589.00" width="14.30" height="2.20" fill="#D2E2B6" stroke="#111" stroke-width="0.55" />
<rect x="167.80" y="510.00" width="14.30" height="22.60" fill="#3E3391" stroke="#111" stroke-width="0.55" />
<rect x="167.80" y="532.60" width="14.30" height="9.80" fill="#506B30" stroke="#111" stroke-width="0.55" />
<rect x="167.80" y="542.40" width="14.30" height="24.10" fill="#6F8E40" stroke="#111" stroke-width="0.55" />
<rect x="167.80" y="566.50" width="14.30" height="23.00" fill="#A8CF6A" stroke="#111" stroke-width="0.55" />
<rect x="167.80" y="589.50" width="14.30" height="1.70" fill="#D2E2B6" stroke="#111" stroke-width="0.55" />
<rect x="182.10" y="546.60" width="14.30" height="9.20" fill="#3E3391" stroke="#111" stroke-width="0.55" />
<rect x="182.10" y="555.80" width="14.30" height="8.70" fill="#506B30" stroke="#111" stroke-width="0.55" />
<rect x="182.10" y="564.50" width="14.30" height="13.80" fill="#6F8E40" stroke="#111" stroke-width="0.55" />
<rect x="182.10" y="578.30" width="14.30" height="12.90" fill="#A8CF6A" stroke="#111" stroke-width="0.55" />
<rect x="196.40" y="571.00" width="14.30" height="3.00" fill="#3E3391" stroke="#111" stroke-width="0.55" />
<rect x="196.40" y="574.00" width="14.30" height="5.20" fill="#506B30" stroke="#111" stroke-width="0.55" />
<rect x="196.40" y="579.20" width="14.30" height="8.10" fill="#6F8E40" stroke="#111" stroke-width="0.55" />
<rect x="196.40" y="587.30" width="14.30" height="3.90" fill="#A8CF6A" stroke="#111" stroke-width="0.55" />
<rect x="210.70" y="584.80" width="14.30" height="3.70" fill="#506B30" stroke="#111" stroke-width="0.55" />
<rect x="210.70" y="588.50" width="14.30" height="2.70" fill="#6F8E40" stroke="#111" stroke-width="0.55" />
<rect x="225.00" y="589.40" width="14.30" height="1.80" fill="#506B30" stroke="#111" stroke-width="0.55" />
<rect x="239.30" y="590.30" width="14.30" height="0.90" fill="#506B30" stroke="#111" stroke-width="0.55" />
<line x1="239.30" y1="591.20" x2="296.50" y2="591.20" stroke="#111" stroke-width="0.7" />
<rect x="212.50" y="456.80" width="43.00" height="40.80" fill="#fff" stroke="#333" stroke-width="0.8" />
<rect x="217.60" y="460.10" width="3.80" height="3.80" fill="#D2E2B6" stroke="#333" stroke-width="0.4" />
<text x="224.70" y="464.90" font-size="8.0" >18–22</text>
<rect x="217.60" y="467.70" width="3.80" height="3.80" fill="#A8CF6A" stroke="#333" stroke-width="0.4" />
<text x="224.70" y="472.50" font-size="8.0" >22–26</text>
<rect x="217.60" y="475.30" width="3.80" height="3.80" fill="#6F8E40" stroke="#333" stroke-width="0.4" />
<text x="224.70" y="480.10" font-size="8.0" >26–30</text>
<rect x="217.60" y="482.90" width="3.80" height="3.80" fill="#506B30" stroke="#333" stroke-width="0.4" />
<text x="224.70" y="487.70" font-size="8.0" >30–34</text>
<rect x="217.60" y="490.50" width="3.80" height="3.80" fill="#415A2A" stroke="#333" stroke-width="0.4" />
<text x="224.70" y="495.30" font-size="8.0" >34–38</text>
<text x="319.00" y="450.00" font-size="14" font-weight="bold" fill="#000" >e</text>
<text x="512.50" y="451.00" font-size="14" font-weight="bold" fill="#000" >f</text>
<rect x="351.40" y="457.80" width="140.10" height="142.50" fill="none" stroke="#444" stroke-width="0.9" />
<line x1="347.80" y1="464.70" x2="351.40" y2="464.70" stroke="#444" stroke-width="0.9" />
<text x="345.80" y="468.10" font-size="9.5" text-anchor="end" >10</text>
<line x1="347.80" y1="508.40" x2="351.40" y2="508.40" stroke="#444" stroke-width="0.9" />
<text x="345.80" y="511.80" font-size="9.5" text-anchor="end" >5</text>
<line x1="347.80" y1="552.10" x2="351.40" y2="552.10" stroke="#444" stroke-width="0.9" />
<text x="345.80" y="555.50" font-size="9.5" text-anchor="end" >0</text>
<line x1="347.80" y1="595.80" x2="351.40" y2="595.80" stroke="#444" stroke-width="0.9" />
<text x="345.80" y="599.20" font-size="9.5" text-anchor="end" >−5</text>
<line x1="355.80" y1="600.30" x2="355.80" y2="603.70" stroke="#444" stroke-width="0.9" />
<text x="355.80" y="616.20" font-size="9.5" text-anchor="middle" >0</text>
<line x1="390.50" y1="600.30" x2="390.50" y2="603.70" stroke="#444" stroke-width="0.9" />
<text x="390.50" y="616.20" font-size="9.5" text-anchor="middle" >50</text>
<line x1="425.20" y1="600.30" x2="425.20" y2="603.70" stroke="#444" stroke-width="0.9" />
<text x="425.20" y="616.20" font-size="9.5" text-anchor="middle" >100</text>
<line x1="459.90" y1="600.30" x2="459.90" y2="603.70" stroke="#444" stroke-width="0.9" />
<text x="459.90" y="616.20" font-size="9.5" text-anchor="middle" >150</text>
<line x1="351.40" y1="552.10" x2="491.50" y2="552.10" stroke="#111" stroke-width="0.8" stroke-dasharray="1.8 1.8"/>
<circle cx="375.41" cy="473.37" r="1.60" fill="#000" />
<circle cx="361.60" cy="485.37" r="1.60" fill="#000" />
<circle cx="357.40" cy="494.26" r="1.60" fill="#000" />
<circle cx="359.20" cy="497.86" r="1.60" fill="#000" />
<circle cx="359.44" cy="502.42" r="1.60" fill="#000" />
<circle cx="364.37" cy="502.06" r="1.60" fill="#000" />
<circle cx="372.17" cy="500.62" r="1.60" fill="#000" />
<circle cx="373.97" cy="506.63" r="1.60" fill="#000" />
<circle cx="380.21" cy="509.63" r="1.60" fill="#000" />
<circle cx="367.61" cy="512.27" r="1.60" fill="#000" />
<circle cx="362.81" cy="516.23" r="1.60" fill="#000" />
<circle cx="370.61" cy="515.39" r="1.60" fill="#000" />
<circle cx="362.21" cy="520.43" r="1.60" fill="#000" />
<circle cx="366.41" cy="521.39" r="1.60" fill="#000" />
<circle cx="373.01" cy="520.43" r="1.60" fill="#000" />
<circle cx="373.61" cy="522.83" r="1.60" fill="#000" />
<circle cx="379.61" cy="518.99" r="1.60" fill="#000" />
<circle cx="377.81" cy="524.99" r="1.60" fill="#000" />
<circle cx="382.02" cy="527.04" r="1.60" fill="#000" />
<circle cx="384.18" cy="527.88" r="1.60" fill="#000" />
<circle cx="388.02" cy="524.03" r="1.60" fill="#000" />
<circle cx="384.42" cy="530.04" r="1.60" fill="#000" />
<circle cx="391.02" cy="526.68" r="1.60" fill="#000" />
<circle cx="394.02" cy="527.64" r="1.60" fill="#000" />
<circle cx="395.22" cy="529.80" r="1.60" fill="#000" />
<circle cx="402.19" cy="515.99" r="1.60" fill="#000" />
<circle cx="408.43" cy="521.03" r="1.60" fill="#000" />
<circle cx="412.03" cy="521.63" r="1.60" fill="#000" />
<circle cx="415.63" cy="524.63" r="1.60" fill="#000" />
<circle cx="412.03" cy="527.64" r="1.60" fill="#000" />
<circle cx="400.02" cy="531.24" r="1.60" fill="#000" />
<circle cx="367.01" cy="534.84" r="1.60" fill="#000" />
<circle cx="367.61" cy="540.24" r="1.60" fill="#000" />
<circle cx="370.01" cy="541.44" r="1.60" fill="#000" />
<circle cx="381.42" cy="534.84" r="1.60" fill="#000" />
<circle cx="382.62" cy="537.24" r="1.60" fill="#000" />
<circle cx="384.42" cy="539.64" r="1.60" fill="#000" />
<circle cx="390.18" cy="533.04" r="1.60" fill="#000" />
<circle cx="393.42" cy="534.84" r="1.60" fill="#000" />
<circle cx="396.66" cy="537.24" r="1.60" fill="#000" />
<circle cx="403.03" cy="535.44" r="1.60" fill="#000" />
<circle cx="405.43" cy="537.24" r="1.60" fill="#000" />
<circle cx="407.47" cy="533.04" r="1.60" fill="#000" />
<circle cx="410.23" cy="537.00" r="1.60" fill="#000" />
<circle cx="415.63" cy="538.68" r="1.60" fill="#000" />
<circle cx="417.43" cy="537.24" r="1.60" fill="#000" />
<circle cx="420.44" cy="539.64" r="1.60" fill="#000" />
<circle cx="359.80" cy="543.24" r="1.60" fill="#000" />
<circle cx="358.00" cy="547.45" r="1.60" fill="#000" />
<circle cx="376.61" cy="549.49" r="1.60" fill="#000" />
<circle cx="388.02" cy="545.05" r="1.60" fill="#000" />
<circle cx="386.82" cy="546.85" r="1.60" fill="#000" />
<circle cx="398.22" cy="545.05" r="1.60" fill="#000" />
<circle cx="401.23" cy="547.45" r="1.60" fill="#000" />
<circle cx="404.23" cy="544.44" r="1.60" fill="#000" />
<circle cx="406.63" cy="548.65" r="1.60" fill="#000" />
<circle cx="398.82" cy="550.21" r="1.60" fill="#000" />
<circle cx="414.43" cy="547.81" r="1.60" fill="#000" />
<circle cx="419.23" cy="546.25" r="1.60" fill="#000" />
<circle cx="425.56" cy="528.63" r="1.60" fill="#000" />
<circle cx="430.96" cy="530.25" r="1.60" fill="#000" />
<circle cx="435.28" cy="531.33" r="1.60" fill="#000" />
<circle cx="440.15" cy="532.19" r="1.60" fill="#000" />
<circle cx="439.61" cy="533.49" r="1.60" fill="#000" />
<circle cx="448.25" cy="532.62" r="1.60" fill="#000" />
<circle cx="452.35" cy="524.63" r="1.60" fill="#000" />
<circle cx="453.11" cy="533.49" r="1.60" fill="#000" />
<circle cx="458.51" cy="534.35" r="1.60" fill="#000" />
<circle cx="461.75" cy="536.73" r="1.60" fill="#000" />
<circle cx="465.53" cy="532.95" r="1.60" fill="#000" />
<circle cx="478.49" cy="525.93" r="1.60" fill="#000" />
<circle cx="419.08" cy="538.35" r="1.60" fill="#000" />
<circle cx="422.32" cy="538.89" r="1.60" fill="#000" />
<circle cx="424.48" cy="537.81" r="1.60" fill="#000" />
<circle cx="427.72" cy="540.51" r="1.60" fill="#000" />
<circle cx="433.66" cy="538.89" r="1.60" fill="#000" />
<circle cx="419.08" cy="545.91" r="1.60" fill="#000" />
<circle cx="429.34" cy="549.15" r="1.60" fill="#000" />
<circle cx="430.42" cy="545.37" r="1.60" fill="#000" />
<circle cx="432.04" cy="543.75" r="1.60" fill="#000" />
<circle cx="436.90" cy="545.37" r="1.60" fill="#000" />
<circle cx="437.98" cy="548.07" r="1.60" fill="#000" />
<circle cx="441.23" cy="544.29" r="1.60" fill="#000" />
<circle cx="443.93" cy="542.67" r="1.60" fill="#000" />
<circle cx="445.55" cy="544.29" r="1.60" fill="#000" />
<circle cx="446.63" cy="546.45" r="1.60" fill="#000" />
<circle cx="449.33" cy="542.13" r="1.60" fill="#000" />
<circle cx="451.49" cy="541.05" r="1.60" fill="#000" />
<circle cx="455.81" cy="544.29" r="1.60" fill="#000" />
<circle cx="457.43" cy="547.53" r="1.60" fill="#000" />
<circle cx="459.05" cy="549.15" r="1.60" fill="#000" />
<circle cx="462.29" cy="549.69" r="1.60" fill="#000" />
<circle cx="464.45" cy="548.61" r="1.60" fill="#000" />
<circle cx="467.15" cy="544.29" r="1.60" fill="#000" />
<circle cx="469.31" cy="547.53" r="1.60" fill="#000" />
<circle cx="470.93" cy="545.37" r="1.60" fill="#000" />
<circle cx="473.09" cy="546.45" r="1.60" fill="#000" />
<circle cx="475.25" cy="548.07" r="1.60" fill="#000" />
<circle cx="477.41" cy="550.23" r="1.60" fill="#000" />
<circle cx="479.58" cy="548.61" r="1.60" fill="#000" />
<circle cx="481.74" cy="546.99" r="1.60" fill="#000" />
<circle cx="483.90" cy="547.53" r="1.60" fill="#000" />
<circle cx="485.52" cy="546.45" r="1.60" fill="#000" />
<circle cx="482.82" cy="544.83" r="1.60" fill="#000" />
<circle cx="486.06" cy="544.29" r="1.60" fill="#000" />
<circle cx="360.76" cy="558.73" r="1.60" fill="#4B45A8" />
<circle cx="374.36" cy="551.80" r="1.60" fill="#4B45A8" />
<circle cx="378.52" cy="556.79" r="1.60" fill="#4B45A8" />
<circle cx="388.50" cy="570.38" r="1.60" fill="#4B45A8" />
<circle cx="390.44" cy="561.50" r="1.60" fill="#4B45A8" />
<circle cx="394.60" cy="574.26" r="1.60" fill="#4B45A8" />
<circle cx="397.38" cy="589.80" r="1.60" fill="#4B45A8" />
<circle cx="399.32" cy="556.79" r="1.60" fill="#4B45A8" />
<circle cx="414.02" cy="555.40" r="1.60" fill="#4B45A8" />
<circle cx="422.34" cy="558.18" r="1.60" fill="#4B45A8" />
<circle cx="427.89" cy="561.50" r="1.60" fill="#4B45A8" />
<circle cx="432.61" cy="562.89" r="1.60" fill="#4B45A8" />
<circle cx="434.83" cy="556.79" r="1.60" fill="#4B45A8" />
<circle cx="436.21" cy="558.18" r="1.60" fill="#4B45A8" />
<circle cx="443.15" cy="558.18" r="1.60" fill="#4B45A8" />
<circle cx="456.46" cy="558.73" r="1.60" fill="#4B45A8" />
<circle cx="461.18" cy="555.40" r="1.60" fill="#4B45A8" />
<circle cx="463.95" cy="560.12" r="1.60" fill="#4B45A8" />
<circle cx="466.73" cy="558.18" r="1.60" fill="#4B45A8" />
<circle cx="468.67" cy="562.89" r="1.60" fill="#4B45A8" />
<circle cx="472.27" cy="552.63" r="1.60" fill="#4B45A8" />
<circle cx="476.44" cy="555.40" r="1.60" fill="#4B45A8" />
<circle cx="479.76" cy="555.40" r="1.60" fill="#4B45A8" />
<path d="M357.4,484.4 L362.2,491.0 L364.0,495.2 L367.6,499.4 L370.0,503.0 L370.2,507.2 L373.0,510.8 L379.6,515.6 L383.2,518.6 L388.0,520.4 L395.2,523.4 L400.0,525.8 L404.8,528.8 L412.0,530.6 L421.6,533.0 L428.8,534.4 L439.6,536.2 L450.4,537.8 L461.2,539.4 L472.0,540.8 L482.8,542.1 L486.6,543.2" fill="none" stroke="#D6452B" stroke-width="3.3" stroke-linecap="round" stroke-linejoin="round"/>
<circle cx="356.80" cy="478.70" r="1.70" fill="#D6452B" />
<text x="426.90" y="628.80" font-size="9.7" text-anchor="middle" >Rank in RNA data</text>
<text x="325.40" y="525.60" font-size="9.8" text-anchor="middle" transform="rotate(-90 325.40 525.60)" >Log2 fold change</text>
<rect x="415.20" y="457.80" width="76.30" height="34.50" fill="#fff" stroke="#333" stroke-width="0.8" />
<rect x="418.10" y="465.00" width="5.70" height="4.40" fill="#D6452B" stroke="#333" stroke-width="0.4" />
<text x="426.70" y="470.10" font-size="8.3" >RNA</text>
<rect x="418.10" y="473.30" width="5.70" height="4.40" fill="#000" stroke="#333" stroke-width="0.4" />
<text x="426.70" y="478.40" font-size="8.3" >Proteome</text>
<rect x="418.10" y="481.60" width="5.70" height="4.40" fill="#4B45A8" stroke="#333" stroke-width="0.4" />
<text x="426.70" y="486.70" font-size="8.3" >Proteome FC &lt; 0</text>
<rect x="544.90" y="457.80" width="139.60" height="142.50" fill="none" stroke="#444" stroke-width="0.9" />
<line x1="541.30" y1="464.70" x2="544.90" y2="464.70" stroke="#444" stroke-width="0.9" />
<text x="539.30" y="468.10" font-size="9.5" text-anchor="end" >10</text>
<line x1="541.30" y1="508.40" x2="544.90" y2="508.40" stroke="#444" stroke-width="0.9" />
<text x="539.30" y="511.80" font-size="9.5" text-anchor="end" >5</text>
<line x1="541.30" y1="552.10" x2="544.90" y2="552.10" stroke="#444" stroke-width="0.9" />
<text x="539.30" y="555.50" font-size="9.5" text-anchor="end" >0</text>
<line x1="541.30" y1="595.80" x2="544.90" y2="595.80" stroke="#444" stroke-width="0.9" />
<text x="539.30" y="599.20" font-size="9.5" text-anchor="end" >−5</text>
<line x1="549.10" y1="600.30" x2="549.10" y2="603.70" stroke="#444" stroke-width="0.9" />
<text x="549.10" y="616.20" font-size="9.5" text-anchor="middle" >0</text>
<line x1="591.37" y1="600.30" x2="591.37" y2="603.70" stroke="#444" stroke-width="0.9" />
<text x="591.37" y="616.20" font-size="9.5" text-anchor="middle" >50</text>
<line x1="633.63" y1="600.30" x2="633.63" y2="603.70" stroke="#444" stroke-width="0.9" />
<text x="633.63" y="616.20" font-size="9.5" text-anchor="middle" >100</text>
<line x1="675.89" y1="600.30" x2="675.89" y2="603.70" stroke="#444" stroke-width="0.9" />
<text x="675.89" y="616.20" font-size="9.5" text-anchor="middle" >150</text>
<line x1="544.90" y1="552.10" x2="684.50" y2="552.10" stroke="#111" stroke-width="0.8" stroke-dasharray="1.8 1.8"/>
<circle cx="559.41" cy="484.41" r="1.60" fill="#000" />
<circle cx="554.36" cy="486.81" r="1.60" fill="#000" />
<circle cx="551.60" cy="489.82" r="1.60" fill="#000" />
<circle cx="552.80" cy="495.46" r="1.60" fill="#000" />
<circle cx="556.77" cy="495.82" r="1.60" fill="#000" />
<circle cx="572.01" cy="495.22" r="1.60" fill="#000" />
<circle cx="575.26" cy="491.38" r="1.60" fill="#000" />
<circle cx="580.06" cy="497.86" r="1.60" fill="#000" />
<circle cx="584.38" cy="497.26" r="1.60" fill="#000" />
<circle cx="593.02" cy="495.58" r="1.60" fill="#000" />
<circle cx="551.00" cy="512.03" r="1.60" fill="#000" />
<circle cx="555.21" cy="509.87" r="1.60" fill="#000" />
<circle cx="561.21" cy="516.23" r="1.60" fill="#000" />
<circle cx="566.01" cy="508.43" r="1.60" fill="#000" />
<circle cx="567.81" cy="509.63" r="1.60" fill="#000" />
<circle cx="569.01" cy="510.83" r="1.60" fill="#000" />
<circle cx="574.42" cy="510.23" r="1.60" fill="#000" />
<circle cx="572.61" cy="514.43" r="1.60" fill="#000" />
<circle cx="582.82" cy="510.83" r="1.60" fill="#000" />
<circle cx="586.42" cy="513.23" r="1.60" fill="#000" />
<circle cx="583.42" cy="519.23" r="1.60" fill="#000" />
<circle cx="599.63" cy="513.47" r="1.60" fill="#000" />
<circle cx="607.43" cy="513.23" r="1.60" fill="#000" />
<circle cx="610.43" cy="510.83" r="1.60" fill="#000" />
<circle cx="603.83" cy="518.63" r="1.60" fill="#000" />
<circle cx="605.03" cy="517.43" r="1.60" fill="#000" />
<circle cx="613.44" cy="518.63" r="1.60" fill="#000" />
<circle cx="590.62" cy="521.63" r="1.60" fill="#000" />
<circle cx="594.23" cy="522.23" r="1.60" fill="#000" />
<circle cx="597.23" cy="521.63" r="1.60" fill="#000" />
<circle cx="600.23" cy="522.83" r="1.60" fill="#000" />
<circle cx="602.63" cy="525.84" r="1.60" fill="#000" />
<circle cx="603.83" cy="525.23" r="1.60" fill="#000" />
<circle cx="578.02" cy="525.23" r="1.60" fill="#000" />
<circle cx="579.22" cy="524.63" r="1.60" fill="#000" />
<circle cx="576.82" cy="529.44" r="1.60" fill="#000" />
<circle cx="581.02" cy="530.64" r="1.60" fill="#000" />
<circle cx="565.41" cy="527.64" r="1.60" fill="#000" />
<circle cx="566.61" cy="526.44" r="1.60" fill="#000" />
<circle cx="576.22" cy="534.24" r="1.60" fill="#000" />
<circle cx="579.22" cy="533.88" r="1.60" fill="#000" />
<circle cx="570.21" cy="536.28" r="1.60" fill="#000" />
<circle cx="593.02" cy="529.80" r="1.60" fill="#000" />
<circle cx="598.43" cy="533.40" r="1.60" fill="#000" />
<circle cx="605.63" cy="536.04" r="1.60" fill="#000" />
<circle cx="562.77" cy="539.40" r="1.60" fill="#000" />
<circle cx="558.57" cy="542.64" r="1.60" fill="#000" />
<circle cx="564.21" cy="544.69" r="1.60" fill="#000" />
<circle cx="585.22" cy="538.20" r="1.60" fill="#000" />
<circle cx="588.22" cy="541.08" r="1.60" fill="#000" />
<circle cx="592.42" cy="539.40" r="1.60" fill="#000" />
<circle cx="597.23" cy="543.60" r="1.60" fill="#000" />
<circle cx="601.43" cy="539.40" r="1.60" fill="#000" />
<circle cx="570.81" cy="548.05" r="1.60" fill="#000" />
<circle cx="573.81" cy="548.05" r="1.60" fill="#000" />
<circle cx="587.62" cy="548.65" r="1.60" fill="#000" />
<circle cx="590.02" cy="547.45" r="1.60" fill="#000" />
<circle cx="606.23" cy="548.29" r="1.60" fill="#000" />
<circle cx="609.83" cy="547.45" r="1.60" fill="#000" />
<circle cx="612.23" cy="547.45" r="1.60" fill="#000" />
<circle cx="557.61" cy="552.25" r="1.60" fill="#000" />
<circle cx="614.04" cy="539.64" r="1.60" fill="#000" />
<circle cx="610.86" cy="510.74" r="1.60" fill="#000" />
<circle cx="613.24" cy="518.63" r="1.60" fill="#000" />
<circle cx="617.35" cy="518.30" r="1.60" fill="#000" />
<circle cx="622.42" cy="518.63" r="1.60" fill="#000" />
<circle cx="627.28" cy="519.17" r="1.60" fill="#000" />
<circle cx="626.74" cy="521.33" r="1.60" fill="#000" />
<circle cx="621.34" cy="522.19" r="1.60" fill="#000" />
<circle cx="632.47" cy="522.95" r="1.60" fill="#000" />
<circle cx="638.30" cy="516.14" r="1.60" fill="#000" />
<circle cx="640.25" cy="522.19" r="1.60" fill="#000" />
<circle cx="624.91" cy="527.05" r="1.60" fill="#000" />
<circle cx="620.59" cy="529.43" r="1.60" fill="#000" />
<circle cx="612.16" cy="530.19" r="1.60" fill="#000" />
<circle cx="615.40" cy="536.45" r="1.60" fill="#000" />
<circle cx="614.11" cy="539.15" r="1.60" fill="#000" />
<circle cx="622.96" cy="533.75" r="1.60" fill="#000" />
<circle cx="625.66" cy="538.61" r="1.60" fill="#000" />
<circle cx="628.90" cy="539.15" r="1.60" fill="#000" />
<circle cx="632.15" cy="540.23" r="1.60" fill="#000" />
<circle cx="633.23" cy="534.29" r="1.60" fill="#000" />
<circle cx="637.01" cy="538.61" r="1.60" fill="#000" />
<circle cx="641.87" cy="531.59" r="1.60" fill="#000" />
<circle cx="644.57" cy="532.67" r="1.60" fill="#000" />
<circle cx="646.73" cy="532.67" r="1.60" fill="#000" />
<circle cx="647.27" cy="533.75" r="1.60" fill="#000" />
<circle cx="654.29" cy="531.59" r="1.60" fill="#000" />
<circle cx="658.61" cy="533.75" r="1.60" fill="#000" />
<circle cx="661.31" cy="532.99" r="1.60" fill="#000" />
<circle cx="660.77" cy="523.27" r="1.60" fill="#000" />
<circle cx="656.99" cy="537.53" r="1.60" fill="#000" />
<circle cx="650.51" cy="540.77" r="1.60" fill="#000" />
<circle cx="671.03" cy="534.29" r="1.60" fill="#000" />
<circle cx="672.66" cy="535.16" r="1.60" fill="#000" />
<circle cx="670.28" cy="536.99" r="1.60" fill="#000" />
<circle cx="678.60" cy="536.99" r="1.60" fill="#000" />
<circle cx="675.90" cy="540.77" r="1.60" fill="#000" />
<circle cx="611.08" cy="547.25" r="1.60" fill="#000" />
<circle cx="616.48" cy="549.41" r="1.60" fill="#000" />
<circle cx="619.18" cy="545.63" r="1.60" fill="#000" />
<circle cx="624.04" cy="544.01" r="1.60" fill="#000" />
<circle cx="630.53" cy="549.20" r="1.60" fill="#000" />
<circle cx="635.39" cy="544.55" r="1.60" fill="#000" />
<circle cx="635.39" cy="546.71" r="1.60" fill="#000" />
<circle cx="639.17" cy="548.87" r="1.60" fill="#000" />
<circle cx="643.49" cy="549.20" r="1.60" fill="#000" />
<circle cx="648.35" cy="548.12" r="1.60" fill="#000" />
<circle cx="654.29" cy="544.55" r="1.60" fill="#000" />
<circle cx="655.91" cy="546.71" r="1.60" fill="#000" />
<circle cx="660.23" cy="550.49" r="1.60" fill="#000" />
<circle cx="663.47" cy="545.63" r="1.60" fill="#000" />
<circle cx="665.09" cy="548.33" r="1.60" fill="#000" />
<circle cx="667.25" cy="549.41" r="1.60" fill="#000" />
<circle cx="672.12" cy="545.09" r="1.60" fill="#000" />
<circle cx="674.82" cy="545.63" r="1.60" fill="#000" />
<circle cx="677.52" cy="548.33" r="1.60" fill="#000" />
<circle cx="679.14" cy="551.03" r="1.60" fill="#000" />
<circle cx="614.86" cy="552.12" r="1.60" fill="#000" />
<circle cx="618.10" cy="554.60" r="1.60" fill="#4B45A8" />
<circle cx="619.72" cy="559.14" r="1.60" fill="#4B45A8" />
<circle cx="629.23" cy="558.92" r="1.60" fill="#4B45A8" />
<circle cx="645.11" cy="557.52" r="1.60" fill="#4B45A8" />
<circle cx="649.43" cy="552.44" r="1.60" fill="#4B45A8" />
<circle cx="668.87" cy="554.28" r="1.60" fill="#4B45A8" />
<path d="M551.6,492.8 L553.4,498.8 L557.0,504.2 L560.6,508.4 L564.2,513.2 L569.0,516.8 L575.0,520.4 L581.0,522.8 L587.0,525.2 L593.0,527.6 L599.0,529.4 L605.0,531.0 L614.6,532.4 L620.8,534.3 L631.6,536.5 L642.4,538.1 L653.2,539.7 L664.0,541.3 L674.8,542.7 L679.7,543.5" fill="none" stroke="#D6452B" stroke-width="3.3" stroke-linecap="round" stroke-linejoin="round"/>
<circle cx="550.40" cy="478.70" r="1.70" fill="#D6452B" />
<text x="621.90" y="628.80" font-size="9.7" text-anchor="middle" >Rank in proteome data</text>
<text x="518.90" y="525.60" font-size="9.8" text-anchor="middle" transform="rotate(-90 518.90 525.60)" >Log2 fold change</text>
<rect x="624.80" y="457.80" width="59.70" height="34.50" fill="#fff" stroke="#333" stroke-width="0.8" />
<rect x="629.40" y="465.00" width="5.70" height="4.40" fill="#D6452B" stroke="#333" stroke-width="0.4" />
<text x="637.90" y="470.10" font-size="8.3" >Proteome</text>
<rect x="629.40" y="473.30" width="5.70" height="4.40" fill="#000" stroke="#333" stroke-width="0.4" />
<text x="637.90" y="478.40" font-size="8.3" >RNA</text>
<rect x="629.40" y="481.60" width="5.70" height="4.40" fill="#4B45A8" stroke="#333" stroke-width="0.4" />
<text x="637.90" y="486.70" font-size="8.3" >RNA FC &lt; 0</text>
<text x="25.50" y="651.80" font-size="14" font-weight="bold" fill="#000" >g</text>
<polygon points="258.1,698.9 286.2,691.6 310.6,703.3 323.9,737.5 299.4,762.2 264.0,758.7 247.3,740.7 244.8,718.2" fill="#E56E6A" fill-opacity="0.55" stroke="#E56E6A" stroke-width="7" stroke-linejoin="round"/>
<line x1="148.20" y1="679.20" x2="188.40" y2="670.90" stroke="#E56E6A" stroke-width="1.98" />
<line x1="148.20" y1="679.20" x2="165.10" y2="685.50" stroke="#E56E6A" stroke-width="2.13" />
<line x1="148.20" y1="679.20" x2="192.40" y2="694.90" stroke="#E56E6A" stroke-width="1.02" />
<line x1="148.20" y1="679.20" x2="160.90" y2="702.10" stroke="#E56E6A" stroke-width="1.47" />
<line x1="148.20" y1="679.20" x2="172.60" y2="716.80" stroke="#E56E6A" stroke-width="2.79" />
<line x1="148.20" y1="679.20" x2="135.00" y2="695.60" stroke="#E56E6A" stroke-width="2.15" />
<line x1="148.20" y1="679.20" x2="116.00" y2="714.90" stroke="#E56E6A" stroke-width="2.14" />
<line x1="148.20" y1="679.20" x2="183.80" y2="759.80" stroke="#E56E6A" stroke-width="2.36" />
<line x1="148.20" y1="679.20" x2="133.40" y2="770.70" stroke="#E56E6A" stroke-width="1.06" />
<line x1="188.40" y1="670.90" x2="218.60" y2="680.20" stroke="#E56E6A" stroke-width="1.85" />
<line x1="188.40" y1="670.90" x2="165.10" y2="685.50" stroke="#E56E6A" stroke-width="2.58" />
<line x1="188.40" y1="670.90" x2="192.40" y2="694.90" stroke="#E56E6A" stroke-width="2.66" />
<line x1="188.40" y1="670.90" x2="160.90" y2="702.10" stroke="#E56E6A" stroke-width="2.44" />
<line x1="188.40" y1="670.90" x2="172.60" y2="716.80" stroke="#E56E6A" stroke-width="2.68" />
<line x1="188.40" y1="670.90" x2="105.80" y2="697.70" stroke="#E56E6A" stroke-width="1.24" />
<line x1="188.40" y1="670.90" x2="135.00" y2="695.60" stroke="#E56E6A" stroke-width="2.74" />
<line x1="188.40" y1="670.90" x2="133.40" y2="740.60" stroke="#E56E6A" stroke-width="1.91" />
<line x1="218.60" y1="680.20" x2="192.40" y2="694.90" stroke="#E56E6A" stroke-width="2.54" />
<line x1="218.60" y1="680.20" x2="207.80" y2="716.80" stroke="#E56E6A" stroke-width="2.55" />
<line x1="218.60" y1="680.20" x2="133.40" y2="740.60" stroke="#E56E6A" stroke-width="2.5" />
<line x1="218.60" y1="680.20" x2="175.10" y2="741.70" stroke="#E56E6A" stroke-width="1.11" />
<line x1="218.60" y1="680.20" x2="133.40" y2="770.70" stroke="#E56E6A" stroke-width="2.44" />
<line x1="165.10" y1="685.50" x2="192.40" y2="694.90" stroke="#E56E6A" stroke-width="1.27" />
<line x1="165.10" y1="685.50" x2="160.90" y2="702.10" stroke="#E56E6A" stroke-width="2.38" />
<line x1="165.10" y1="685.50" x2="172.60" y2="716.80" stroke="#E56E6A" stroke-width="1.08" />
<line x1="165.10" y1="685.50" x2="105.80" y2="697.70" stroke="#E56E6A" stroke-width="2.29" />
<line x1="165.10" y1="685.50" x2="135.00" y2="695.60" stroke="#E56E6A" stroke-width="2.59" />
<line x1="165.10" y1="685.50" x2="138.00" y2="716.10" stroke="#E56E6A" stroke-width="2.8" />
<line x1="165.10" y1="685.50" x2="133.40" y2="740.60" stroke="#E56E6A" stroke-width="1.14" />
<line x1="165.10" y1="685.50" x2="193.00" y2="735.70" stroke="#E56E6A" stroke-width="1.06" />
<line x1="165.10" y1="685.50" x2="175.10" y2="741.70" stroke="#E56E6A" stroke-width="1.73" />
<line x1="165.10" y1="685.50" x2="151.80" y2="752.90" stroke="#E56E6A" stroke-width="1.08" />
<line x1="192.40" y1="694.90" x2="160.90" y2="702.10" stroke="#E56E6A" stroke-width="2.73" />
<line x1="192.40" y1="694.90" x2="172.60" y2="716.80" stroke="#E56E6A" stroke-width="1.68" />
<line x1="192.40" y1="694.90" x2="207.80" y2="716.80" stroke="#E56E6A" stroke-width="1.94" />
<line x1="192.40" y1="694.90" x2="135.00" y2="695.60" stroke="#E56E6A" stroke-width="2.01" />
<line x1="192.40" y1="694.90" x2="193.00" y2="735.70" stroke="#E56E6A" stroke-width="2.3" />
<line x1="192.40" y1="694.90" x2="175.10" y2="741.70" stroke="#E56E6A" stroke-width="1.54" />
<line x1="160.90" y1="702.10" x2="172.60" y2="716.80" stroke="#E56E6A" stroke-width="1.75" />
<line x1="160.90" y1="702.10" x2="207.80" y2="716.80" stroke="#E56E6A" stroke-width="1.04" />
<line x1="160.90" y1="702.10" x2="135.00" y2="695.60" stroke="#E56E6A" stroke-width="1.11" />
<line x1="160.90" y1="702.10" x2="138.00" y2="716.10" stroke="#E56E6A" stroke-width="2.22" />
<line x1="160.90" y1="702.10" x2="133.40" y2="740.60" stroke="#E56E6A" stroke-width="2.27" />
<line x1="160.90" y1="702.10" x2="175.10" y2="741.70" stroke="#E56E6A" stroke-width="1.11" />
<line x1="160.90" y1="702.10" x2="133.40" y2="770.70" stroke="#E56E6A" stroke-width="1.82" />
<line x1="172.60" y1="716.80" x2="207.80" y2="716.80" stroke="#E56E6A" stroke-width="1.58" />
<line x1="172.60" y1="716.80" x2="135.00" y2="695.60" stroke="#E56E6A" stroke-width="1.66" />
<line x1="172.60" y1="716.80" x2="116.00" y2="714.90" stroke="#E56E6A" stroke-width="1.54" />
<line x1="172.60" y1="716.80" x2="138.00" y2="716.10" stroke="#E56E6A" stroke-width="2.39" />
<line x1="172.60" y1="716.80" x2="133.40" y2="740.60" stroke="#E56E6A" stroke-width="2.02" />
<line x1="172.60" y1="716.80" x2="193.00" y2="735.70" stroke="#E56E6A" stroke-width="1.56" />
<line x1="172.60" y1="716.80" x2="175.10" y2="741.70" stroke="#E56E6A" stroke-width="2.45" />
<line x1="172.60" y1="716.80" x2="183.80" y2="759.80" stroke="#E56E6A" stroke-width="1.34" />
<line x1="172.60" y1="716.80" x2="151.80" y2="752.90" stroke="#E56E6A" stroke-width="2.26" />
<line x1="172.60" y1="716.80" x2="133.40" y2="770.70" stroke="#E56E6A" stroke-width="1.58" />
<line x1="207.80" y1="716.80" x2="105.80" y2="697.70" stroke="#E56E6A" stroke-width="2.5" />
<line x1="207.80" y1="716.80" x2="138.00" y2="716.10" stroke="#E56E6A" stroke-width="1.61" />
<line x1="207.80" y1="716.80" x2="193.00" y2="735.70" stroke="#E56E6A" stroke-width="1.81" />
<line x1="207.80" y1="716.80" x2="175.10" y2="741.70" stroke="#E56E6A" stroke-width="1.22" />
<line x1="207.80" y1="716.80" x2="183.80" y2="759.80" stroke="#E56E6A" stroke-width="1.34" />
<line x1="105.80" y1="697.70" x2="135.00" y2="695.60" stroke="#E56E6A" stroke-width="1.5" />
<line x1="105.80" y1="697.70" x2="116.00" y2="714.90" stroke="#E56E6A" stroke-width="2.16" />
<line x1="105.80" y1="697.70" x2="133.40" y2="740.60" stroke="#E56E6A" stroke-width="1.23" />
<line x1="105.80" y1="697.70" x2="193.00" y2="735.70" stroke="#E56E6A" stroke-width="2.43" />
<line x1="105.80" y1="697.70" x2="175.10" y2="741.70" stroke="#E56E6A" stroke-width="1.62" />
<line x1="135.00" y1="695.60" x2="116.00" y2="714.90" stroke="#E56E6A" stroke-width="1.28" />
<line x1="135.00" y1="695.60" x2="138.00" y2="716.10" stroke="#E56E6A" stroke-width="2.7" />
<line x1="135.00" y1="695.60" x2="133.40" y2="770.70" stroke="#E56E6A" stroke-width="2.34" />
<line x1="116.00" y1="714.90" x2="138.00" y2="716.10" stroke="#E56E6A" stroke-width="2.19" />
<line x1="116.00" y1="714.90" x2="133.40" y2="740.60" stroke="#E56E6A" stroke-width="1.52" />
<line x1="116.00" y1="714.90" x2="193.00" y2="735.70" stroke="#E56E6A" stroke-width="1.41" />
<line x1="116.00" y1="714.90" x2="175.10" y2="741.70" stroke="#E56E6A" stroke-width="2.06" />
<line x1="116.00" y1="714.90" x2="183.80" y2="759.80" stroke="#E56E6A" stroke-width="2.46" />
<line x1="116.00" y1="714.90" x2="151.80" y2="752.90" stroke="#E56E6A" stroke-width="2.63" />
<line x1="138.00" y1="716.10" x2="133.40" y2="740.60" stroke="#E56E6A" stroke-width="2.61" />
<line x1="138.00" y1="716.10" x2="175.10" y2="741.70" stroke="#E56E6A" stroke-width="1.02" />
<line x1="138.00" y1="716.10" x2="151.80" y2="752.90" stroke="#E56E6A" stroke-width="1.54" />
<line x1="133.40" y1="740.60" x2="193.00" y2="735.70" stroke="#E56E6A" stroke-width="1.74" />
<line x1="133.40" y1="740.60" x2="151.80" y2="752.90" stroke="#E56E6A" stroke-width="1.45" />
<line x1="133.40" y1="740.60" x2="133.40" y2="770.70" stroke="#E56E6A" stroke-width="1.86" />
<line x1="193.00" y1="735.70" x2="175.10" y2="741.70" stroke="#E56E6A" stroke-width="1.63" />
<line x1="193.00" y1="735.70" x2="183.80" y2="759.80" stroke="#E56E6A" stroke-width="1.96" />
<line x1="193.00" y1="735.70" x2="133.40" y2="770.70" stroke="#E56E6A" stroke-width="2.43" />
<line x1="175.10" y1="741.70" x2="183.80" y2="759.80" stroke="#E56E6A" stroke-width="2.45" />
<line x1="175.10" y1="741.70" x2="151.80" y2="752.90" stroke="#E56E6A" stroke-width="1.01" />
<line x1="183.80" y1="759.80" x2="151.80" y2="752.90" stroke="#E56E6A" stroke-width="1.09" />
<line x1="183.80" y1="759.80" x2="133.40" y2="770.70" stroke="#E56E6A" stroke-width="1.48" />
<line x1="151.80" y1="752.90" x2="133.40" y2="770.70" stroke="#E56E6A" stroke-width="1.76" />
<line x1="82.80" y1="716.10" x2="105.80" y2="697.70" stroke="#E56E6A" stroke-width="1.37" />
<line x1="82.80" y1="716.10" x2="116.00" y2="714.90" stroke="#E56E6A" stroke-width="1.73" />
<line x1="82.80" y1="716.10" x2="135.00" y2="695.60" stroke="#E56E6A" stroke-width="0.8" />
<line x1="82.80" y1="716.10" x2="148.20" y2="679.20" stroke="#E56E6A" stroke-width="0.87" />
<line x1="82.80" y1="716.10" x2="160.90" y2="702.10" stroke="#E56E6A" stroke-width="0.95" />
<line x1="82.80" y1="716.10" x2="133.40" y2="740.60" stroke="#E56E6A" stroke-width="0.95" />
<line x1="82.80" y1="716.10" x2="62.90" y2="741.60" stroke="#E56E6A" stroke-width="0.88" />
<line x1="82.80" y1="716.10" x2="89.00" y2="757.80" stroke="#E56E6A" stroke-width="1.97" />
<line x1="99.10" y1="733.90" x2="105.80" y2="697.70" stroke="#E56E6A" stroke-width="1.83" />
<line x1="99.10" y1="733.90" x2="116.00" y2="714.90" stroke="#E56E6A" stroke-width="0.9" />
<line x1="99.10" y1="733.90" x2="135.00" y2="695.60" stroke="#E56E6A" stroke-width="1.4" />
<line x1="99.10" y1="733.90" x2="148.20" y2="679.20" stroke="#E56E6A" stroke-width="1.18" />
<line x1="99.10" y1="733.90" x2="160.90" y2="702.10" stroke="#E56E6A" stroke-width="1.18" />
<line x1="99.10" y1="733.90" x2="133.40" y2="740.60" stroke="#E56E6A" stroke-width="1.22" />
<line x1="99.10" y1="733.90" x2="62.90" y2="741.60" stroke="#E56E6A" stroke-width="1.58" />
<line x1="99.10" y1="733.90" x2="89.00" y2="757.80" stroke="#E56E6A" stroke-width="1.5" />
<line x1="82.80" y1="716.10" x2="99.10" y2="733.90" stroke="#E56E6A" stroke-width="2.5" />
<line x1="62.90" y1="741.60" x2="89.00" y2="757.80" stroke="#E56E6A" stroke-width="4.5" />
<line x1="62.90" y1="741.60" x2="105.80" y2="697.70" stroke="#E56E6A" stroke-width="1.2" />
<line x1="89.00" y1="757.80" x2="116.00" y2="714.90" stroke="#E56E6A" stroke-width="1.0" />
<line x1="133.40" y1="770.70" x2="134.00" y2="798.30" stroke="#E56E6A" stroke-width="1.6" />
<line x1="133.40" y1="770.70" x2="151.80" y2="752.90" stroke="#E56E6A" stroke-width="2.0" />
<line x1="133.40" y1="770.70" x2="154.90" y2="774.40" stroke="#E56E6A" stroke-width="1.8" />
<line x1="151.80" y1="752.90" x2="154.90" y2="774.40" stroke="#E56E6A" stroke-width="2.2" />
<line x1="154.90" y1="774.40" x2="183.80" y2="759.80" stroke="#E56E6A" stroke-width="1.5" />
<line x1="154.90" y1="774.40" x2="133.40" y2="740.60" stroke="#E56E6A" stroke-width="1.4" />
<line x1="154.90" y1="774.40" x2="175.10" y2="741.70" stroke="#E56E6A" stroke-width="1.4" />
<line x1="215.00" y1="749.00" x2="193.00" y2="735.70" stroke="#E56E6A" stroke-width="1.3" />
<line x1="215.00" y1="749.00" x2="175.10" y2="741.70" stroke="#E56E6A" stroke-width="1.2" />
<line x1="215.00" y1="749.00" x2="183.80" y2="759.80" stroke="#E56E6A" stroke-width="1.2" />
<line x1="215.00" y1="749.00" x2="247.30" y2="740.70" stroke="#E56E6A" stroke-width="1.0" />
<line x1="215.00" y1="749.00" x2="244.80" y2="718.20" stroke="#E56E6A" stroke-width="1.0" />
<line x1="218.60" y1="680.20" x2="258.10" y2="698.90" stroke="#E56E6A" stroke-width="1.0" />
<line x1="193.00" y1="735.70" x2="207.80" y2="716.80" stroke="#E56E6A" stroke-width="3" />
<line x1="193.00" y1="735.70" x2="218.60" y2="680.20" stroke="#E56E6A" stroke-width="2.5" />
<line x1="210.30" y1="810.10" x2="187.60" y2="825.50" stroke="#E56E6A" stroke-width="4.0" />
<line x1="187.60" y1="825.50" x2="232.10" y2="823.30" stroke="#E56E6A" stroke-width="2.6" />
<line x1="210.30" y1="810.10" x2="232.10" y2="823.30" stroke="#E56E6A" stroke-width="2.0" />
<line x1="258.10" y1="698.90" x2="286.20" y2="691.60" stroke="#E56E6A" stroke-width="4.26" />
<line x1="258.10" y1="698.90" x2="310.60" y2="703.30" stroke="#E56E6A" stroke-width="3.67" />
<line x1="258.10" y1="698.90" x2="244.80" y2="718.20" stroke="#E56E6A" stroke-width="4.15" />
<line x1="258.10" y1="698.90" x2="278.50" y2="721.40" stroke="#E56E6A" stroke-width="3.43" />
<line x1="258.10" y1="698.90" x2="303.90" y2="727.90" stroke="#E56E6A" stroke-width="4.94" />
<line x1="258.10" y1="698.90" x2="323.90" y2="737.50" stroke="#E56E6A" stroke-width="5.51" />
<line x1="258.10" y1="698.90" x2="247.30" y2="740.70" stroke="#E56E6A" stroke-width="4.33" />
<line x1="258.10" y1="698.90" x2="285.40" y2="744.60" stroke="#E56E6A" stroke-width="3.28" />
<line x1="258.10" y1="698.90" x2="264.00" y2="758.70" stroke="#E56E6A" stroke-width="3.62" />
<line x1="258.10" y1="698.90" x2="299.40" y2="762.20" stroke="#E56E6A" stroke-width="4.31" />
<line x1="286.20" y1="691.60" x2="310.60" y2="703.30" stroke="#E56E6A" stroke-width="5.12" />
<line x1="286.20" y1="691.60" x2="244.80" y2="718.20" stroke="#E56E6A" stroke-width="5.74" />
<line x1="286.20" y1="691.60" x2="278.50" y2="721.40" stroke="#E56E6A" stroke-width="4.33" />
<line x1="286.20" y1="691.60" x2="303.90" y2="727.90" stroke="#E56E6A" stroke-width="5.8" />
<line x1="286.20" y1="691.60" x2="323.90" y2="737.50" stroke="#E56E6A" stroke-width="5.18" />
<line x1="286.20" y1="691.60" x2="247.30" y2="740.70" stroke="#E56E6A" stroke-width="4.51" />
<line x1="286.20" y1="691.60" x2="285.40" y2="744.60" stroke="#E56E6A" stroke-width="4.3" />
<line x1="286.20" y1="691.60" x2="264.00" y2="758.70" stroke="#E56E6A" stroke-width="4.74" />
<line x1="286.20" y1="691.60" x2="299.40" y2="762.20" stroke="#E56E6A" stroke-width="5.46" />
<line x1="310.60" y1="703.30" x2="244.80" y2="718.20" stroke="#E56E6A" stroke-width="4.47" />
<line x1="310.60" y1="703.30" x2="278.50" y2="721.40" stroke="#E56E6A" stroke-width="5.43" />
<line x1="310.60" y1="703.30" x2="303.90" y2="727.90" stroke="#E56E6A" stroke-width="4.61" />
<line x1="310.60" y1="703.30" x2="323.90" y2="737.50" stroke="#E56E6A" stroke-width="3.86" />
<line x1="310.60" y1="703.30" x2="247.30" y2="740.70" stroke="#E56E6A" stroke-width="4.88" />
<line x1="310.60" y1="703.30" x2="285.40" y2="744.60" stroke="#E56E6A" stroke-width="5.43" />
<line x1="310.60" y1="703.30" x2="264.00" y2="758.70" stroke="#E56E6A" stroke-width="3.25" />
<line x1="310.60" y1="703.30" x2="299.40" y2="762.20" stroke="#E56E6A" stroke-width="4.49" />
<line x1="244.80" y1="718.20" x2="278.50" y2="721.40" stroke="#E56E6A" stroke-width="4.49" />
<line x1="244.80" y1="718.20" x2="303.90" y2="727.90" stroke="#E56E6A" stroke-width="6.08" />
<line x1="244.80" y1="718.20" x2="323.90" y2="737.50" stroke="#E56E6A" stroke-width="6.28" />
<line x1="244.80" y1="718.20" x2="247.30" y2="740.70" stroke="#E56E6A" stroke-width="4.31" />
<line x1="244.80" y1="718.20" x2="285.40" y2="744.60" stroke="#E56E6A" stroke-width="6.14" />
<line x1="244.80" y1="718.20" x2="264.00" y2="758.70" stroke="#E56E6A" stroke-width="5.77" />
<line x1="244.80" y1="718.20" x2="299.40" y2="762.20" stroke="#E56E6A" stroke-width="3.92" />
<line x1="278.50" y1="721.40" x2="303.90" y2="727.90" stroke="#E56E6A" stroke-width="4.62" />
<line x1="278.50" y1="721.40" x2="323.90" y2="737.50" stroke="#E56E6A" stroke-width="3.43" />
<line x1="278.50" y1="721.40" x2="247.30" y2="740.70" stroke="#E56E6A" stroke-width="5.85" />
<line x1="278.50" y1="721.40" x2="285.40" y2="744.60" stroke="#E56E6A" stroke-width="5.32" />
<line x1="278.50" y1="721.40" x2="264.00" y2="758.70" stroke="#E56E6A" stroke-width="6.11" />
<line x1="278.50" y1="721.40" x2="299.40" y2="762.20" stroke="#E56E6A" stroke-width="5.77" />
<line x1="303.90" y1="727.90" x2="323.90" y2="737.50" stroke="#E56E6A" stroke-width="5.34" />
<line x1="303.90" y1="727.90" x2="247.30" y2="740.70" stroke="#E56E6A" stroke-width="5.57" />
<line x1="303.90" y1="727.90" x2="285.40" y2="744.60" stroke="#E56E6A" stroke-width="4.97" />
<line x1="303.90" y1="727.90" x2="264.00" y2="758.70" stroke="#E56E6A" stroke-width="3.36" />
<line x1="303.90" y1="727.90" x2="299.40" y2="762.20" stroke="#E56E6A" stroke-width="5.06" />
<line x1="323.90" y1="737.50" x2="247.30" y2="740.70" stroke="#E56E6A" stroke-width="3.02" />
<line x1="323.90" y1="737.50" x2="285.40" y2="744.60" stroke="#E56E6A" stroke-width="3.5" />
<line x1="323.90" y1="737.50" x2="264.00" y2="758.70" stroke="#E56E6A" stroke-width="5.71" />
<line x1="323.90" y1="737.50" x2="299.40" y2="762.20" stroke="#E56E6A" stroke-width="3.16" />
<line x1="247.30" y1="740.70" x2="285.40" y2="744.60" stroke="#E56E6A" stroke-width="3.32" />
<line x1="247.30" y1="740.70" x2="264.00" y2="758.70" stroke="#E56E6A" stroke-width="3.35" />
<line x1="247.30" y1="740.70" x2="299.40" y2="762.20" stroke="#E56E6A" stroke-width="6.08" />
<line x1="285.40" y1="744.60" x2="264.00" y2="758.70" stroke="#E56E6A" stroke-width="3.63" />
<line x1="285.40" y1="744.60" x2="299.40" y2="762.20" stroke="#E56E6A" stroke-width="3.08" />
<line x1="264.00" y1="758.70" x2="299.40" y2="762.20" stroke="#E56E6A" stroke-width="5.95" />
<line x1="262.00" y1="711.00" x2="266.50" y2="727.00" stroke="#fff" stroke-width="1.3" stroke-linecap="round"/>
<line x1="266.00" y1="709.00" x2="270.50" y2="721.00" stroke="#fff" stroke-width="1.0" stroke-linecap="round"/>
<line x1="254.00" y1="729.00" x2="261.00" y2="735.00" stroke="#fff" stroke-width="1.2" stroke-linecap="round"/>
<line x1="271.00" y1="696.50" x2="277.00" y2="697.50" stroke="#fff" stroke-width="1.2" stroke-linecap="round"/>
<line x1="273.00" y1="703.00" x2="277.50" y2="708.50" stroke="#fff" stroke-width="1.1" stroke-linecap="round"/>
<line x1="311.00" y1="713.50" x2="314.50" y2="722.00" stroke="#fff" stroke-width="1.4" stroke-linecap="round"/>
<line x1="306.00" y1="735.00" x2="313.00" y2="739.50" stroke="#fff" stroke-width="1.6" stroke-linecap="round"/>
<line x1="308.00" y1="746.00" x2="312.00" y2="751.00" stroke="#fff" stroke-width="1.2" stroke-linecap="round"/>
<line x1="280.00" y1="756.50" x2="291.00" y2="759.00" stroke="#fff" stroke-width="2.2" stroke-linecap="round"/>
<line x1="298.00" y1="751.00" x2="305.00" y2="753.50" stroke="#fff" stroke-width="1.3" stroke-linecap="round"/>
<line x1="250.00" y1="731.00" x2="254.00" y2="738.00" stroke="#fff" stroke-width="1.0" stroke-linecap="round"/>
<line x1="293.00" y1="699.00" x2="296.00" y2="701.50" stroke="#fff" stroke-width="1.2" stroke-linecap="round"/>
<line x1="258.00" y1="745.00" x2="262.00" y2="750.00" stroke="#fff" stroke-width="1.0" stroke-linecap="round"/>
<line x1="289.00" y1="733.00" x2="293.00" y2="737.00" stroke="#fff" stroke-width="1.0" stroke-linecap="round"/>
<circle cx="148.20" cy="679.20" r="7.00" fill="#BFBBBB" />
<circle cx="148.20" cy="679.20" r="4.60" fill="#D63A27" />
<circle cx="188.40" cy="670.90" r="6.40" fill="#C3BDBD" />
<circle cx="188.40" cy="670.90" r="4.00" fill="#DD5B4D" />
<circle cx="218.60" cy="680.20" r="7.00" fill="#BFBBBB" />
<circle cx="218.60" cy="680.20" r="4.60" fill="#D63A27" />
<circle cx="165.10" cy="685.50" r="7.00" fill="#BFBBBB" />
<circle cx="165.10" cy="685.50" r="4.60" fill="#D63A27" />
<circle cx="192.40" cy="694.90" r="7.00" fill="#BFBBBB" />
<circle cx="192.40" cy="694.90" r="4.60" fill="#D63A27" />
<circle cx="160.90" cy="702.10" r="7.00" fill="#BFBBBB" />
<circle cx="160.90" cy="702.10" r="4.60" fill="#D63A27" />
<circle cx="172.60" cy="716.80" r="7.00" fill="#BFBBBB" />
<circle cx="172.60" cy="716.80" r="4.60" fill="#D63A27" />
<circle cx="207.80" cy="716.80" r="7.00" fill="#BFBBBB" />
<circle cx="207.80" cy="716.80" r="4.60" fill="#D63A27" />
<circle cx="105.80" cy="697.70" r="7.00" fill="#BFBBBB" />
<circle cx="105.80" cy="697.70" r="4.60" fill="#D63A27" />
<circle cx="135.00" cy="695.60" r="7.00" fill="#BFBBBB" />
<circle cx="135.00" cy="695.60" r="4.60" fill="#D63A27" />
<circle cx="116.00" cy="714.90" r="7.00" fill="#BFBBBB" />
<circle cx="116.00" cy="714.90" r="4.60" fill="#D63A27" />
<circle cx="138.00" cy="716.10" r="7.00" fill="#BFBBBB" />
<circle cx="138.00" cy="716.10" r="4.60" fill="#D63A27" />
<circle cx="82.80" cy="716.10" r="5.20" fill="#C3BDBD" />
<circle cx="82.80" cy="716.10" r="3.00" fill="#E07A70" />
<circle cx="99.10" cy="733.90" r="5.20" fill="#C3BDBD" />
<circle cx="99.10" cy="733.90" r="3.00" fill="#E07A70" />
<circle cx="62.90" cy="741.60" r="7.00" fill="#BFBBBB" />
<circle cx="62.90" cy="741.60" r="4.60" fill="#D63A27" />
<circle cx="89.00" cy="757.80" r="7.00" fill="#BFBBBB" />
<circle cx="89.00" cy="757.80" r="4.60" fill="#D63A27" />
<circle cx="133.40" cy="740.60" r="7.00" fill="#BFBBBB" />
<circle cx="133.40" cy="740.60" r="4.60" fill="#D63A27" />
<circle cx="193.00" cy="735.70" r="7.00" fill="#BFBBBB" />
<circle cx="193.00" cy="735.70" r="4.60" fill="#D63A27" />
<circle cx="175.10" cy="741.70" r="7.00" fill="#BFBBBB" />
<circle cx="175.10" cy="741.70" r="4.60" fill="#D63A27" />
<circle cx="183.80" cy="759.80" r="7.00" fill="#BFBBBB" />
<circle cx="183.80" cy="759.80" r="4.60" fill="#D63A27" />
<circle cx="215.00" cy="749.00" r="5.20" fill="#C3BDBD" />
<circle cx="215.00" cy="749.00" r="3.00" fill="#E07A70" />
<circle cx="151.80" cy="752.90" r="7.00" fill="#BFBBBB" />
<circle cx="151.80" cy="752.90" r="4.60" fill="#D63A27" />
<circle cx="154.90" cy="774.40" r="7.00" fill="#BFBBBB" />
<circle cx="154.90" cy="774.40" r="4.60" fill="#D63A27" />
<circle cx="133.40" cy="770.70" r="7.00" fill="#BFBBBB" />
<circle cx="133.40" cy="770.70" r="4.60" fill="#D63A27" />
<circle cx="134.00" cy="798.30" r="7.00" fill="#BFBBBB" />
<circle cx="134.00" cy="798.30" r="4.60" fill="#D63A27" />
<circle cx="258.10" cy="698.90" r="6.40" fill="#C3BDBD" />
<circle cx="258.10" cy="698.90" r="4.00" fill="#DD5B4D" />
<circle cx="286.20" cy="691.60" r="6.40" fill="#C3BDBD" />
<circle cx="286.20" cy="691.60" r="4.00" fill="#DD5B4D" />
<circle cx="310.60" cy="703.30" r="7.00" fill="#BFBBBB" />
<circle cx="310.60" cy="703.30" r="4.60" fill="#D63A27" />
<circle cx="244.80" cy="718.20" r="7.00" fill="#BFBBBB" />
<circle cx="244.80" cy="718.20" r="4.60" fill="#D63A27" />
<circle cx="278.50" cy="721.40" r="7.00" fill="#BFBBBB" />
<circle cx="278.50" cy="721.40" r="4.60" fill="#D63A27" />
<circle cx="303.90" cy="727.90" r="6.40" fill="#C3BDBD" />
<circle cx="303.90" cy="727.90" r="4.00" fill="#DD5B4D" />
<circle cx="323.90" cy="737.50" r="7.00" fill="#BFBBBB" />
<circle cx="323.90" cy="737.50" r="4.60" fill="#D63A27" />
<circle cx="247.30" cy="740.70" r="6.40" fill="#C3BDBD" />
<circle cx="247.30" cy="740.70" r="4.00" fill="#DD5B4D" />
<circle cx="285.40" cy="744.60" r="6.40" fill="#C3BDBD" />
<circle cx="285.40" cy="744.60" r="4.00" fill="#DD5B4D" />
<circle cx="264.00" cy="758.70" r="7.00" fill="#BFBBBB" />
<circle cx="264.00" cy="758.70" r="4.60" fill="#D63A27" />
<circle cx="299.40" cy="762.20" r="7.00" fill="#BFBBBB" />
<circle cx="299.40" cy="762.20" r="4.60" fill="#D63A27" />
<circle cx="210.30" cy="810.10" r="7.00" fill="#BFBBBB" />
<circle cx="210.30" cy="810.10" r="4.60" fill="#D63A27" />
<circle cx="187.60" cy="825.50" r="7.00" fill="#BFBBBB" />
<circle cx="187.60" cy="825.50" r="4.60" fill="#D63A27" />
<circle cx="232.10" cy="823.30" r="7.00" fill="#BFBBBB" />
<circle cx="232.10" cy="823.30" r="4.60" fill="#D63A27" />
<ellipse cx="188.80" cy="694.40" rx="52.00" ry="36.50" fill="none" stroke="#1a1a1a" stroke-width="0.9" transform="rotate(8 188.80 694.40)"/>
<ellipse cx="285.40" cy="730.60" rx="54.00" ry="48.20" fill="none" stroke="#1a1a1a" stroke-width="0.9" transform="rotate(20 285.40 730.60)"/>
<ellipse cx="125.00" cy="706.30" rx="26.80" ry="24.50" fill="none" stroke="#1a1a1a" stroke-width="0.9"/>
<ellipse cx="93.60" cy="722.40" rx="18.40" ry="17.00" fill="none" stroke="#1a1a1a" stroke-width="0.9" transform="rotate(35 93.60 722.40)"/>
<ellipse cx="76.00" cy="747.00" rx="25.00" ry="18.00" fill="none" stroke="#1a1a1a" stroke-width="0.9" transform="rotate(35 76.00 747.00)"/>
<ellipse cx="185.20" cy="748.00" rx="20.00" ry="24.00" fill="none" stroke="#1a1a1a" stroke-width="0.9" transform="rotate(-25 185.20 748.00)"/>
<ellipse cx="154.50" cy="766.50" rx="10.00" ry="22.30" fill="none" stroke="#1a1a1a" stroke-width="0.9" transform="rotate(-10 154.50 766.50)"/>
<ellipse cx="132.60" cy="784.50" rx="12.50" ry="24.50" fill="none" stroke="#1a1a1a" stroke-width="0.9" transform="rotate(5 132.60 784.50)"/>
<ellipse cx="198.70" cy="819.30" rx="23.00" ry="16.00" fill="none" stroke="#1a1a1a" stroke-width="0.9" transform="rotate(-30 198.70 819.30)"/>
<text x="194.40" y="654.00" font-size="9.5" text-anchor="middle" >Immune cell activation</text>
<text x="110.50" y="676.00" font-size="9.5" text-anchor="middle" >Cell adhesion</text>
<text x="26.10" y="709.50" font-size="9.5" >Chemotaxis</text>
<text x="30.70" y="778.50" font-size="9.5" >Negative regulation</text>
<text x="30.70" y="790.00" font-size="9.5" >of viral reproduction</text>
<text x="116.10" y="820.00" font-size="9.5" >Defense</text>
<text x="116.10" y="832.00" font-size="9.5" >response</text>
<text x="165.60" y="790.00" font-size="9.5" >Response</text>
<text x="165.60" y="800.80" font-size="9.5" >to stress</text>
<text x="208.20" y="767.50" font-size="9.5" >Immune</text>
<text x="208.20" y="778.00" font-size="9.5" >response</text>
<text x="215.80" y="799.50" font-size="9.5" >Cleveage</text>
<text x="218.90" y="844.00" font-size="9.5" >Cytolysis</text>
<text x="293.50" y="672.00" font-size="9.5" >Regulation of</text>
<text x="293.50" y="683.00" font-size="9.5" >ion transport</text>
<text x="365.20" y="706.00" font-size="9.5" >FDR value cutoff 0.025</text>
<line x1="356.00" y1="737.00" x2="377.80" y2="737.00" stroke="#E89090" stroke-width="0.8" />
<circle cx="357.00" cy="737.00" r="1.30" fill="#E09A9A" />
<circle cx="377.20" cy="737.00" r="1.30" fill="#E09A9A" />
<text x="382.80" y="740.30" font-size="9.5" >Upregulation</text>
<rect x="370.20" y="747.00" width="45.30" height="7.50" fill="url(#fdr)" stroke="#333" stroke-width="0.6" />
<text x="373.20" y="764.30" font-size="9.5" text-anchor="middle" >0.00</text>
<text x="416.10" y="764.30" font-size="9.5" text-anchor="middle" >0.05</text>
<text x="395.4" y="776.3" font-size="9.5" text-anchor="middle" fill="#1a1a1a">FDR <tspan font-style="italic">q</tspan> value</text>
<polygon points="382.4,802.2 425.9,813.4 425.9,825.3 382.4,825.3" fill="#C8C8C8"/>
<rect x="382.40" y="802.20" width="43.50" height="23.10" fill="none" stroke="#222" stroke-width="0.9" />
<line x1="382.40" y1="802.20" x2="425.90" y2="813.40" stroke="#222" stroke-width="0.9" />
<text x="380.50" y="804.30" font-size="9.5" text-anchor="end" >30</text>
<text x="427.30" y="821.50" font-size="9.5" >10</text>
<text x="384.30" y="833.80" font-size="9.5" text-anchor="middle" >0.00</text>
<text x="428.10" y="833.80" font-size="9.5" text-anchor="middle" >0.05</text>
<text x="406.2" y="846.5" font-size="9.5" text-anchor="middle" fill="#1a1a1a">FDR <tspan font-style="italic">q</tspan> value</text>
<text x="365.30" y="813.30" font-size="9.5" text-anchor="middle" transform="rotate(-90 365.30 813.30)" >Node size</text>
</svg>
</body></html>
